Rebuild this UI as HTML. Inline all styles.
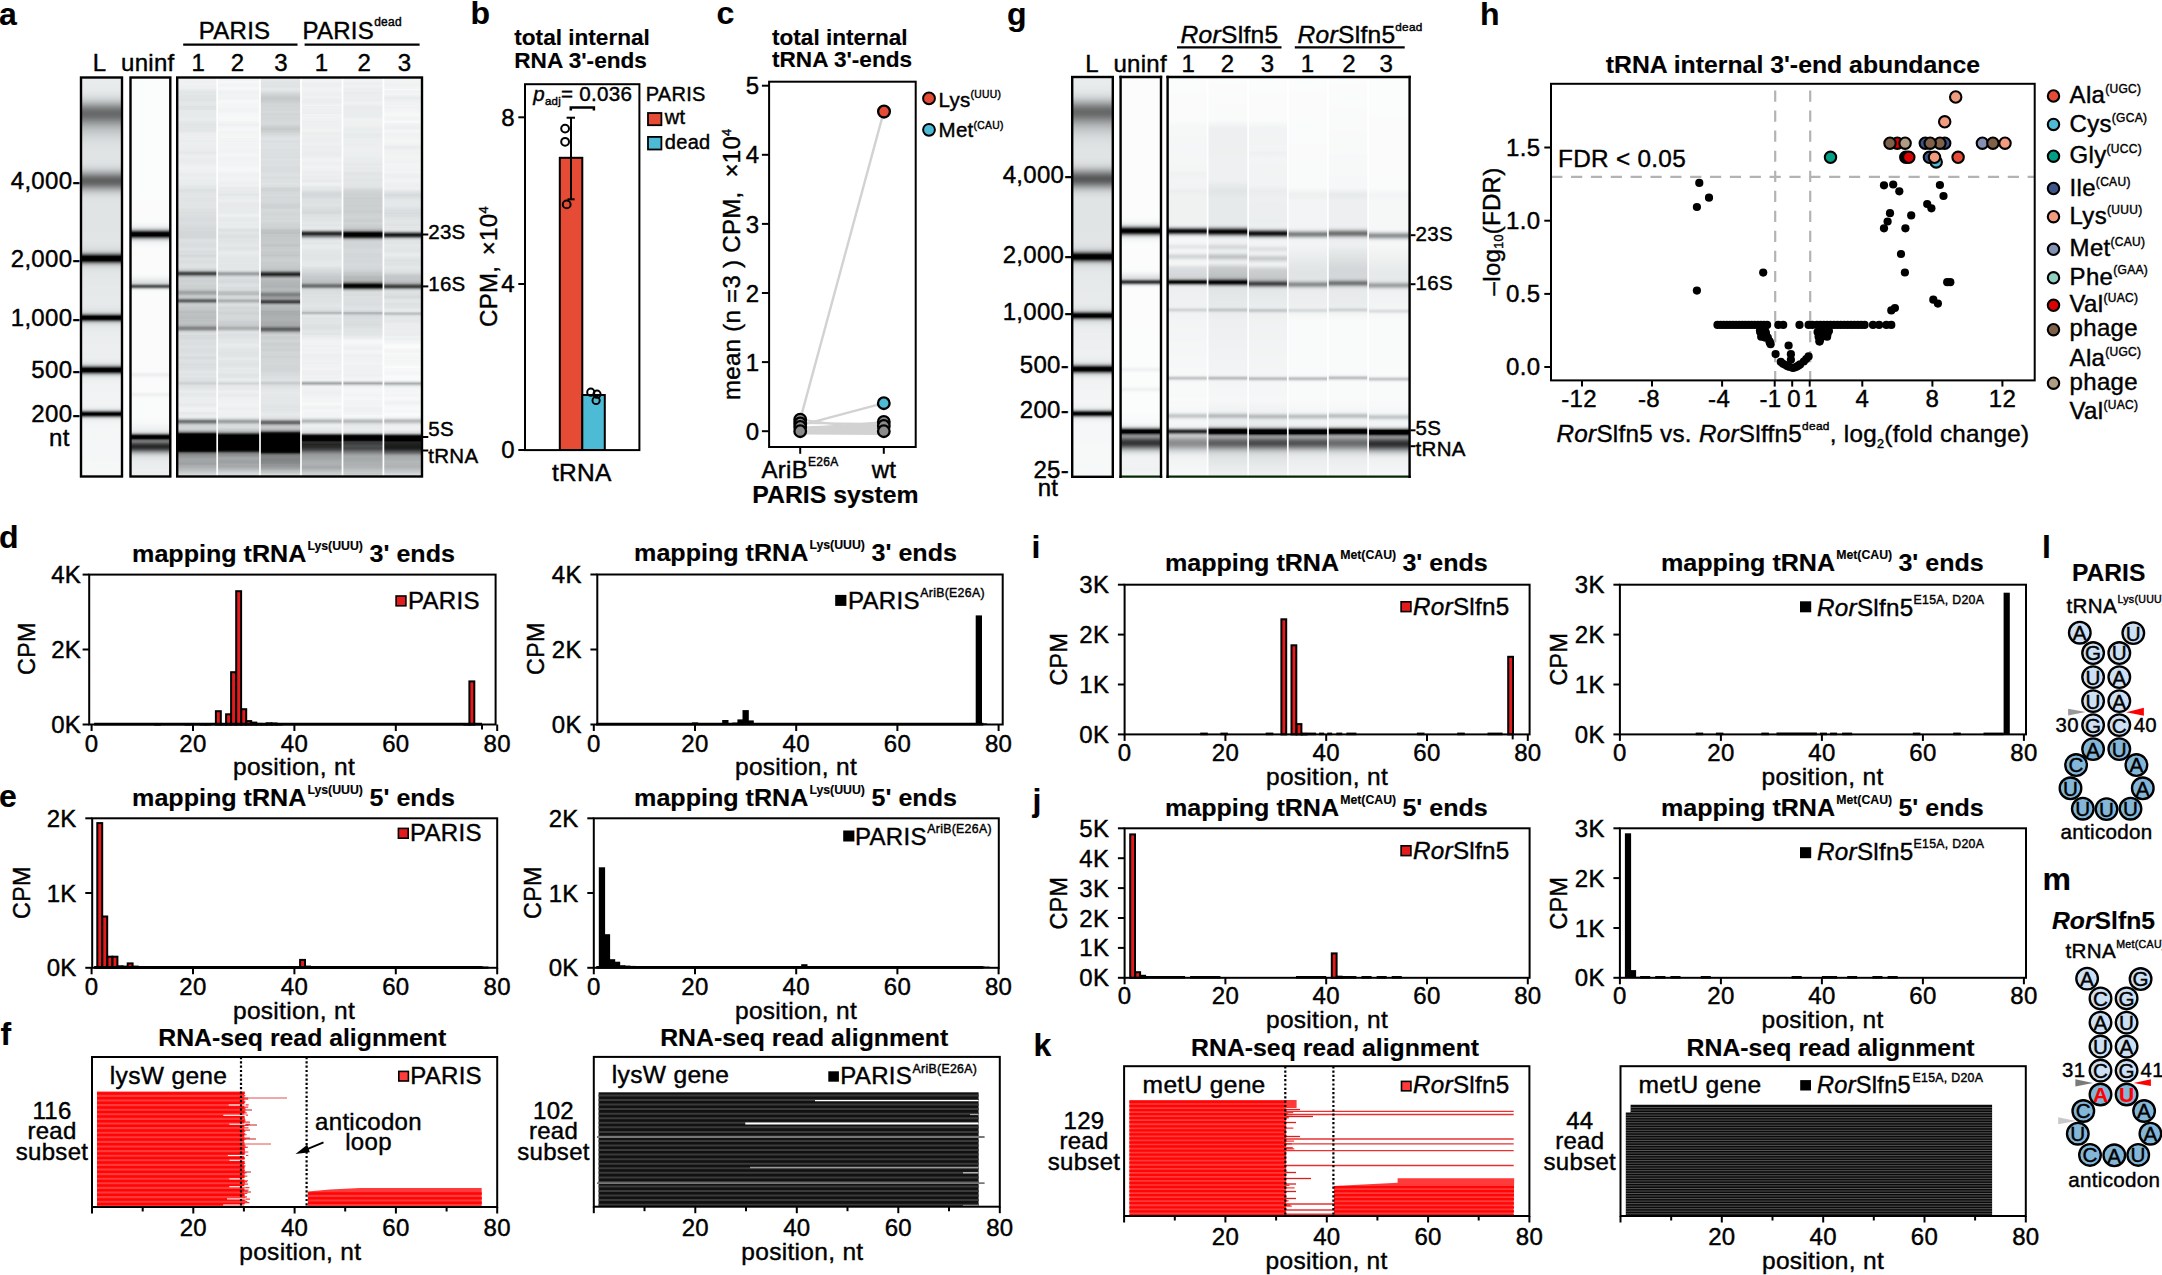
<!DOCTYPE html>
<html lang="en"><head><meta charset="utf-8"><title>Figure: tRNA cleavage by PARIS and RorSlfn5</title>
<style>html,body{margin:0;padding:0;background:#fff}svg{display:block}text{font-family:"Liberation Sans",Arial,Helvetica,sans-serif;fill:#000;stroke:#000;stroke-width:.42px;letter-spacing:.3px}text[font-weight=bold]{letter-spacing:0;stroke-width:.15px}</style></head>
<body><svg width="2162" height="1275" viewBox="0 0 2162 1275">
<defs><linearGradient id="g1" x1="0" y1="0" x2="0" y2="1"><stop offset="0" stop-color="#eaeced"/><stop offset="0.005013" stop-color="#eaeced"/><stop offset="0.007519" stop-color="#e9eced"/><stop offset="0.01003" stop-color="#e9eced"/><stop offset="0.01253" stop-color="#e9ecec"/><stop offset="0.01504" stop-color="#e9ebec"/><stop offset="0.01754" stop-color="#e9ebec"/><stop offset="0.02005" stop-color="#e8ebec"/><stop offset="0.02256" stop-color="#e8ebec"/><stop offset="0.02506" stop-color="#e8eaeb"/><stop offset="0.02757" stop-color="#e7eaeb"/><stop offset="0.03008" stop-color="#e7e9ea"/><stop offset="0.03258" stop-color="#e6e9ea"/><stop offset="0.03509" stop-color="#e5e8e9"/><stop offset="0.03759" stop-color="#e3e7e8"/><stop offset="0.0401" stop-color="#e2e5e6"/><stop offset="0.04261" stop-color="#dfe3e4"/><stop offset="0.04511" stop-color="#dde0e2"/><stop offset="0.04762" stop-color="#d9dddf"/><stop offset="0.05013" stop-color="#d6d9db"/><stop offset="0.05263" stop-color="#d1d5d6"/><stop offset="0.05514" stop-color="#cccfd0"/><stop offset="0.05764" stop-color="#c5c9ca"/><stop offset="0.06015" stop-color="#bec1c2"/><stop offset="0.06266" stop-color="#b6b9ba"/><stop offset="0.06516" stop-color="#adb0b1"/><stop offset="0.06767" stop-color="#a4a7a8"/><stop offset="0.07018" stop-color="#9a9d9e"/><stop offset="0.07268" stop-color="#909394"/><stop offset="0.07519" stop-color="#87898a"/><stop offset="0.07769" stop-color="#7e8181"/><stop offset="0.0802" stop-color="#77797a"/><stop offset="0.08271" stop-color="#707273"/><stop offset="0.08521" stop-color="#6c6e6e"/><stop offset="0.08772" stop-color="#696a6b"/><stop offset="0.09023" stop-color="#67696a"/><stop offset="0.09273" stop-color="#686a6a"/><stop offset="0.09524" stop-color="#6a6c6d"/><stop offset="0.09774" stop-color="#6e7070"/><stop offset="0.1003" stop-color="#737575"/><stop offset="0.1028" stop-color="#797b7b"/><stop offset="0.1053" stop-color="#7f8282"/><stop offset="0.1078" stop-color="#868989"/><stop offset="0.1103" stop-color="#8d9091"/><stop offset="0.1128" stop-color="#959798"/><stop offset="0.1153" stop-color="#9b9e9f"/><stop offset="0.1178" stop-color="#a2a5a6"/><stop offset="0.1203" stop-color="#a8abac"/><stop offset="0.1228" stop-color="#adb1b2"/><stop offset="0.1253" stop-color="#b3b6b7"/><stop offset="0.1278" stop-color="#b7babc"/><stop offset="0.1303" stop-color="#bbbfc0"/><stop offset="0.1328" stop-color="#bfc3c4"/><stop offset="0.1353" stop-color="#c3c6c7"/><stop offset="0.1378" stop-color="#c6c9ca"/><stop offset="0.1404" stop-color="#c9cccd"/><stop offset="0.1429" stop-color="#cbcfd0"/><stop offset="0.1454" stop-color="#ced1d3"/><stop offset="0.1479" stop-color="#d0d4d5"/><stop offset="0.1504" stop-color="#d2d6d7"/><stop offset="0.1529" stop-color="#d4d8d9"/><stop offset="0.1554" stop-color="#d6d9db"/><stop offset="0.1579" stop-color="#d7dbdc"/><stop offset="0.1604" stop-color="#d9dcde"/><stop offset="0.1629" stop-color="#dadedf"/><stop offset="0.1654" stop-color="#dbdfe0"/><stop offset="0.1679" stop-color="#dce0e1"/><stop offset="0.1704" stop-color="#dde1e2"/><stop offset="0.1729" stop-color="#dee1e3"/><stop offset="0.1754" stop-color="#dee2e3"/><stop offset="0.1779" stop-color="#dfe3e4"/><stop offset="0.1805" stop-color="#dfe3e4"/><stop offset="0.183" stop-color="#e0e3e4"/><stop offset="0.1855" stop-color="#e0e4e5"/><stop offset="0.193" stop-color="#e0e4e5"/><stop offset="0.1955" stop-color="#e1e4e5"/><stop offset="0.2005" stop-color="#e1e4e5"/><stop offset="0.203" stop-color="#e0e4e5"/><stop offset="0.2055" stop-color="#e0e4e5"/><stop offset="0.208" stop-color="#e0e3e5"/><stop offset="0.2105" stop-color="#dfe3e4"/><stop offset="0.213" stop-color="#dee2e3"/><stop offset="0.2155" stop-color="#dde1e2"/><stop offset="0.218" stop-color="#dbdfe0"/><stop offset="0.2206" stop-color="#d9dcde"/><stop offset="0.2231" stop-color="#d5d9da"/><stop offset="0.2256" stop-color="#d1d5d6"/><stop offset="0.2281" stop-color="#cccfd1"/><stop offset="0.2306" stop-color="#c5c9ca"/><stop offset="0.2331" stop-color="#bdc0c2"/><stop offset="0.2356" stop-color="#b4b7b8"/><stop offset="0.2381" stop-color="#a9acad"/><stop offset="0.2406" stop-color="#9ea0a1"/><stop offset="0.2431" stop-color="#929495"/><stop offset="0.2456" stop-color="#868889"/><stop offset="0.2481" stop-color="#7a7c7d"/><stop offset="0.2506" stop-color="#707273"/><stop offset="0.2531" stop-color="#686a6a"/><stop offset="0.2556" stop-color="#626464"/><stop offset="0.2581" stop-color="#5f6161"/><stop offset="0.2607" stop-color="#5f6161"/><stop offset="0.2632" stop-color="#626464"/><stop offset="0.2657" stop-color="#686a6a"/><stop offset="0.2682" stop-color="#707273"/><stop offset="0.2707" stop-color="#7a7c7d"/><stop offset="0.2732" stop-color="#868889"/><stop offset="0.2757" stop-color="#929495"/><stop offset="0.2782" stop-color="#9ea0a1"/><stop offset="0.2807" stop-color="#a9acad"/><stop offset="0.2832" stop-color="#b4b7b8"/><stop offset="0.2857" stop-color="#bdc0c2"/><stop offset="0.2882" stop-color="#c5c9ca"/><stop offset="0.2907" stop-color="#cccfd1"/><stop offset="0.2932" stop-color="#d1d5d6"/><stop offset="0.2957" stop-color="#d5d9da"/><stop offset="0.2982" stop-color="#d9dcde"/><stop offset="0.3008" stop-color="#dbdfe0"/><stop offset="0.3033" stop-color="#dde1e2"/><stop offset="0.3058" stop-color="#dee2e3"/><stop offset="0.3083" stop-color="#dfe3e4"/><stop offset="0.3108" stop-color="#e0e3e5"/><stop offset="0.3133" stop-color="#e0e4e5"/><stop offset="0.3158" stop-color="#e1e4e5"/><stop offset="0.381" stop-color="#e1e4e5"/><stop offset="0.3835" stop-color="#e1e4e6"/><stop offset="0.386" stop-color="#e1e4e6"/><stop offset="0.3885" stop-color="#e1e5e6"/><stop offset="0.411" stop-color="#e1e5e6"/><stop offset="0.4135" stop-color="#e1e4e5"/><stop offset="0.416" stop-color="#e0e4e5"/><stop offset="0.4185" stop-color="#e0e3e4"/><stop offset="0.4211" stop-color="#dfe2e4"/><stop offset="0.4236" stop-color="#dde1e2"/><stop offset="0.4261" stop-color="#dbdfe1"/><stop offset="0.4286" stop-color="#d9ddde"/><stop offset="0.4311" stop-color="#d5d9da"/><stop offset="0.4336" stop-color="#ced2d3"/><stop offset="0.4361" stop-color="#c3c6c7"/><stop offset="0.4386" stop-color="#afb3b4"/><stop offset="0.4411" stop-color="#919495"/><stop offset="0.4436" stop-color="#686a6b"/><stop offset="0.4461" stop-color="#383939"/><stop offset="0.4486" stop-color="#080808"/><stop offset="0.4511" stop-color="#000000"/><stop offset="0.4561" stop-color="#000000"/><stop offset="0.4586" stop-color="#080809"/><stop offset="0.4612" stop-color="#38393a"/><stop offset="0.4637" stop-color="#696b6b"/><stop offset="0.4662" stop-color="#929596"/><stop offset="0.4687" stop-color="#b0b3b4"/><stop offset="0.4712" stop-color="#c4c7c8"/><stop offset="0.4737" stop-color="#cfd3d4"/><stop offset="0.4762" stop-color="#d6dadb"/><stop offset="0.4787" stop-color="#dadedf"/><stop offset="0.4812" stop-color="#dde1e2"/><stop offset="0.4837" stop-color="#dfe3e4"/><stop offset="0.4862" stop-color="#e1e4e5"/><stop offset="0.4887" stop-color="#e2e5e6"/><stop offset="0.4912" stop-color="#e3e6e7"/><stop offset="0.4937" stop-color="#e3e6e8"/><stop offset="0.4962" stop-color="#e4e7e8"/><stop offset="0.5013" stop-color="#e4e7e8"/><stop offset="0.5038" stop-color="#e5e8e9"/><stop offset="0.5213" stop-color="#e5e8e9"/><stop offset="0.5238" stop-color="#e6e8e9"/><stop offset="0.5263" stop-color="#e6e9ea"/><stop offset="0.5489" stop-color="#e6e9ea"/><stop offset="0.5514" stop-color="#e7e9ea"/><stop offset="0.5539" stop-color="#e7eaea"/><stop offset="0.5564" stop-color="#e7eaeb"/><stop offset="0.5639" stop-color="#e7eaeb"/><stop offset="0.5664" stop-color="#e7eaea"/><stop offset="0.5689" stop-color="#e6e9ea"/><stop offset="0.5714" stop-color="#e6e9ea"/><stop offset="0.5739" stop-color="#e5e8e9"/><stop offset="0.5764" stop-color="#e4e7e8"/><stop offset="0.5789" stop-color="#e2e6e7"/><stop offset="0.5815" stop-color="#e0e3e5"/><stop offset="0.584" stop-color="#dce0e1"/><stop offset="0.5865" stop-color="#d5d9da"/><stop offset="0.589" stop-color="#c7cbcc"/><stop offset="0.5915" stop-color="#acafb0"/><stop offset="0.594" stop-color="#7e8081"/><stop offset="0.5965" stop-color="#404242"/><stop offset="0.599" stop-color="#050505"/><stop offset="0.6015" stop-color="#000000"/><stop offset="0.604" stop-color="#000000"/><stop offset="0.6065" stop-color="#1b1c1c"/><stop offset="0.609" stop-color="#5a5c5d"/><stop offset="0.6115" stop-color="#939697"/><stop offset="0.614" stop-color="#babdbe"/><stop offset="0.6165" stop-color="#cfd3d4"/><stop offset="0.619" stop-color="#dadedf"/><stop offset="0.6216" stop-color="#dfe3e4"/><stop offset="0.6241" stop-color="#e3e6e7"/><stop offset="0.6266" stop-color="#e5e8e9"/><stop offset="0.6291" stop-color="#e7e9ea"/><stop offset="0.6316" stop-color="#e8ebeb"/><stop offset="0.6341" stop-color="#e9ebec"/><stop offset="0.6366" stop-color="#e9eced"/><stop offset="0.6391" stop-color="#eaeced"/><stop offset="0.6416" stop-color="#eaeded"/><stop offset="0.6441" stop-color="#eaedee"/><stop offset="0.6466" stop-color="#eaedee"/><stop offset="0.6491" stop-color="#ebedee"/><stop offset="0.6591" stop-color="#ebedee"/><stop offset="0.6617" stop-color="#ebeeee"/><stop offset="0.6642" stop-color="#ebeeee"/><stop offset="0.6667" stop-color="#ebeeef"/><stop offset="0.6692" stop-color="#eceeef"/><stop offset="0.6842" stop-color="#eceeef"/><stop offset="0.6867" stop-color="#ecefef"/><stop offset="0.6892" stop-color="#ecefef"/><stop offset="0.6917" stop-color="#edefef"/><stop offset="0.6942" stop-color="#edefef"/><stop offset="0.6967" stop-color="#ecefef"/><stop offset="0.6992" stop-color="#eceeef"/><stop offset="0.7018" stop-color="#eceeef"/><stop offset="0.7043" stop-color="#ebedee"/><stop offset="0.7068" stop-color="#eaeced"/><stop offset="0.7093" stop-color="#e8ebec"/><stop offset="0.7118" stop-color="#e6e9ea"/><stop offset="0.7143" stop-color="#e1e4e5"/><stop offset="0.7168" stop-color="#d8dcdd"/><stop offset="0.7193" stop-color="#c8cccd"/><stop offset="0.7218" stop-color="#abaeaf"/><stop offset="0.7243" stop-color="#7d7f80"/><stop offset="0.7268" stop-color="#434444"/><stop offset="0.7293" stop-color="#0a0a0a"/><stop offset="0.7318" stop-color="#000000"/><stop offset="0.7343" stop-color="#000000"/><stop offset="0.7368" stop-color="#0a0a0a"/><stop offset="0.7393" stop-color="#434545"/><stop offset="0.7419" stop-color="#7e8081"/><stop offset="0.7444" stop-color="#acafb0"/><stop offset="0.7469" stop-color="#c9cdce"/><stop offset="0.7494" stop-color="#d9dddf"/><stop offset="0.7519" stop-color="#e3e6e7"/><stop offset="0.7544" stop-color="#e8eaeb"/><stop offset="0.7569" stop-color="#ebedee"/><stop offset="0.7594" stop-color="#edefef"/><stop offset="0.7619" stop-color="#eef0f1"/><stop offset="0.7644" stop-color="#eff1f1"/><stop offset="0.7669" stop-color="#eff1f2"/><stop offset="0.7694" stop-color="#f0f2f2"/><stop offset="0.7719" stop-color="#f0f2f3"/><stop offset="0.7744" stop-color="#f0f2f3"/><stop offset="0.7769" stop-color="#f1f2f3"/><stop offset="0.7794" stop-color="#f1f2f3"/><stop offset="0.782" stop-color="#f1f3f3"/><stop offset="0.7895" stop-color="#f1f3f3"/><stop offset="0.792" stop-color="#f1f3f4"/><stop offset="0.7945" stop-color="#f1f3f4"/><stop offset="0.797" stop-color="#f2f3f4"/><stop offset="0.8045" stop-color="#f2f3f4"/><stop offset="0.807" stop-color="#f2f4f4"/><stop offset="0.8145" stop-color="#f2f4f4"/><stop offset="0.817" stop-color="#f2f3f4"/><stop offset="0.8195" stop-color="#f1f3f3"/><stop offset="0.8221" stop-color="#f0f2f3"/><stop offset="0.8246" stop-color="#eef0f1"/><stop offset="0.8271" stop-color="#ebedee"/><stop offset="0.8296" stop-color="#e3e7e8"/><stop offset="0.8321" stop-color="#d2d6d7"/><stop offset="0.8346" stop-color="#b0b3b4"/><stop offset="0.8371" stop-color="#757778"/><stop offset="0.8396" stop-color="#2e2f2f"/><stop offset="0.8421" stop-color="#000000"/><stop offset="0.8446" stop-color="#000000"/><stop offset="0.8471" stop-color="#2e2f30"/><stop offset="0.8496" stop-color="#767878"/><stop offset="0.8521" stop-color="#b0b4b5"/><stop offset="0.8546" stop-color="#d3d7d8"/><stop offset="0.8571" stop-color="#e5e8e9"/><stop offset="0.8596" stop-color="#edefef"/><stop offset="0.8622" stop-color="#f0f2f2"/><stop offset="0.8647" stop-color="#f2f3f4"/><stop offset="0.8672" stop-color="#f3f4f5"/><stop offset="0.8697" stop-color="#f4f5f6"/><stop offset="0.8722" stop-color="#f4f5f6"/><stop offset="0.8747" stop-color="#f4f6f6"/><stop offset="0.8772" stop-color="#f4f6f6"/><stop offset="0.8797" stop-color="#f5f6f6"/><stop offset="0.9048" stop-color="#f5f6f6"/><stop offset="0.9073" stop-color="#f5f6f7"/><stop offset="0.9474" stop-color="#f5f6f7"/><stop offset="0.9499" stop-color="#f5f7f7"/><stop offset="0.9624" stop-color="#f5f7f7"/><stop offset="0.9649" stop-color="#f6f7f7"/><stop offset="1" stop-color="#f6f7f7"/></linearGradient>
<linearGradient id="g2" x1="0" y1="0" x2="0" y2="1"><stop offset="0" stop-color="#fbfcfc"/><stop offset="0.3083" stop-color="#fbfcfc"/><stop offset="0.3108" stop-color="#fbfbfc"/><stop offset="0.3459" stop-color="#fbfbfc"/><stop offset="0.3484" stop-color="#fbfbfb"/><stop offset="0.3509" stop-color="#fbfbfb"/><stop offset="0.3534" stop-color="#fafbfb"/><stop offset="0.3559" stop-color="#fafbfb"/><stop offset="0.3584" stop-color="#fafafb"/><stop offset="0.3609" stop-color="#f9fafa"/><stop offset="0.3634" stop-color="#f8f9f9"/><stop offset="0.3659" stop-color="#f6f7f8"/><stop offset="0.3684" stop-color="#f4f6f6"/><stop offset="0.3709" stop-color="#f1f3f3"/><stop offset="0.3734" stop-color="#ebeeee"/><stop offset="0.3759" stop-color="#e0e4e5"/><stop offset="0.3784" stop-color="#cfd2d4"/><stop offset="0.381" stop-color="#b1b5b6"/><stop offset="0.3835" stop-color="#868889"/><stop offset="0.386" stop-color="#4e5050"/><stop offset="0.3885" stop-color="#171717"/><stop offset="0.391" stop-color="#000000"/><stop offset="0.396" stop-color="#000000"/><stop offset="0.3985" stop-color="#2c2d2d"/><stop offset="0.401" stop-color="#656768"/><stop offset="0.4035" stop-color="#999c9c"/><stop offset="0.406" stop-color="#bfc2c3"/><stop offset="0.4085" stop-color="#d7dbdc"/><stop offset="0.411" stop-color="#e6e8e9"/><stop offset="0.4135" stop-color="#eef0f1"/><stop offset="0.416" stop-color="#f2f4f5"/><stop offset="0.4185" stop-color="#f5f6f7"/><stop offset="0.4211" stop-color="#f7f8f8"/><stop offset="0.4236" stop-color="#f8f9f9"/><stop offset="0.4261" stop-color="#f9fafa"/><stop offset="0.4286" stop-color="#fafafb"/><stop offset="0.4311" stop-color="#fafbfb"/><stop offset="0.4336" stop-color="#fafbfb"/><stop offset="0.4361" stop-color="#fbfbfb"/><stop offset="0.4411" stop-color="#fbfbfb"/><stop offset="0.4436" stop-color="#fbfbfc"/><stop offset="0.4787" stop-color="#fbfbfc"/><stop offset="0.4812" stop-color="#fbfbfb"/><stop offset="0.4862" stop-color="#fbfbfb"/><stop offset="0.4887" stop-color="#fafbfb"/><stop offset="0.4912" stop-color="#fafbfb"/><stop offset="0.4937" stop-color="#f9fafa"/><stop offset="0.4962" stop-color="#f8f9f9"/><stop offset="0.4987" stop-color="#f5f7f7"/><stop offset="0.5013" stop-color="#f2f4f4"/><stop offset="0.5038" stop-color="#eef0f0"/><stop offset="0.5063" stop-color="#e9ebec"/><stop offset="0.5088" stop-color="#e3e7e8"/><stop offset="0.5113" stop-color="#dfe2e3"/><stop offset="0.5138" stop-color="#d8dcdd"/><stop offset="0.5163" stop-color="#c6c9cb"/><stop offset="0.5188" stop-color="#9c9fa0"/><stop offset="0.5213" stop-color="#656768"/><stop offset="0.5238" stop-color="#515353"/><stop offset="0.5263" stop-color="#787b7b"/><stop offset="0.5288" stop-color="#b6babb"/><stop offset="0.5313" stop-color="#e0e4e5"/><stop offset="0.5338" stop-color="#f3f5f5"/><stop offset="0.5363" stop-color="#f9f9fa"/><stop offset="0.5388" stop-color="#fafbfb"/><stop offset="0.5414" stop-color="#fafbfb"/><stop offset="0.5439" stop-color="#fbfbfb"/><stop offset="0.7318" stop-color="#fbfbfb"/><stop offset="0.7343" stop-color="#fafbfb"/><stop offset="0.7368" stop-color="#f9fafa"/><stop offset="0.7393" stop-color="#f6f7f7"/><stop offset="0.7419" stop-color="#f0f2f3"/><stop offset="0.7444" stop-color="#eceeef"/><stop offset="0.7469" stop-color="#edeff0"/><stop offset="0.7494" stop-color="#f3f4f5"/><stop offset="0.7519" stop-color="#f8f8f9"/><stop offset="0.7544" stop-color="#fafafb"/><stop offset="0.7569" stop-color="#fafbfb"/><stop offset="0.7594" stop-color="#fbfbfb"/><stop offset="0.7794" stop-color="#fbfbfb"/><stop offset="0.782" stop-color="#fafbfb"/><stop offset="0.7845" stop-color="#fafbfb"/><stop offset="0.787" stop-color="#f9fafa"/><stop offset="0.7895" stop-color="#f6f7f7"/><stop offset="0.792" stop-color="#f1f3f3"/><stop offset="0.7945" stop-color="#eef0f1"/><stop offset="0.797" stop-color="#f0f2f3"/><stop offset="0.7995" stop-color="#f5f6f7"/><stop offset="0.802" stop-color="#f9f9fa"/><stop offset="0.8045" stop-color="#fafbfb"/><stop offset="0.8521" stop-color="#fafbfb"/><stop offset="0.8546" stop-color="#fafafb"/><stop offset="0.8571" stop-color="#f9fafa"/><stop offset="0.8596" stop-color="#f9fafa"/><stop offset="0.8622" stop-color="#f8f9f9"/><stop offset="0.8647" stop-color="#f8f8f9"/><stop offset="0.8672" stop-color="#f7f8f8"/><stop offset="0.8697" stop-color="#f5f7f7"/><stop offset="0.8722" stop-color="#f4f5f6"/><stop offset="0.8747" stop-color="#f2f4f4"/><stop offset="0.8772" stop-color="#f1f2f3"/><stop offset="0.8797" stop-color="#eef0f1"/><stop offset="0.8822" stop-color="#eceeef"/><stop offset="0.8847" stop-color="#e8ebeb"/><stop offset="0.8872" stop-color="#dfe3e4"/><stop offset="0.8897" stop-color="#cdd0d2"/><stop offset="0.8922" stop-color="#a6a9aa"/><stop offset="0.8947" stop-color="#666869"/><stop offset="0.8972" stop-color="#1a1a1b"/><stop offset="0.8997" stop-color="#000000"/><stop offset="0.9023" stop-color="#000000"/><stop offset="0.9048" stop-color="#0e0e0e"/><stop offset="0.9073" stop-color="#464848"/><stop offset="0.9098" stop-color="#6b6d6e"/><stop offset="0.9123" stop-color="#737576"/><stop offset="0.9148" stop-color="#666869"/><stop offset="0.9173" stop-color="#515353"/><stop offset="0.9198" stop-color="#3d3e3e"/><stop offset="0.9223" stop-color="#2e2f2f"/><stop offset="0.9248" stop-color="#282829"/><stop offset="0.9273" stop-color="#2c2d2d"/><stop offset="0.9298" stop-color="#3a3b3b"/><stop offset="0.9323" stop-color="#4f5051"/><stop offset="0.9348" stop-color="#696b6c"/><stop offset="0.9373" stop-color="#858888"/><stop offset="0.9398" stop-color="#9fa2a3"/><stop offset="0.9424" stop-color="#b4b7b8"/><stop offset="0.9449" stop-color="#c5c8ca"/><stop offset="0.9474" stop-color="#d1d5d6"/><stop offset="0.9499" stop-color="#d9ddde"/><stop offset="0.9524" stop-color="#dee2e3"/><stop offset="0.9549" stop-color="#e2e6e7"/><stop offset="0.9574" stop-color="#e5e8e9"/><stop offset="0.9599" stop-color="#e7eaeb"/><stop offset="0.9624" stop-color="#e9ebec"/><stop offset="0.9649" stop-color="#e9eced"/><stop offset="0.9674" stop-color="#eaeced"/><stop offset="0.9699" stop-color="#eaedee"/><stop offset="0.9724" stop-color="#ebedee"/><stop offset="0.9749" stop-color="#ebedee"/><stop offset="0.9774" stop-color="#ebeeee"/><stop offset="0.9799" stop-color="#ebeeef"/><stop offset="0.9825" stop-color="#eceeef"/><stop offset="0.99" stop-color="#eceeef"/><stop offset="0.9925" stop-color="#ecefef"/><stop offset="0.995" stop-color="#edefef"/><stop offset="0.9975" stop-color="#edeff0"/><stop offset="1" stop-color="#edeff0"/></linearGradient>
<linearGradient id="g3" x1="0" y1="0" x2="0" y2="1"><stop offset="0" stop-color="#f2f4f4"/><stop offset="0.003333" stop-color="#f1f3f3"/><stop offset="0.006667" stop-color="#eff1f2"/><stop offset="0.01" stop-color="#eff1f2"/><stop offset="0.01333" stop-color="#eef0f1"/><stop offset="0.01667" stop-color="#f1f3f4"/><stop offset="0.02" stop-color="#eff0f1"/><stop offset="0.02333" stop-color="#eef0f1"/><stop offset="0.02667" stop-color="#eef0f0"/><stop offset="0.03" stop-color="#e9eced"/><stop offset="0.03333" stop-color="#e6e9ea"/><stop offset="0.03667" stop-color="#e2e5e6"/><stop offset="0.04" stop-color="#e4e7e8"/><stop offset="0.04333" stop-color="#e3e6e7"/><stop offset="0.04667" stop-color="#e1e4e5"/><stop offset="0.05" stop-color="#e1e5e6"/><stop offset="0.05333" stop-color="#dfe3e4"/><stop offset="0.05667" stop-color="#e0e3e4"/><stop offset="0.06" stop-color="#e3e6e7"/><stop offset="0.06333" stop-color="#e5e8e9"/><stop offset="0.06667" stop-color="#e4e7e8"/><stop offset="0.07" stop-color="#e3e7e8"/><stop offset="0.07333" stop-color="#dee1e3"/><stop offset="0.07667" stop-color="#dfe3e4"/><stop offset="0.08" stop-color="#e1e4e5"/><stop offset="0.08333" stop-color="#e8eaeb"/><stop offset="0.08667" stop-color="#e7eaeb"/><stop offset="0.09" stop-color="#e7eaeb"/><stop offset="0.09333" stop-color="#e6e8e9"/><stop offset="0.09667" stop-color="#e7eaeb"/><stop offset="0.1" stop-color="#e8ebeb"/><stop offset="0.1033" stop-color="#e9eced"/><stop offset="0.1067" stop-color="#eaeced"/><stop offset="0.11" stop-color="#e4e7e8"/><stop offset="0.1133" stop-color="#e5e8e9"/><stop offset="0.1167" stop-color="#e1e4e5"/><stop offset="0.12" stop-color="#e3e6e7"/><stop offset="0.1233" stop-color="#e1e5e6"/><stop offset="0.1267" stop-color="#e4e7e8"/><stop offset="0.13" stop-color="#e3e6e7"/><stop offset="0.1333" stop-color="#e3e6e7"/><stop offset="0.1367" stop-color="#e6e9ea"/><stop offset="0.14" stop-color="#ebedee"/><stop offset="0.1433" stop-color="#ebedee"/><stop offset="0.1467" stop-color="#edeff0"/><stop offset="0.15" stop-color="#ebedee"/><stop offset="0.1533" stop-color="#eceeef"/><stop offset="0.1567" stop-color="#ebeeef"/><stop offset="0.16" stop-color="#eaeced"/><stop offset="0.1633" stop-color="#eceeef"/><stop offset="0.1667" stop-color="#ecefef"/><stop offset="0.17" stop-color="#ebeeee"/><stop offset="0.1733" stop-color="#ebedee"/><stop offset="0.1767" stop-color="#ebedee"/><stop offset="0.18" stop-color="#eaeced"/><stop offset="0.1833" stop-color="#e9ebec"/><stop offset="0.1867" stop-color="#e6e9ea"/><stop offset="0.19" stop-color="#e6e9ea"/><stop offset="0.1933" stop-color="#eaeced"/><stop offset="0.1967" stop-color="#eceeef"/><stop offset="0.2" stop-color="#eceeef"/><stop offset="0.2033" stop-color="#e9eced"/><stop offset="0.2067" stop-color="#eaeced"/><stop offset="0.21" stop-color="#e8ebeb"/><stop offset="0.2133" stop-color="#ebedee"/><stop offset="0.2167" stop-color="#ebeeee"/><stop offset="0.22" stop-color="#eef0f0"/><stop offset="0.2233" stop-color="#eef0f1"/><stop offset="0.2267" stop-color="#f0f2f2"/><stop offset="0.23" stop-color="#f0f2f2"/><stop offset="0.2333" stop-color="#eef0f0"/><stop offset="0.2367" stop-color="#eff1f1"/><stop offset="0.24" stop-color="#ebeeee"/><stop offset="0.2433" stop-color="#e9ebec"/><stop offset="0.2467" stop-color="#eaeced"/><stop offset="0.25" stop-color="#edeff0"/><stop offset="0.2533" stop-color="#eceeef"/><stop offset="0.2567" stop-color="#eaeced"/><stop offset="0.26" stop-color="#e9eced"/><stop offset="0.2633" stop-color="#eaeded"/><stop offset="0.2667" stop-color="#e9eced"/><stop offset="0.27" stop-color="#e7eaeb"/><stop offset="0.2733" stop-color="#e4e7e8"/><stop offset="0.2767" stop-color="#e4e7e8"/><stop offset="0.28" stop-color="#dee2e3"/><stop offset="0.2833" stop-color="#dce0e1"/><stop offset="0.2867" stop-color="#dee2e3"/><stop offset="0.29" stop-color="#e2e5e6"/><stop offset="0.2933" stop-color="#e1e5e6"/><stop offset="0.2967" stop-color="#e1e5e6"/><stop offset="0.3" stop-color="#e2e6e7"/><stop offset="0.3033" stop-color="#dfe3e4"/><stop offset="0.3067" stop-color="#e1e4e6"/><stop offset="0.31" stop-color="#dfe3e4"/><stop offset="0.3133" stop-color="#e3e6e7"/><stop offset="0.3167" stop-color="#e1e4e5"/><stop offset="0.32" stop-color="#e2e5e6"/><stop offset="0.3233" stop-color="#e1e4e5"/><stop offset="0.3267" stop-color="#e3e6e7"/><stop offset="0.33" stop-color="#dce0e1"/><stop offset="0.3333" stop-color="#dde1e2"/><stop offset="0.3367" stop-color="#dce0e1"/><stop offset="0.34" stop-color="#dadedf"/><stop offset="0.3433" stop-color="#dce0e1"/><stop offset="0.3467" stop-color="#dadee0"/><stop offset="0.35" stop-color="#dadedf"/><stop offset="0.3533" stop-color="#d7dbdd"/><stop offset="0.3567" stop-color="#d8dcdd"/><stop offset="0.36" stop-color="#d9dcde"/><stop offset="0.3633" stop-color="#dadee0"/><stop offset="0.3667" stop-color="#dadee0"/><stop offset="0.37" stop-color="#d7dbdc"/><stop offset="0.3733" stop-color="#d7dbdc"/><stop offset="0.3767" stop-color="#d5d9db"/><stop offset="0.38" stop-color="#d5d9db"/><stop offset="0.3833" stop-color="#d6dadb"/><stop offset="0.3867" stop-color="#d2d6d7"/><stop offset="0.39" stop-color="#d3d7d8"/><stop offset="0.3933" stop-color="#d4d7d9"/><stop offset="0.3967" stop-color="#d4d7d9"/><stop offset="0.4" stop-color="#d2d6d7"/><stop offset="0.4033" stop-color="#d6dadb"/><stop offset="0.4067" stop-color="#dce0e1"/><stop offset="0.41" stop-color="#dce0e1"/><stop offset="0.4133" stop-color="#dbdfe0"/><stop offset="0.4167" stop-color="#dadee0"/><stop offset="0.42" stop-color="#d8dbdd"/><stop offset="0.4233" stop-color="#dbdfe0"/><stop offset="0.4267" stop-color="#dbdfe0"/><stop offset="0.43" stop-color="#e0e3e4"/><stop offset="0.4333" stop-color="#dce0e1"/><stop offset="0.4367" stop-color="#d9ddde"/><stop offset="0.44" stop-color="#dadee0"/><stop offset="0.4433" stop-color="#dadedf"/><stop offset="0.4467" stop-color="#d3d7d9"/><stop offset="0.45" stop-color="#d9dddf"/><stop offset="0.4533" stop-color="#dbdfe0"/><stop offset="0.4567" stop-color="#dee2e3"/><stop offset="0.46" stop-color="#d8dcdd"/><stop offset="0.4633" stop-color="#dadedf"/><stop offset="0.4667" stop-color="#dce0e1"/><stop offset="0.47" stop-color="#dee2e3"/><stop offset="0.4733" stop-color="#dfe3e4"/><stop offset="0.4767" stop-color="#dbdfe0"/><stop offset="0.48" stop-color="#d4d8d9"/><stop offset="0.4833" stop-color="#c2c5c6"/><stop offset="0.4867" stop-color="#888b8c"/><stop offset="0.49" stop-color="#414242"/><stop offset="0.4933" stop-color="#4a4b4c"/><stop offset="0.4967" stop-color="#919495"/><stop offset="0.5" stop-color="#bdc1c2"/><stop offset="0.5033" stop-color="#ccd0d1"/><stop offset="0.5067" stop-color="#cfd2d4"/><stop offset="0.51" stop-color="#cccfd1"/><stop offset="0.5133" stop-color="#cfd3d4"/><stop offset="0.5167" stop-color="#cfd3d4"/><stop offset="0.52" stop-color="#ced2d3"/><stop offset="0.5233" stop-color="#cbcecf"/><stop offset="0.5267" stop-color="#cdd1d2"/><stop offset="0.53" stop-color="#c8cbcd"/><stop offset="0.5333" stop-color="#bcc0c1"/><stop offset="0.5367" stop-color="#a4a7a8"/><stop offset="0.54" stop-color="#9fa2a3"/><stop offset="0.5433" stop-color="#acafb0"/><stop offset="0.5467" stop-color="#c0c4c5"/><stop offset="0.55" stop-color="#c8cccd"/><stop offset="0.5533" stop-color="#b2b6b7"/><stop offset="0.5567" stop-color="#7b7d7e"/><stop offset="0.56" stop-color="#525354"/><stop offset="0.5633" stop-color="#87898a"/><stop offset="0.5667" stop-color="#bdc1c2"/><stop offset="0.57" stop-color="#cccfd1"/><stop offset="0.5733" stop-color="#c9cdce"/><stop offset="0.5767" stop-color="#c5c9ca"/><stop offset="0.58" stop-color="#c5c8ca"/><stop offset="0.5833" stop-color="#c1c5c6"/><stop offset="0.5867" stop-color="#bcbfc0"/><stop offset="0.59" stop-color="#babdbf"/><stop offset="0.5933" stop-color="#c0c3c4"/><stop offset="0.5967" stop-color="#bbbfc0"/><stop offset="0.6" stop-color="#bcbfc0"/><stop offset="0.6033" stop-color="#b9bdbe"/><stop offset="0.6067" stop-color="#bec1c2"/><stop offset="0.61" stop-color="#babebf"/><stop offset="0.6133" stop-color="#c0c4c5"/><stop offset="0.6167" stop-color="#bdc0c1"/><stop offset="0.62" stop-color="#babdbe"/><stop offset="0.6233" stop-color="#a3a6a7"/><stop offset="0.6267" stop-color="#858788"/><stop offset="0.63" stop-color="#818384"/><stop offset="0.6333" stop-color="#a1a3a4"/><stop offset="0.6367" stop-color="#cacecf"/><stop offset="0.64" stop-color="#d7dbdd"/><stop offset="0.6433" stop-color="#dde1e2"/><stop offset="0.6467" stop-color="#d5d9da"/><stop offset="0.65" stop-color="#d7dbdc"/><stop offset="0.6533" stop-color="#d5d9db"/><stop offset="0.6567" stop-color="#d9ddde"/><stop offset="0.66" stop-color="#dbdfe0"/><stop offset="0.6633" stop-color="#dbdfe0"/><stop offset="0.6667" stop-color="#dadee0"/><stop offset="0.67" stop-color="#dadedf"/><stop offset="0.6733" stop-color="#dde1e2"/><stop offset="0.6767" stop-color="#dee1e3"/><stop offset="0.68" stop-color="#dadedf"/><stop offset="0.6833" stop-color="#d9ddde"/><stop offset="0.6867" stop-color="#dadedf"/><stop offset="0.69" stop-color="#dce0e1"/><stop offset="0.6933" stop-color="#dde1e2"/><stop offset="0.6967" stop-color="#dfe2e4"/><stop offset="0.7" stop-color="#d8dcde"/><stop offset="0.7033" stop-color="#d8dcdd"/><stop offset="0.7067" stop-color="#dcdfe1"/><stop offset="0.71" stop-color="#dee2e3"/><stop offset="0.7133" stop-color="#dde1e2"/><stop offset="0.7167" stop-color="#dbdfe0"/><stop offset="0.72" stop-color="#d8dcdd"/><stop offset="0.7233" stop-color="#dce0e1"/><stop offset="0.7267" stop-color="#dadee0"/><stop offset="0.73" stop-color="#dce0e2"/><stop offset="0.7333" stop-color="#dee2e3"/><stop offset="0.7367" stop-color="#e2e6e7"/><stop offset="0.74" stop-color="#e1e5e6"/><stop offset="0.7433" stop-color="#e0e3e5"/><stop offset="0.7467" stop-color="#e0e4e5"/><stop offset="0.75" stop-color="#e3e6e7"/><stop offset="0.7533" stop-color="#dee1e3"/><stop offset="0.7567" stop-color="#dde1e2"/><stop offset="0.76" stop-color="#dee1e3"/><stop offset="0.7633" stop-color="#d4d7d9"/><stop offset="0.7667" stop-color="#cdd1d2"/><stop offset="0.77" stop-color="#d6dadb"/><stop offset="0.7733" stop-color="#e1e4e5"/><stop offset="0.7767" stop-color="#e0e3e4"/><stop offset="0.78" stop-color="#e3e7e8"/><stop offset="0.7833" stop-color="#e6e9ea"/><stop offset="0.7867" stop-color="#eaeced"/><stop offset="0.79" stop-color="#e8ebec"/><stop offset="0.7933" stop-color="#e5e8e9"/><stop offset="0.7967" stop-color="#e7eaeb"/><stop offset="0.8" stop-color="#e8eaeb"/><stop offset="0.8033" stop-color="#ebedee"/><stop offset="0.8067" stop-color="#ebeeee"/><stop offset="0.81" stop-color="#ebedee"/><stop offset="0.8133" stop-color="#eceeef"/><stop offset="0.8167" stop-color="#e9ebec"/><stop offset="0.82" stop-color="#e7e9ea"/><stop offset="0.8233" stop-color="#e9eced"/><stop offset="0.8267" stop-color="#eef0f0"/><stop offset="0.83" stop-color="#f1f2f3"/><stop offset="0.8333" stop-color="#eff1f1"/><stop offset="0.8367" stop-color="#eef0f1"/><stop offset="0.84" stop-color="#e6e9ea"/><stop offset="0.8433" stop-color="#e7eaeb"/><stop offset="0.8467" stop-color="#ebedee"/><stop offset="0.85" stop-color="#eceeef"/><stop offset="0.8533" stop-color="#e0e3e4"/><stop offset="0.8567" stop-color="#b8bcbd"/><stop offset="0.86" stop-color="#7c7f7f"/><stop offset="0.8633" stop-color="#6c6e6e"/><stop offset="0.8667" stop-color="#999c9d"/><stop offset="0.87" stop-color="#c3c6c7"/><stop offset="0.8733" stop-color="#d3d6d8"/><stop offset="0.8767" stop-color="#d2d6d7"/><stop offset="0.88" stop-color="#d3d6d8"/><stop offset="0.8833" stop-color="#c4c8c9"/><stop offset="0.8867" stop-color="#a5a8a9"/><stop offset="0.89" stop-color="#656667"/><stop offset="0.8933" stop-color="#050505"/><stop offset="0.8967" stop-color="#000000"/><stop offset="0.9333" stop-color="#000000"/><stop offset="0.9367" stop-color="#0c0c0c"/><stop offset="0.94" stop-color="#57595a"/><stop offset="0.9433" stop-color="#7e8081"/><stop offset="0.9467" stop-color="#8d8f90"/><stop offset="0.95" stop-color="#949798"/><stop offset="0.9533" stop-color="#9b9e9f"/><stop offset="0.9567" stop-color="#a3a6a7"/><stop offset="0.96" stop-color="#a1a4a5"/><stop offset="0.9633" stop-color="#a4a7a8"/><stop offset="0.9667" stop-color="#9da0a1"/><stop offset="0.97" stop-color="#a1a4a5"/><stop offset="0.9733" stop-color="#acafb0"/><stop offset="0.9767" stop-color="#adb0b1"/><stop offset="0.98" stop-color="#b7babb"/><stop offset="0.9833" stop-color="#b9bdbe"/><stop offset="0.9867" stop-color="#c1c5c6"/><stop offset="0.99" stop-color="#c8cccd"/><stop offset="0.9933" stop-color="#d0d4d5"/><stop offset="0.9967" stop-color="#d9ddde"/><stop offset="1" stop-color="#dde1e2"/></linearGradient>
<linearGradient id="g4" x1="0" y1="0" x2="0" y2="1"><stop offset="0" stop-color="#f5f6f7"/><stop offset="0.003333" stop-color="#f2f4f4"/><stop offset="0.006667" stop-color="#f3f5f5"/><stop offset="0.01" stop-color="#f6f7f8"/><stop offset="0.01333" stop-color="#f6f7f7"/><stop offset="0.01667" stop-color="#f2f4f5"/><stop offset="0.02" stop-color="#f3f4f5"/><stop offset="0.02333" stop-color="#f4f5f6"/><stop offset="0.02667" stop-color="#f7f8f8"/><stop offset="0.03" stop-color="#f5f6f7"/><stop offset="0.03333" stop-color="#f1f2f3"/><stop offset="0.03667" stop-color="#f0f2f3"/><stop offset="0.04" stop-color="#f0f2f2"/><stop offset="0.04333" stop-color="#f2f4f4"/><stop offset="0.04667" stop-color="#f2f4f4"/><stop offset="0.05" stop-color="#f2f3f4"/><stop offset="0.05333" stop-color="#f0f2f2"/><stop offset="0.05667" stop-color="#f6f7f8"/><stop offset="0.06" stop-color="#f6f8f8"/><stop offset="0.06333" stop-color="#f6f7f7"/><stop offset="0.06667" stop-color="#f4f5f5"/><stop offset="0.07" stop-color="#f4f5f6"/><stop offset="0.07333" stop-color="#f4f6f6"/><stop offset="0.07667" stop-color="#f3f4f5"/><stop offset="0.08" stop-color="#f2f3f4"/><stop offset="0.08333" stop-color="#f1f3f3"/><stop offset="0.08667" stop-color="#f3f4f5"/><stop offset="0.09" stop-color="#f5f6f7"/><stop offset="0.09333" stop-color="#f7f8f9"/><stop offset="0.09667" stop-color="#f4f5f6"/><stop offset="0.1" stop-color="#f8f9f9"/><stop offset="0.1033" stop-color="#f6f7f7"/><stop offset="0.1067" stop-color="#f7f8f8"/><stop offset="0.11" stop-color="#f4f6f6"/><stop offset="0.1133" stop-color="#f2f4f4"/><stop offset="0.1167" stop-color="#f0f1f2"/><stop offset="0.12" stop-color="#edeff0"/><stop offset="0.1233" stop-color="#f4f5f6"/><stop offset="0.1267" stop-color="#f4f5f6"/><stop offset="0.13" stop-color="#f6f7f8"/><stop offset="0.1333" stop-color="#f4f5f5"/><stop offset="0.1367" stop-color="#f2f4f4"/><stop offset="0.14" stop-color="#f3f5f5"/><stop offset="0.1433" stop-color="#f4f5f6"/><stop offset="0.1467" stop-color="#f4f6f6"/><stop offset="0.15" stop-color="#f6f7f7"/><stop offset="0.1533" stop-color="#f2f4f4"/><stop offset="0.1567" stop-color="#f4f5f5"/><stop offset="0.16" stop-color="#f0f2f3"/><stop offset="0.1633" stop-color="#f4f5f6"/><stop offset="0.1667" stop-color="#f2f3f4"/><stop offset="0.17" stop-color="#f3f5f5"/><stop offset="0.1733" stop-color="#f2f3f4"/><stop offset="0.1767" stop-color="#f4f5f6"/><stop offset="0.18" stop-color="#f1f3f3"/><stop offset="0.1833" stop-color="#f2f4f4"/><stop offset="0.1867" stop-color="#f1f2f3"/><stop offset="0.19" stop-color="#f3f4f5"/><stop offset="0.1933" stop-color="#f4f5f6"/><stop offset="0.1967" stop-color="#f4f5f6"/><stop offset="0.2" stop-color="#f0f2f3"/><stop offset="0.2033" stop-color="#f1f3f3"/><stop offset="0.2067" stop-color="#f1f2f3"/><stop offset="0.21" stop-color="#f3f5f5"/><stop offset="0.2133" stop-color="#f2f3f4"/><stop offset="0.2167" stop-color="#f2f4f4"/><stop offset="0.22" stop-color="#f3f4f5"/><stop offset="0.2233" stop-color="#f4f5f5"/><stop offset="0.2267" stop-color="#f5f6f7"/><stop offset="0.23" stop-color="#f6f7f8"/><stop offset="0.2333" stop-color="#f6f7f7"/><stop offset="0.2367" stop-color="#f3f4f5"/><stop offset="0.24" stop-color="#f0f2f3"/><stop offset="0.2433" stop-color="#eff1f2"/><stop offset="0.2467" stop-color="#f0f2f2"/><stop offset="0.25" stop-color="#f0f2f3"/><stop offset="0.2533" stop-color="#f1f3f4"/><stop offset="0.2567" stop-color="#f2f3f4"/><stop offset="0.26" stop-color="#f0f2f2"/><stop offset="0.2633" stop-color="#eef0f1"/><stop offset="0.2667" stop-color="#eef0f0"/><stop offset="0.27" stop-color="#eff1f2"/><stop offset="0.2733" stop-color="#edeff0"/><stop offset="0.2767" stop-color="#e8eaeb"/><stop offset="0.28" stop-color="#e9eced"/><stop offset="0.2833" stop-color="#e9ebec"/><stop offset="0.2867" stop-color="#e8ebec"/><stop offset="0.29" stop-color="#e8ebec"/><stop offset="0.2933" stop-color="#e3e6e7"/><stop offset="0.2967" stop-color="#e6e9ea"/><stop offset="0.3" stop-color="#e9ecec"/><stop offset="0.3033" stop-color="#e9eced"/><stop offset="0.3067" stop-color="#ebeeee"/><stop offset="0.31" stop-color="#eceeef"/><stop offset="0.3133" stop-color="#e9ebec"/><stop offset="0.3167" stop-color="#e7eaeb"/><stop offset="0.32" stop-color="#e7e9ea"/><stop offset="0.3233" stop-color="#e7eaeb"/><stop offset="0.3267" stop-color="#e9ebec"/><stop offset="0.33" stop-color="#e7eaeb"/><stop offset="0.3333" stop-color="#e9eced"/><stop offset="0.3367" stop-color="#e7e9ea"/><stop offset="0.34" stop-color="#e9ecec"/><stop offset="0.3433" stop-color="#edeff0"/><stop offset="0.3467" stop-color="#eef0f1"/><stop offset="0.35" stop-color="#eaedee"/><stop offset="0.3533" stop-color="#e7e9ea"/><stop offset="0.3567" stop-color="#e7eaea"/><stop offset="0.36" stop-color="#e7eaeb"/><stop offset="0.3633" stop-color="#eaedee"/><stop offset="0.3667" stop-color="#e8ebec"/><stop offset="0.37" stop-color="#e9eced"/><stop offset="0.3733" stop-color="#eaeced"/><stop offset="0.3767" stop-color="#e8ebeb"/><stop offset="0.38" stop-color="#dfe2e3"/><stop offset="0.3833" stop-color="#dde1e2"/><stop offset="0.3867" stop-color="#e1e4e5"/><stop offset="0.39" stop-color="#e3e6e7"/><stop offset="0.3933" stop-color="#dfe3e4"/><stop offset="0.3967" stop-color="#dde1e2"/><stop offset="0.4" stop-color="#dce0e1"/><stop offset="0.4033" stop-color="#e0e4e5"/><stop offset="0.4067" stop-color="#e2e5e6"/><stop offset="0.41" stop-color="#dfe3e4"/><stop offset="0.4133" stop-color="#e3e6e7"/><stop offset="0.4167" stop-color="#e1e5e6"/><stop offset="0.42" stop-color="#e6e9ea"/><stop offset="0.4233" stop-color="#e3e6e7"/><stop offset="0.4267" stop-color="#e0e4e5"/><stop offset="0.43" stop-color="#e0e3e5"/><stop offset="0.4333" stop-color="#e4e7e8"/><stop offset="0.4367" stop-color="#e7e9ea"/><stop offset="0.44" stop-color="#eaeced"/><stop offset="0.4433" stop-color="#e7eaeb"/><stop offset="0.4467" stop-color="#e6e9ea"/><stop offset="0.45" stop-color="#e5e8e9"/><stop offset="0.4533" stop-color="#e3e6e7"/><stop offset="0.4567" stop-color="#e4e7e8"/><stop offset="0.46" stop-color="#e3e6e7"/><stop offset="0.4633" stop-color="#e4e7e8"/><stop offset="0.4667" stop-color="#e4e8e9"/><stop offset="0.47" stop-color="#e3e6e7"/><stop offset="0.4767" stop-color="#e3e6e7"/><stop offset="0.48" stop-color="#e5e8e9"/><stop offset="0.4833" stop-color="#dde1e2"/><stop offset="0.4867" stop-color="#c7cbcc"/><stop offset="0.49" stop-color="#9fa2a3"/><stop offset="0.4933" stop-color="#9da0a1"/><stop offset="0.4967" stop-color="#c0c3c5"/><stop offset="0.5" stop-color="#d6dadb"/><stop offset="0.5033" stop-color="#dbdfe0"/><stop offset="0.5067" stop-color="#d7dbdc"/><stop offset="0.51" stop-color="#d6dadc"/><stop offset="0.5133" stop-color="#d6d9db"/><stop offset="0.5167" stop-color="#dce0e1"/><stop offset="0.52" stop-color="#dde1e2"/><stop offset="0.5233" stop-color="#dde1e2"/><stop offset="0.5267" stop-color="#d8dbdd"/><stop offset="0.53" stop-color="#d9ddde"/><stop offset="0.5333" stop-color="#d5d9da"/><stop offset="0.5367" stop-color="#c2c5c6"/><stop offset="0.54" stop-color="#b9bdbe"/><stop offset="0.5433" stop-color="#b7bbbc"/><stop offset="0.5467" stop-color="#ccd0d1"/><stop offset="0.55" stop-color="#d7dadc"/><stop offset="0.5533" stop-color="#d2d6d7"/><stop offset="0.5567" stop-color="#bcbfc0"/><stop offset="0.56" stop-color="#a6a9aa"/><stop offset="0.5633" stop-color="#c0c3c4"/><stop offset="0.5667" stop-color="#d5d8da"/><stop offset="0.57" stop-color="#dee2e3"/><stop offset="0.5733" stop-color="#d7dbdc"/><stop offset="0.5767" stop-color="#d2d6d7"/><stop offset="0.58" stop-color="#d3d7d8"/><stop offset="0.5833" stop-color="#d6d9db"/><stop offset="0.5867" stop-color="#d2d6d7"/><stop offset="0.59" stop-color="#ced2d3"/><stop offset="0.5933" stop-color="#d1d4d6"/><stop offset="0.5967" stop-color="#d4d8d9"/><stop offset="0.6033" stop-color="#d4d8d9"/><stop offset="0.6067" stop-color="#d3d7d8"/><stop offset="0.61" stop-color="#d0d3d5"/><stop offset="0.6133" stop-color="#cbced0"/><stop offset="0.6167" stop-color="#cccfd1"/><stop offset="0.62" stop-color="#c8cccd"/><stop offset="0.6233" stop-color="#c1c4c5"/><stop offset="0.6267" stop-color="#adb0b1"/><stop offset="0.63" stop-color="#acafb0"/><stop offset="0.6333" stop-color="#c2c6c7"/><stop offset="0.6367" stop-color="#dadedf"/><stop offset="0.64" stop-color="#e2e5e6"/><stop offset="0.6433" stop-color="#dee1e3"/><stop offset="0.6467" stop-color="#dde0e2"/><stop offset="0.65" stop-color="#dee2e3"/><stop offset="0.6533" stop-color="#e0e3e4"/><stop offset="0.6567" stop-color="#e3e6e7"/><stop offset="0.66" stop-color="#e4e7e8"/><stop offset="0.6633" stop-color="#e4e7e8"/><stop offset="0.6667" stop-color="#e6e9ea"/><stop offset="0.67" stop-color="#e9ebec"/><stop offset="0.6733" stop-color="#e8ebec"/><stop offset="0.6767" stop-color="#e6e9ea"/><stop offset="0.68" stop-color="#e3e6e7"/><stop offset="0.6833" stop-color="#e2e5e6"/><stop offset="0.6867" stop-color="#e2e5e6"/><stop offset="0.69" stop-color="#dfe3e4"/><stop offset="0.6933" stop-color="#e1e4e5"/><stop offset="0.6967" stop-color="#e1e4e5"/><stop offset="0.7" stop-color="#e3e6e8"/><stop offset="0.7033" stop-color="#e7eaeb"/><stop offset="0.7067" stop-color="#e7eaeb"/><stop offset="0.71" stop-color="#e1e5e6"/><stop offset="0.7133" stop-color="#e3e6e7"/><stop offset="0.7167" stop-color="#dfe3e4"/><stop offset="0.72" stop-color="#e1e4e5"/><stop offset="0.7233" stop-color="#e2e5e7"/><stop offset="0.7267" stop-color="#e4e7e8"/><stop offset="0.73" stop-color="#e8ebec"/><stop offset="0.7333" stop-color="#e4e7e8"/><stop offset="0.7367" stop-color="#e7eaea"/><stop offset="0.74" stop-color="#e5e8e9"/><stop offset="0.7433" stop-color="#e3e6e7"/><stop offset="0.7467" stop-color="#e0e4e5"/><stop offset="0.75" stop-color="#e2e6e7"/><stop offset="0.7533" stop-color="#e5e8e9"/><stop offset="0.7567" stop-color="#ebedee"/><stop offset="0.76" stop-color="#e7eaeb"/><stop offset="0.7633" stop-color="#dde1e2"/><stop offset="0.7667" stop-color="#d1d4d6"/><stop offset="0.77" stop-color="#dbdfe0"/><stop offset="0.7733" stop-color="#e7eaeb"/><stop offset="0.7767" stop-color="#e7e9ea"/><stop offset="0.78" stop-color="#e8ebec"/><stop offset="0.7833" stop-color="#e9eced"/><stop offset="0.7867" stop-color="#eef0f1"/><stop offset="0.79" stop-color="#ecefef"/><stop offset="0.7933" stop-color="#eaedee"/><stop offset="0.7967" stop-color="#e8ebec"/><stop offset="0.8" stop-color="#ebeeee"/><stop offset="0.8033" stop-color="#eef0f1"/><stop offset="0.8067" stop-color="#eef0f1"/><stop offset="0.81" stop-color="#eff1f2"/><stop offset="0.8133" stop-color="#eff1f2"/><stop offset="0.8167" stop-color="#f1f3f3"/><stop offset="0.82" stop-color="#f2f4f4"/><stop offset="0.8233" stop-color="#f1f3f3"/><stop offset="0.8267" stop-color="#eef0f1"/><stop offset="0.83" stop-color="#ebeeee"/><stop offset="0.8333" stop-color="#eef0f1"/><stop offset="0.8367" stop-color="#eff1f2"/><stop offset="0.84" stop-color="#eff1f2"/><stop offset="0.8433" stop-color="#eff1f1"/><stop offset="0.8467" stop-color="#eef0f1"/><stop offset="0.85" stop-color="#eef0f0"/><stop offset="0.8533" stop-color="#e4e7e8"/><stop offset="0.8567" stop-color="#c9cdce"/><stop offset="0.86" stop-color="#a4a7a8"/><stop offset="0.8633" stop-color="#9b9e9f"/><stop offset="0.8667" stop-color="#b8bcbd"/><stop offset="0.87" stop-color="#d4d8d9"/><stop offset="0.8733" stop-color="#d8dcdd"/><stop offset="0.8767" stop-color="#dadedf"/><stop offset="0.88" stop-color="#d0d4d5"/><stop offset="0.8833" stop-color="#c8cccd"/><stop offset="0.8867" stop-color="#b7babb"/><stop offset="0.89" stop-color="#8c8f8f"/><stop offset="0.8933" stop-color="#3c3d3e"/><stop offset="0.8967" stop-color="#000000"/><stop offset="0.9333" stop-color="#000000"/><stop offset="0.9367" stop-color="#212222"/><stop offset="0.94" stop-color="#636465"/><stop offset="0.9433" stop-color="#87898a"/><stop offset="0.9467" stop-color="#8f9192"/><stop offset="0.95" stop-color="#999b9c"/><stop offset="0.9533" stop-color="#a4a7a8"/><stop offset="0.9567" stop-color="#a3a6a7"/><stop offset="0.96" stop-color="#9fa2a3"/><stop offset="0.9633" stop-color="#9da0a1"/><stop offset="0.9667" stop-color="#a0a3a4"/><stop offset="0.97" stop-color="#a7aaab"/><stop offset="0.9733" stop-color="#a3a6a7"/><stop offset="0.9767" stop-color="#a9adae"/><stop offset="0.98" stop-color="#b2b5b7"/><stop offset="0.9833" stop-color="#bdc0c1"/><stop offset="0.9867" stop-color="#c6c9cb"/><stop offset="0.99" stop-color="#d1d4d6"/><stop offset="0.9933" stop-color="#d6dadb"/><stop offset="0.9967" stop-color="#dbdfe0"/><stop offset="1" stop-color="#dbdfe0"/></linearGradient>
<linearGradient id="g5" x1="0" y1="0" x2="0" y2="1"><stop offset="0" stop-color="#e7eaeb"/><stop offset="0.003333" stop-color="#e4e7e8"/><stop offset="0.006667" stop-color="#e4e7e8"/><stop offset="0.01" stop-color="#e3e6e7"/><stop offset="0.01333" stop-color="#e0e4e5"/><stop offset="0.01667" stop-color="#e1e4e5"/><stop offset="0.02" stop-color="#e0e4e5"/><stop offset="0.02333" stop-color="#dfe2e4"/><stop offset="0.02667" stop-color="#e5e8e9"/><stop offset="0.03" stop-color="#e5e8e9"/><stop offset="0.03333" stop-color="#e1e4e6"/><stop offset="0.03667" stop-color="#dadedf"/><stop offset="0.04" stop-color="#d4d8d9"/><stop offset="0.04333" stop-color="#cfd3d4"/><stop offset="0.04667" stop-color="#cbcfd0"/><stop offset="0.05" stop-color="#c7cbcc"/><stop offset="0.05333" stop-color="#c5c9ca"/><stop offset="0.05667" stop-color="#c8cccd"/><stop offset="0.06" stop-color="#cacecf"/><stop offset="0.06333" stop-color="#ced2d3"/><stop offset="0.06667" stop-color="#d1d5d6"/><stop offset="0.07" stop-color="#d1d5d6"/><stop offset="0.07333" stop-color="#d3d6d8"/><stop offset="0.07667" stop-color="#d3d7d8"/><stop offset="0.08" stop-color="#d1d5d6"/><stop offset="0.08333" stop-color="#d5d9da"/><stop offset="0.08667" stop-color="#d5d9da"/><stop offset="0.09" stop-color="#d3d7d8"/><stop offset="0.09333" stop-color="#d0d4d5"/><stop offset="0.09667" stop-color="#d5d9da"/><stop offset="0.1" stop-color="#d3d7d8"/><stop offset="0.1033" stop-color="#d3d7d8"/><stop offset="0.1067" stop-color="#d4d8d9"/><stop offset="0.11" stop-color="#d6d9db"/><stop offset="0.1133" stop-color="#d8dbdd"/><stop offset="0.1167" stop-color="#d5d9da"/><stop offset="0.12" stop-color="#d1d5d6"/><stop offset="0.1233" stop-color="#ccd0d1"/><stop offset="0.1267" stop-color="#c8cbcd"/><stop offset="0.13" stop-color="#c5c9ca"/><stop offset="0.1333" stop-color="#cbcfd0"/><stop offset="0.1367" stop-color="#ced1d3"/><stop offset="0.14" stop-color="#d4d8d9"/><stop offset="0.1433" stop-color="#d6dadb"/><stop offset="0.1467" stop-color="#d9ddde"/><stop offset="0.15" stop-color="#dee2e3"/><stop offset="0.1533" stop-color="#dfe2e4"/><stop offset="0.1567" stop-color="#e0e3e5"/><stop offset="0.16" stop-color="#dadddf"/><stop offset="0.1633" stop-color="#dce0e2"/><stop offset="0.1667" stop-color="#dde1e2"/><stop offset="0.17" stop-color="#dce0e1"/><stop offset="0.1733" stop-color="#dfe2e4"/><stop offset="0.1767" stop-color="#dee2e3"/><stop offset="0.18" stop-color="#dbdfe0"/><stop offset="0.1833" stop-color="#dbdfe1"/><stop offset="0.1867" stop-color="#dce0e2"/><stop offset="0.19" stop-color="#dbdfe0"/><stop offset="0.1933" stop-color="#dbdfe1"/><stop offset="0.1967" stop-color="#dce0e1"/><stop offset="0.2" stop-color="#d9ddde"/><stop offset="0.2033" stop-color="#dde1e2"/><stop offset="0.2067" stop-color="#dee2e3"/><stop offset="0.21" stop-color="#dadee0"/><stop offset="0.2133" stop-color="#dce0e1"/><stop offset="0.2167" stop-color="#dbdfe1"/><stop offset="0.22" stop-color="#dde1e3"/><stop offset="0.2233" stop-color="#d9ddde"/><stop offset="0.2267" stop-color="#d9dddf"/><stop offset="0.2333" stop-color="#d9dddf"/><stop offset="0.2367" stop-color="#d9ddde"/><stop offset="0.24" stop-color="#dce0e1"/><stop offset="0.2433" stop-color="#dde1e2"/><stop offset="0.2467" stop-color="#dde1e2"/><stop offset="0.25" stop-color="#d9dddf"/><stop offset="0.2533" stop-color="#dbdfe0"/><stop offset="0.2567" stop-color="#dce0e1"/><stop offset="0.26" stop-color="#dde1e2"/><stop offset="0.2633" stop-color="#dce0e1"/><stop offset="0.2667" stop-color="#e1e5e6"/><stop offset="0.27" stop-color="#dbdfe0"/><stop offset="0.2733" stop-color="#dbdfe1"/><stop offset="0.2767" stop-color="#d2d6d7"/><stop offset="0.28" stop-color="#d0d4d5"/><stop offset="0.2833" stop-color="#d0d4d5"/><stop offset="0.2867" stop-color="#d4d8da"/><stop offset="0.29" stop-color="#d5d9da"/><stop offset="0.2933" stop-color="#d6dadc"/><stop offset="0.2967" stop-color="#d8dcdd"/><stop offset="0.3" stop-color="#d2d6d7"/><stop offset="0.3033" stop-color="#d5d9da"/><stop offset="0.3067" stop-color="#d5d9da"/><stop offset="0.31" stop-color="#d6dadb"/><stop offset="0.3133" stop-color="#d3d7d8"/><stop offset="0.3167" stop-color="#d2d6d7"/><stop offset="0.32" stop-color="#ced1d3"/><stop offset="0.3233" stop-color="#cfd3d4"/><stop offset="0.3267" stop-color="#cdd1d2"/><stop offset="0.33" stop-color="#d5d9da"/><stop offset="0.3333" stop-color="#d5d9da"/><stop offset="0.3367" stop-color="#d4d8d9"/><stop offset="0.34" stop-color="#d3d7d8"/><stop offset="0.3433" stop-color="#d1d5d6"/><stop offset="0.3467" stop-color="#d4d8d9"/><stop offset="0.35" stop-color="#d6d9db"/><stop offset="0.3533" stop-color="#d3d7d9"/><stop offset="0.3567" stop-color="#d3d7d8"/><stop offset="0.36" stop-color="#d7dbdc"/><stop offset="0.3633" stop-color="#d2d6d7"/><stop offset="0.3667" stop-color="#d1d5d6"/><stop offset="0.37" stop-color="#ced2d3"/><stop offset="0.3733" stop-color="#d0d4d5"/><stop offset="0.3767" stop-color="#ccd0d1"/><stop offset="0.38" stop-color="#c8cbcc"/><stop offset="0.3833" stop-color="#bec2c3"/><stop offset="0.3867" stop-color="#c0c4c5"/><stop offset="0.39" stop-color="#babebf"/><stop offset="0.3933" stop-color="#c4c8c9"/><stop offset="0.3967" stop-color="#c2c6c7"/><stop offset="0.4" stop-color="#c4c8c9"/><stop offset="0.4033" stop-color="#c5c9ca"/><stop offset="0.4067" stop-color="#c5c9ca"/><stop offset="0.41" stop-color="#c6c9cb"/><stop offset="0.4133" stop-color="#c8cbcc"/><stop offset="0.4167" stop-color="#c5c9ca"/><stop offset="0.42" stop-color="#c0c4c5"/><stop offset="0.4233" stop-color="#c2c6c7"/><stop offset="0.4267" stop-color="#c9cdce"/><stop offset="0.43" stop-color="#c7cbcc"/><stop offset="0.4333" stop-color="#cbcfd0"/><stop offset="0.4367" stop-color="#c5c9ca"/><stop offset="0.44" stop-color="#c7cbcc"/><stop offset="0.4433" stop-color="#c5c8c9"/><stop offset="0.4467" stop-color="#c2c5c6"/><stop offset="0.45" stop-color="#c9cdce"/><stop offset="0.4533" stop-color="#c9cccd"/><stop offset="0.4567" stop-color="#ccd0d1"/><stop offset="0.46" stop-color="#cbcfd0"/><stop offset="0.4633" stop-color="#c9cdce"/><stop offset="0.4667" stop-color="#c7cbcc"/><stop offset="0.47" stop-color="#c9cccd"/><stop offset="0.4733" stop-color="#c6c9ca"/><stop offset="0.4767" stop-color="#c5c8ca"/><stop offset="0.48" stop-color="#c2c6c7"/><stop offset="0.4833" stop-color="#b5b9ba"/><stop offset="0.4867" stop-color="#838586"/><stop offset="0.49" stop-color="#434444"/><stop offset="0.4933" stop-color="#1c1d1d"/><stop offset="0.4967" stop-color="#4f5051"/><stop offset="0.5" stop-color="#8c8e8f"/><stop offset="0.5033" stop-color="#b3b6b7"/><stop offset="0.5067" stop-color="#b8bcbd"/><stop offset="0.51" stop-color="#b4b8b9"/><stop offset="0.5133" stop-color="#b4b7b8"/><stop offset="0.5167" stop-color="#b2b5b6"/><stop offset="0.52" stop-color="#b2b5b6"/><stop offset="0.5233" stop-color="#afb2b3"/><stop offset="0.5267" stop-color="#b2b5b6"/><stop offset="0.53" stop-color="#b7bbbc"/><stop offset="0.5333" stop-color="#b5b9ba"/><stop offset="0.5367" stop-color="#a9adae"/><stop offset="0.54" stop-color="#909394"/><stop offset="0.5433" stop-color="#7c7e7f"/><stop offset="0.5467" stop-color="#828586"/><stop offset="0.55" stop-color="#959898"/><stop offset="0.5533" stop-color="#9da0a1"/><stop offset="0.5567" stop-color="#808283"/><stop offset="0.56" stop-color="#494a4b"/><stop offset="0.5633" stop-color="#3c3d3d"/><stop offset="0.5667" stop-color="#7f8282"/><stop offset="0.57" stop-color="#b2b5b6"/><stop offset="0.5733" stop-color="#bbbebf"/><stop offset="0.5767" stop-color="#b6b9ba"/><stop offset="0.58" stop-color="#b5b8b9"/><stop offset="0.5833" stop-color="#b2b5b6"/><stop offset="0.5867" stop-color="#a8abac"/><stop offset="0.59" stop-color="#aaaeaf"/><stop offset="0.5933" stop-color="#a8abad"/><stop offset="0.5967" stop-color="#acafb0"/><stop offset="0.6" stop-color="#aeb1b2"/><stop offset="0.6033" stop-color="#adb0b1"/><stop offset="0.6067" stop-color="#aeb2b3"/><stop offset="0.61" stop-color="#adb0b1"/><stop offset="0.6133" stop-color="#aaadae"/><stop offset="0.6167" stop-color="#a8abac"/><stop offset="0.62" stop-color="#a9acad"/><stop offset="0.6233" stop-color="#9b9e9e"/><stop offset="0.6267" stop-color="#7b7d7e"/><stop offset="0.63" stop-color="#58595a"/><stop offset="0.6333" stop-color="#676969"/><stop offset="0.6367" stop-color="#939697"/><stop offset="0.64" stop-color="#babebf"/><stop offset="0.6433" stop-color="#c8cccd"/><stop offset="0.6467" stop-color="#d0d4d5"/><stop offset="0.65" stop-color="#cbcfd0"/><stop offset="0.6533" stop-color="#ccd0d1"/><stop offset="0.6567" stop-color="#ced2d3"/><stop offset="0.66" stop-color="#d3d7d8"/><stop offset="0.6633" stop-color="#cfd3d4"/><stop offset="0.6667" stop-color="#cbcfd0"/><stop offset="0.67" stop-color="#cbcfd0"/><stop offset="0.6733" stop-color="#cdd1d2"/><stop offset="0.6767" stop-color="#d0d4d5"/><stop offset="0.68" stop-color="#ccd0d1"/><stop offset="0.6833" stop-color="#cdd0d2"/><stop offset="0.6867" stop-color="#d1d4d6"/><stop offset="0.69" stop-color="#d3d7d9"/><stop offset="0.6933" stop-color="#d1d5d6"/><stop offset="0.6967" stop-color="#d1d5d6"/><stop offset="0.7" stop-color="#cdd1d2"/><stop offset="0.7033" stop-color="#d1d5d6"/><stop offset="0.7067" stop-color="#d2d6d7"/><stop offset="0.71" stop-color="#d3d7d8"/><stop offset="0.7133" stop-color="#d2d6d7"/><stop offset="0.7167" stop-color="#d4d7d9"/><stop offset="0.72" stop-color="#d3d7d8"/><stop offset="0.7233" stop-color="#d1d5d6"/><stop offset="0.7267" stop-color="#d2d6d7"/><stop offset="0.73" stop-color="#d1d5d6"/><stop offset="0.7333" stop-color="#d3d6d8"/><stop offset="0.7367" stop-color="#d3d7d8"/><stop offset="0.74" stop-color="#d6dadb"/><stop offset="0.7433" stop-color="#d8dcdd"/><stop offset="0.7467" stop-color="#d8dcde"/><stop offset="0.75" stop-color="#dbdfe0"/><stop offset="0.7533" stop-color="#dbdfe0"/><stop offset="0.7567" stop-color="#dfe2e4"/><stop offset="0.76" stop-color="#dce0e2"/><stop offset="0.7633" stop-color="#ced2d3"/><stop offset="0.7667" stop-color="#c7cbcc"/><stop offset="0.77" stop-color="#d5d9da"/><stop offset="0.7733" stop-color="#dce0e1"/><stop offset="0.7767" stop-color="#e0e4e5"/><stop offset="0.78" stop-color="#e2e5e7"/><stop offset="0.7833" stop-color="#e6e9ea"/><stop offset="0.7867" stop-color="#e4e7e8"/><stop offset="0.79" stop-color="#e7e9ea"/><stop offset="0.7933" stop-color="#e6e9ea"/><stop offset="0.7967" stop-color="#e5e8e9"/><stop offset="0.8" stop-color="#e5e8e9"/><stop offset="0.8033" stop-color="#e3e6e7"/><stop offset="0.8067" stop-color="#e5e8e9"/><stop offset="0.81" stop-color="#e3e6e7"/><stop offset="0.8133" stop-color="#e4e7e8"/><stop offset="0.8167" stop-color="#e5e8e9"/><stop offset="0.82" stop-color="#e2e5e7"/><stop offset="0.8233" stop-color="#e2e5e6"/><stop offset="0.8267" stop-color="#e1e4e6"/><stop offset="0.83" stop-color="#e3e6e7"/><stop offset="0.8333" stop-color="#dfe3e4"/><stop offset="0.8367" stop-color="#e3e7e8"/><stop offset="0.84" stop-color="#e5e8e9"/><stop offset="0.8433" stop-color="#e8ebec"/><stop offset="0.8467" stop-color="#e6e9ea"/><stop offset="0.85" stop-color="#e1e5e6"/><stop offset="0.8533" stop-color="#dfe2e4"/><stop offset="0.8567" stop-color="#c9cdce"/><stop offset="0.86" stop-color="#939697"/><stop offset="0.8633" stop-color="#626465"/><stop offset="0.8667" stop-color="#6a6c6c"/><stop offset="0.87" stop-color="#a0a3a4"/><stop offset="0.8733" stop-color="#c2c6c7"/><stop offset="0.8767" stop-color="#c7cacb"/><stop offset="0.88" stop-color="#bfc2c3"/><stop offset="0.8833" stop-color="#acafb0"/><stop offset="0.8867" stop-color="#797b7c"/><stop offset="0.89" stop-color="#232424"/><stop offset="0.8933" stop-color="#000000"/><stop offset="0.9367" stop-color="#000000"/><stop offset="0.94" stop-color="#131414"/><stop offset="0.9433" stop-color="#5a5c5d"/><stop offset="0.9467" stop-color="#7a7c7d"/><stop offset="0.95" stop-color="#818384"/><stop offset="0.9533" stop-color="#828485"/><stop offset="0.9567" stop-color="#808283"/><stop offset="0.96" stop-color="#828485"/><stop offset="0.9633" stop-color="#86898a"/><stop offset="0.9667" stop-color="#87898a"/><stop offset="0.97" stop-color="#929495"/><stop offset="0.9733" stop-color="#929596"/><stop offset="0.9767" stop-color="#9c9fa0"/><stop offset="0.98" stop-color="#a2a5a6"/><stop offset="0.9833" stop-color="#b1b4b5"/><stop offset="0.9867" stop-color="#bbbfc0"/><stop offset="0.99" stop-color="#c4c7c8"/><stop offset="0.9933" stop-color="#d0d4d5"/><stop offset="0.9967" stop-color="#d7dbdd"/><stop offset="1" stop-color="#dbdfe0"/></linearGradient>
<linearGradient id="g6" x1="0" y1="0" x2="0" y2="1"><stop offset="0" stop-color="#eef0f1"/><stop offset="0.003333" stop-color="#eff1f1"/><stop offset="0.006667" stop-color="#f3f4f5"/><stop offset="0.01" stop-color="#f2f3f4"/><stop offset="0.01333" stop-color="#edf0f0"/><stop offset="0.01667" stop-color="#edeff0"/><stop offset="0.02" stop-color="#eef0f0"/><stop offset="0.02333" stop-color="#eef0f1"/><stop offset="0.02667" stop-color="#f0f2f3"/><stop offset="0.03" stop-color="#f1f3f3"/><stop offset="0.03333" stop-color="#f1f2f3"/><stop offset="0.03667" stop-color="#eff1f1"/><stop offset="0.04" stop-color="#eef0f0"/><stop offset="0.04333" stop-color="#edeff0"/><stop offset="0.04667" stop-color="#eef0f1"/><stop offset="0.05" stop-color="#f0f2f3"/><stop offset="0.05333" stop-color="#eceeef"/><stop offset="0.05667" stop-color="#eceeef"/><stop offset="0.06" stop-color="#eaeced"/><stop offset="0.06333" stop-color="#eceeef"/><stop offset="0.06667" stop-color="#eff1f1"/><stop offset="0.07" stop-color="#f2f4f4"/><stop offset="0.07333" stop-color="#eef0f0"/><stop offset="0.07667" stop-color="#f0f2f2"/><stop offset="0.08" stop-color="#eceeef"/><stop offset="0.08333" stop-color="#eef0f1"/><stop offset="0.08667" stop-color="#eef0f0"/><stop offset="0.09" stop-color="#edefef"/><stop offset="0.09333" stop-color="#f3f4f5"/><stop offset="0.09667" stop-color="#f0f2f2"/><stop offset="0.1" stop-color="#f1f3f4"/><stop offset="0.1033" stop-color="#eff1f2"/><stop offset="0.1067" stop-color="#eff1f2"/><stop offset="0.11" stop-color="#edeff0"/><stop offset="0.1133" stop-color="#eef0f0"/><stop offset="0.1167" stop-color="#eef0f1"/><stop offset="0.12" stop-color="#eef0f0"/><stop offset="0.1233" stop-color="#f0f2f2"/><stop offset="0.1267" stop-color="#edeff0"/><stop offset="0.13" stop-color="#f1f3f3"/><stop offset="0.1333" stop-color="#f1f3f3"/><stop offset="0.1367" stop-color="#edeff0"/><stop offset="0.14" stop-color="#ebeeee"/><stop offset="0.1433" stop-color="#ecefef"/><stop offset="0.1467" stop-color="#eff1f1"/><stop offset="0.15" stop-color="#eceeef"/><stop offset="0.1533" stop-color="#eceeef"/><stop offset="0.1567" stop-color="#ebedee"/><stop offset="0.16" stop-color="#edeff0"/><stop offset="0.1633" stop-color="#edeff0"/><stop offset="0.1667" stop-color="#f0f1f2"/><stop offset="0.17" stop-color="#edf0f0"/><stop offset="0.1733" stop-color="#ebeeee"/><stop offset="0.1767" stop-color="#ebeeef"/><stop offset="0.18" stop-color="#edefef"/><stop offset="0.1833" stop-color="#ebeeee"/><stop offset="0.1867" stop-color="#ebedee"/><stop offset="0.19" stop-color="#eaeced"/><stop offset="0.1933" stop-color="#eaeced"/><stop offset="0.1967" stop-color="#ebeeef"/><stop offset="0.2" stop-color="#ecefef"/><stop offset="0.2033" stop-color="#f1f2f3"/><stop offset="0.2067" stop-color="#f1f3f3"/><stop offset="0.21" stop-color="#f1f3f4"/><stop offset="0.2133" stop-color="#eceeef"/><stop offset="0.2167" stop-color="#eef0f1"/><stop offset="0.22" stop-color="#eff1f1"/><stop offset="0.2233" stop-color="#f2f4f4"/><stop offset="0.2267" stop-color="#f0f2f3"/><stop offset="0.23" stop-color="#f0f1f2"/><stop offset="0.2333" stop-color="#eef0f1"/><stop offset="0.2367" stop-color="#ebedee"/><stop offset="0.24" stop-color="#eceeef"/><stop offset="0.2433" stop-color="#edf0f0"/><stop offset="0.2467" stop-color="#ebedee"/><stop offset="0.25" stop-color="#eaeced"/><stop offset="0.2533" stop-color="#edeff0"/><stop offset="0.2567" stop-color="#e7eaeb"/><stop offset="0.26" stop-color="#e8ebec"/><stop offset="0.2633" stop-color="#ebeeee"/><stop offset="0.2667" stop-color="#f1f2f3"/><stop offset="0.27" stop-color="#edeff0"/><stop offset="0.2733" stop-color="#e7eaeb"/><stop offset="0.2767" stop-color="#e4e7e8"/><stop offset="0.28" stop-color="#e5e8e9"/><stop offset="0.2833" stop-color="#dfe2e4"/><stop offset="0.2867" stop-color="#dadee0"/><stop offset="0.29" stop-color="#d3d7d8"/><stop offset="0.2933" stop-color="#d5d9da"/><stop offset="0.2967" stop-color="#d5d8da"/><stop offset="0.3" stop-color="#d7dbdd"/><stop offset="0.3033" stop-color="#dadee0"/><stop offset="0.3067" stop-color="#dfe2e4"/><stop offset="0.31" stop-color="#dee1e3"/><stop offset="0.3133" stop-color="#dde1e2"/><stop offset="0.3167" stop-color="#e0e3e4"/><stop offset="0.32" stop-color="#e0e4e5"/><stop offset="0.3233" stop-color="#dce0e1"/><stop offset="0.3267" stop-color="#dadedf"/><stop offset="0.33" stop-color="#dadee0"/><stop offset="0.3333" stop-color="#d7dbdc"/><stop offset="0.3367" stop-color="#d5d9db"/><stop offset="0.34" stop-color="#d4d8d9"/><stop offset="0.3433" stop-color="#dce0e1"/><stop offset="0.3467" stop-color="#dde1e2"/><stop offset="0.35" stop-color="#dee2e3"/><stop offset="0.3533" stop-color="#e0e4e5"/><stop offset="0.3567" stop-color="#dfe3e4"/><stop offset="0.36" stop-color="#e3e6e7"/><stop offset="0.3633" stop-color="#e4e7e8"/><stop offset="0.3667" stop-color="#e5e8e9"/><stop offset="0.37" stop-color="#e0e4e5"/><stop offset="0.3733" stop-color="#e5e8e9"/><stop offset="0.3767" stop-color="#e7eaeb"/><stop offset="0.38" stop-color="#e3e6e7"/><stop offset="0.3833" stop-color="#bbbebf"/><stop offset="0.3867" stop-color="#6d6f70"/><stop offset="0.39" stop-color="#232424"/><stop offset="0.3933" stop-color="#313232"/><stop offset="0.3967" stop-color="#6e7071"/><stop offset="0.4" stop-color="#9ea1a2"/><stop offset="0.4033" stop-color="#cbced0"/><stop offset="0.4067" stop-color="#dfe2e4"/><stop offset="0.41" stop-color="#e6e9ea"/><stop offset="0.4133" stop-color="#e4e7e8"/><stop offset="0.4167" stop-color="#e3e6e7"/><stop offset="0.42" stop-color="#e7e9ea"/><stop offset="0.4233" stop-color="#e9ebec"/><stop offset="0.4267" stop-color="#e8ebec"/><stop offset="0.43" stop-color="#e6e9ea"/><stop offset="0.4333" stop-color="#e4e7e8"/><stop offset="0.4367" stop-color="#e2e6e7"/><stop offset="0.44" stop-color="#e3e6e7"/><stop offset="0.4433" stop-color="#e2e5e6"/><stop offset="0.4467" stop-color="#e1e5e6"/><stop offset="0.45" stop-color="#e2e5e6"/><stop offset="0.4533" stop-color="#e1e4e5"/><stop offset="0.4567" stop-color="#e3e6e7"/><stop offset="0.46" stop-color="#e5e8e9"/><stop offset="0.4633" stop-color="#e5e8e9"/><stop offset="0.4667" stop-color="#e6e9ea"/><stop offset="0.47" stop-color="#e7eaeb"/><stop offset="0.4733" stop-color="#e4e7e8"/><stop offset="0.4767" stop-color="#dde1e2"/><stop offset="0.48" stop-color="#dbdfe0"/><stop offset="0.4833" stop-color="#d7dadc"/><stop offset="0.4867" stop-color="#d5d9da"/><stop offset="0.49" stop-color="#d1d4d6"/><stop offset="0.4933" stop-color="#cdd0d2"/><stop offset="0.4967" stop-color="#cacecf"/><stop offset="0.5" stop-color="#c6c9cb"/><stop offset="0.5033" stop-color="#c6c9cb"/><stop offset="0.5067" stop-color="#c3c6c8"/><stop offset="0.51" stop-color="#bfc3c4"/><stop offset="0.5133" stop-color="#bbbebf"/><stop offset="0.5167" stop-color="#a0a3a4"/><stop offset="0.52" stop-color="#737676"/><stop offset="0.5233" stop-color="#686a6b"/><stop offset="0.5267" stop-color="#96999a"/><stop offset="0.53" stop-color="#ced2d3"/><stop offset="0.5333" stop-color="#d7dbdc"/><stop offset="0.5367" stop-color="#dadee0"/><stop offset="0.54" stop-color="#dbdfe0"/><stop offset="0.5433" stop-color="#dbdfe0"/><stop offset="0.5467" stop-color="#dfe2e3"/><stop offset="0.55" stop-color="#dbdfe1"/><stop offset="0.5533" stop-color="#e0e3e4"/><stop offset="0.5567" stop-color="#dee2e3"/><stop offset="0.56" stop-color="#dde1e2"/><stop offset="0.5633" stop-color="#dfe3e4"/><stop offset="0.5667" stop-color="#e0e4e5"/><stop offset="0.57" stop-color="#e2e5e6"/><stop offset="0.5733" stop-color="#e3e6e7"/><stop offset="0.5767" stop-color="#dfe3e4"/><stop offset="0.58" stop-color="#dfe3e4"/><stop offset="0.5833" stop-color="#d9ddde"/><stop offset="0.5867" stop-color="#cdd0d2"/><stop offset="0.59" stop-color="#adb0b1"/><stop offset="0.5933" stop-color="#ccd0d1"/><stop offset="0.5967" stop-color="#e4e7e8"/><stop offset="0.6" stop-color="#e5e8e9"/><stop offset="0.6033" stop-color="#e0e3e4"/><stop offset="0.6067" stop-color="#e1e5e6"/><stop offset="0.61" stop-color="#e0e4e5"/><stop offset="0.6133" stop-color="#e3e6e7"/><stop offset="0.6167" stop-color="#e1e5e6"/><stop offset="0.62" stop-color="#dee1e3"/><stop offset="0.6233" stop-color="#dee2e3"/><stop offset="0.6267" stop-color="#dce0e1"/><stop offset="0.63" stop-color="#dee2e3"/><stop offset="0.6333" stop-color="#e1e5e6"/><stop offset="0.6367" stop-color="#e4e7e8"/><stop offset="0.64" stop-color="#e3e6e7"/><stop offset="0.6433" stop-color="#e1e4e5"/><stop offset="0.6467" stop-color="#e8ebeb"/><stop offset="0.65" stop-color="#e9eced"/><stop offset="0.6533" stop-color="#eceeef"/><stop offset="0.6567" stop-color="#eff1f1"/><stop offset="0.66" stop-color="#f0f2f3"/><stop offset="0.6633" stop-color="#f2f4f4"/><stop offset="0.6667" stop-color="#f1f3f3"/><stop offset="0.67" stop-color="#f1f3f4"/><stop offset="0.6733" stop-color="#edeff0"/><stop offset="0.6767" stop-color="#f1f2f3"/><stop offset="0.68" stop-color="#f1f3f3"/><stop offset="0.6833" stop-color="#eff1f1"/><stop offset="0.6867" stop-color="#f0f2f3"/><stop offset="0.69" stop-color="#f2f4f4"/><stop offset="0.6933" stop-color="#eef0f1"/><stop offset="0.6967" stop-color="#eceeef"/><stop offset="0.7" stop-color="#edf0f0"/><stop offset="0.7033" stop-color="#eef0f1"/><stop offset="0.7067" stop-color="#eef0f1"/><stop offset="0.71" stop-color="#eff1f2"/><stop offset="0.7133" stop-color="#eff1f2"/><stop offset="0.7167" stop-color="#edeff0"/><stop offset="0.72" stop-color="#f0f2f3"/><stop offset="0.7233" stop-color="#f0f2f2"/><stop offset="0.7267" stop-color="#f0f2f3"/><stop offset="0.73" stop-color="#f0f2f3"/><stop offset="0.7333" stop-color="#f1f3f3"/><stop offset="0.7367" stop-color="#eceeef"/><stop offset="0.74" stop-color="#eef0f1"/><stop offset="0.7433" stop-color="#edf0f0"/><stop offset="0.7467" stop-color="#f0f2f2"/><stop offset="0.75" stop-color="#f1f3f3"/><stop offset="0.7533" stop-color="#eff1f1"/><stop offset="0.7567" stop-color="#f2f4f4"/><stop offset="0.76" stop-color="#ebedee"/><stop offset="0.7633" stop-color="#c0c4c5"/><stop offset="0.7667" stop-color="#a3a6a7"/><stop offset="0.77" stop-color="#c6c9ca"/><stop offset="0.7733" stop-color="#edeff0"/><stop offset="0.7767" stop-color="#f2f4f4"/><stop offset="0.78" stop-color="#f2f4f4"/><stop offset="0.7833" stop-color="#eff1f2"/><stop offset="0.7867" stop-color="#eff1f1"/><stop offset="0.79" stop-color="#eef0f0"/><stop offset="0.7933" stop-color="#eef0f1"/><stop offset="0.7967" stop-color="#f1f3f3"/><stop offset="0.8" stop-color="#f2f4f4"/><stop offset="0.8033" stop-color="#f3f5f5"/><stop offset="0.8067" stop-color="#f4f5f6"/><stop offset="0.81" stop-color="#f3f5f5"/><stop offset="0.8133" stop-color="#f4f5f5"/><stop offset="0.8167" stop-color="#f7f8f8"/><stop offset="0.82" stop-color="#f7f8f8"/><stop offset="0.8233" stop-color="#f2f4f4"/><stop offset="0.8267" stop-color="#f1f3f3"/><stop offset="0.83" stop-color="#f2f3f4"/><stop offset="0.8333" stop-color="#f5f7f7"/><stop offset="0.8367" stop-color="#f5f6f7"/><stop offset="0.84" stop-color="#f3f4f5"/><stop offset="0.8433" stop-color="#f4f5f6"/><stop offset="0.8467" stop-color="#f3f4f5"/><stop offset="0.85" stop-color="#f2f4f4"/><stop offset="0.8533" stop-color="#e8ebec"/><stop offset="0.8567" stop-color="#d1d5d6"/><stop offset="0.86" stop-color="#b5b8b9"/><stop offset="0.8633" stop-color="#b9bdbe"/><stop offset="0.8667" stop-color="#d4d8d9"/><stop offset="0.87" stop-color="#e9eced"/><stop offset="0.8733" stop-color="#eef0f1"/><stop offset="0.8767" stop-color="#eaedee"/><stop offset="0.88" stop-color="#e8ebec"/><stop offset="0.8833" stop-color="#e6e9ea"/><stop offset="0.8867" stop-color="#dfe2e4"/><stop offset="0.89" stop-color="#d1d4d6"/><stop offset="0.8933" stop-color="#8e9192"/><stop offset="0.8967" stop-color="#191919"/><stop offset="0.9" stop-color="#000000"/><stop offset="0.9067" stop-color="#000000"/><stop offset="0.91" stop-color="#040404"/><stop offset="0.9133" stop-color="#2d2e2e"/><stop offset="0.9167" stop-color="#2a2b2b"/><stop offset="0.92" stop-color="#212222"/><stop offset="0.9233" stop-color="#2a2a2b"/><stop offset="0.9267" stop-color="#2c2c2d"/><stop offset="0.93" stop-color="#3a3b3c"/><stop offset="0.9333" stop-color="#48494a"/><stop offset="0.9367" stop-color="#656768"/><stop offset="0.94" stop-color="#7a7c7d"/><stop offset="0.9433" stop-color="#909293"/><stop offset="0.9467" stop-color="#999c9c"/><stop offset="0.95" stop-color="#9ea1a2"/><stop offset="0.9533" stop-color="#a0a3a4"/><stop offset="0.9567" stop-color="#a4a7a8"/><stop offset="0.96" stop-color="#aaadae"/><stop offset="0.9633" stop-color="#abaeaf"/><stop offset="0.9667" stop-color="#aeb1b2"/><stop offset="0.97" stop-color="#adb0b1"/><stop offset="0.9733" stop-color="#aaadae"/><stop offset="0.9767" stop-color="#a5a8a9"/><stop offset="0.98" stop-color="#abaeaf"/><stop offset="0.9833" stop-color="#b6b9ba"/><stop offset="0.9867" stop-color="#bcbfc0"/><stop offset="0.99" stop-color="#c6cacb"/><stop offset="0.9933" stop-color="#cacecf"/><stop offset="0.9967" stop-color="#cfd3d4"/><stop offset="1" stop-color="#d1d5d6"/></linearGradient>
<linearGradient id="g7" x1="0" y1="0" x2="0" y2="1"><stop offset="0" stop-color="#ebedee"/><stop offset="0.003333" stop-color="#eef0f1"/><stop offset="0.006667" stop-color="#f2f4f4"/><stop offset="0.01" stop-color="#f0f2f3"/><stop offset="0.01333" stop-color="#ecefef"/><stop offset="0.01667" stop-color="#edeff0"/><stop offset="0.02" stop-color="#eff1f2"/><stop offset="0.02333" stop-color="#eff1f2"/><stop offset="0.02667" stop-color="#edeff0"/><stop offset="0.03" stop-color="#ebedee"/><stop offset="0.03333" stop-color="#eef0f1"/><stop offset="0.03667" stop-color="#e9eced"/><stop offset="0.04" stop-color="#eaedee"/><stop offset="0.04333" stop-color="#ebedee"/><stop offset="0.04667" stop-color="#eceeef"/><stop offset="0.05" stop-color="#eceeef"/><stop offset="0.05333" stop-color="#ebedee"/><stop offset="0.05667" stop-color="#eaeced"/><stop offset="0.06" stop-color="#eff1f1"/><stop offset="0.06333" stop-color="#eff1f2"/><stop offset="0.06667" stop-color="#eff1f2"/><stop offset="0.07" stop-color="#ebeeee"/><stop offset="0.07333" stop-color="#e9ebec"/><stop offset="0.07667" stop-color="#e8ebec"/><stop offset="0.08" stop-color="#e9eced"/><stop offset="0.08333" stop-color="#eaeced"/><stop offset="0.08667" stop-color="#eaeced"/><stop offset="0.09" stop-color="#eaeded"/><stop offset="0.09333" stop-color="#e9eced"/><stop offset="0.09667" stop-color="#ebedee"/><stop offset="0.1" stop-color="#ebedee"/><stop offset="0.1033" stop-color="#eff1f2"/><stop offset="0.1067" stop-color="#f1f2f3"/><stop offset="0.11" stop-color="#eff1f2"/><stop offset="0.1133" stop-color="#eef0f0"/><stop offset="0.1167" stop-color="#eff1f1"/><stop offset="0.12" stop-color="#eff1f1"/><stop offset="0.1233" stop-color="#edefef"/><stop offset="0.1267" stop-color="#eaeced"/><stop offset="0.13" stop-color="#eaedee"/><stop offset="0.1333" stop-color="#eaedee"/><stop offset="0.1367" stop-color="#eceeef"/><stop offset="0.14" stop-color="#e9ecec"/><stop offset="0.1433" stop-color="#e7eaeb"/><stop offset="0.1467" stop-color="#e9ebec"/><stop offset="0.15" stop-color="#e8ebec"/><stop offset="0.1533" stop-color="#eceeef"/><stop offset="0.1567" stop-color="#ebeeee"/><stop offset="0.16" stop-color="#ebeeee"/><stop offset="0.1633" stop-color="#eceeef"/><stop offset="0.1667" stop-color="#ebedee"/><stop offset="0.17" stop-color="#ebedee"/><stop offset="0.1733" stop-color="#eceeef"/><stop offset="0.1767" stop-color="#edefef"/><stop offset="0.18" stop-color="#edeff0"/><stop offset="0.1833" stop-color="#edefef"/><stop offset="0.1867" stop-color="#eef0f1"/><stop offset="0.19" stop-color="#ebeeee"/><stop offset="0.1933" stop-color="#edeff0"/><stop offset="0.1967" stop-color="#ebedee"/><stop offset="0.2" stop-color="#ebeeef"/><stop offset="0.2033" stop-color="#e9eced"/><stop offset="0.2067" stop-color="#eaeded"/><stop offset="0.21" stop-color="#e9eced"/><stop offset="0.2133" stop-color="#e8eaeb"/><stop offset="0.2167" stop-color="#e7e9ea"/><stop offset="0.22" stop-color="#e5e8e9"/><stop offset="0.2233" stop-color="#eaeced"/><stop offset="0.2267" stop-color="#e5e8e9"/><stop offset="0.23" stop-color="#e7eaeb"/><stop offset="0.2333" stop-color="#e7eaeb"/><stop offset="0.2367" stop-color="#e6e9ea"/><stop offset="0.24" stop-color="#e0e4e5"/><stop offset="0.2433" stop-color="#e3e6e8"/><stop offset="0.2467" stop-color="#e3e6e8"/><stop offset="0.25" stop-color="#e5e8e9"/><stop offset="0.2533" stop-color="#e3e6e8"/><stop offset="0.2567" stop-color="#e0e4e5"/><stop offset="0.26" stop-color="#e2e5e6"/><stop offset="0.2633" stop-color="#e3e6e7"/><stop offset="0.2667" stop-color="#e3e6e7"/><stop offset="0.27" stop-color="#e2e5e6"/><stop offset="0.2733" stop-color="#e1e5e6"/><stop offset="0.2767" stop-color="#dce0e1"/><stop offset="0.28" stop-color="#d7dadc"/><stop offset="0.2833" stop-color="#d2d6d7"/><stop offset="0.2867" stop-color="#d0d3d5"/><stop offset="0.29" stop-color="#ced2d3"/><stop offset="0.2933" stop-color="#ccd0d1"/><stop offset="0.2967" stop-color="#cdd1d2"/><stop offset="0.3" stop-color="#cdd0d2"/><stop offset="0.3033" stop-color="#c9cdce"/><stop offset="0.3067" stop-color="#ced1d3"/><stop offset="0.31" stop-color="#cccfd0"/><stop offset="0.3133" stop-color="#ccd0d1"/><stop offset="0.3167" stop-color="#ccd0d1"/><stop offset="0.32" stop-color="#cbcfd0"/><stop offset="0.3233" stop-color="#cbcfd0"/><stop offset="0.3267" stop-color="#ccd0d1"/><stop offset="0.33" stop-color="#cdd1d2"/><stop offset="0.3333" stop-color="#cacecf"/><stop offset="0.3367" stop-color="#c9ccce"/><stop offset="0.34" stop-color="#cbcfd0"/><stop offset="0.3433" stop-color="#ced2d3"/><stop offset="0.3467" stop-color="#ced2d3"/><stop offset="0.35" stop-color="#d0d4d5"/><stop offset="0.3533" stop-color="#ced2d3"/><stop offset="0.3567" stop-color="#cbcfd0"/><stop offset="0.36" stop-color="#cacecf"/><stop offset="0.3633" stop-color="#cfd3d4"/><stop offset="0.3667" stop-color="#d0d4d5"/><stop offset="0.37" stop-color="#cbcfd0"/><stop offset="0.3733" stop-color="#cbced0"/><stop offset="0.3767" stop-color="#c6cacb"/><stop offset="0.38" stop-color="#bcc0c1"/><stop offset="0.3833" stop-color="#9fa1a2"/><stop offset="0.3867" stop-color="#545656"/><stop offset="0.39" stop-color="#000000"/><stop offset="0.3967" stop-color="#000000"/><stop offset="0.4" stop-color="#303031"/><stop offset="0.4033" stop-color="#838586"/><stop offset="0.4067" stop-color="#bec1c2"/><stop offset="0.41" stop-color="#ced1d3"/><stop offset="0.4133" stop-color="#d2d6d7"/><stop offset="0.4167" stop-color="#d1d5d6"/><stop offset="0.42" stop-color="#d1d5d6"/><stop offset="0.4233" stop-color="#d0d4d5"/><stop offset="0.4267" stop-color="#d3d7d8"/><stop offset="0.43" stop-color="#d4d8d9"/><stop offset="0.4333" stop-color="#d7dbdd"/><stop offset="0.4367" stop-color="#d4d8d9"/><stop offset="0.44" stop-color="#d5d9db"/><stop offset="0.4433" stop-color="#d1d5d6"/><stop offset="0.4467" stop-color="#d3d7d8"/><stop offset="0.45" stop-color="#d2d6d8"/><stop offset="0.4533" stop-color="#d5d9da"/><stop offset="0.4567" stop-color="#d3d7d8"/><stop offset="0.46" stop-color="#d3d7d8"/><stop offset="0.4633" stop-color="#d4d7d9"/><stop offset="0.4667" stop-color="#d5d9db"/><stop offset="0.47" stop-color="#d6dadb"/><stop offset="0.4733" stop-color="#d4d8da"/><stop offset="0.4767" stop-color="#d4d7d9"/><stop offset="0.48" stop-color="#d3d7d8"/><stop offset="0.4833" stop-color="#cfd2d4"/><stop offset="0.4867" stop-color="#cbcfd0"/><stop offset="0.49" stop-color="#c3c7c8"/><stop offset="0.4933" stop-color="#c4c7c9"/><stop offset="0.4967" stop-color="#bec1c2"/><stop offset="0.5" stop-color="#b5b9ba"/><stop offset="0.5033" stop-color="#b6babb"/><stop offset="0.5067" stop-color="#b3b7b8"/><stop offset="0.51" stop-color="#a9acad"/><stop offset="0.5133" stop-color="#898b8c"/><stop offset="0.5167" stop-color="#474949"/><stop offset="0.52" stop-color="#000000"/><stop offset="0.5233" stop-color="#000000"/><stop offset="0.5267" stop-color="#242525"/><stop offset="0.53" stop-color="#828585"/><stop offset="0.5333" stop-color="#bdc0c1"/><stop offset="0.5367" stop-color="#d5d9da"/><stop offset="0.54" stop-color="#dce0e1"/><stop offset="0.5433" stop-color="#d7dbdc"/><stop offset="0.5467" stop-color="#d9ddde"/><stop offset="0.55" stop-color="#dde1e2"/><stop offset="0.5533" stop-color="#dadedf"/><stop offset="0.5567" stop-color="#dcdfe1"/><stop offset="0.56" stop-color="#dbdfe0"/><stop offset="0.5633" stop-color="#dbdfe1"/><stop offset="0.5667" stop-color="#d9ddde"/><stop offset="0.57" stop-color="#dadedf"/><stop offset="0.5733" stop-color="#dde1e2"/><stop offset="0.5767" stop-color="#dde1e3"/><stop offset="0.58" stop-color="#e0e3e5"/><stop offset="0.5833" stop-color="#dbdfe0"/><stop offset="0.5867" stop-color="#cfd3d4"/><stop offset="0.59" stop-color="#a9acad"/><stop offset="0.5933" stop-color="#c0c3c4"/><stop offset="0.5967" stop-color="#d3d6d8"/><stop offset="0.6" stop-color="#dadedf"/><stop offset="0.6033" stop-color="#d9dcde"/><stop offset="0.6067" stop-color="#dbdfe1"/><stop offset="0.61" stop-color="#dbdfe0"/><stop offset="0.6133" stop-color="#d9ddde"/><stop offset="0.6167" stop-color="#dadedf"/><stop offset="0.62" stop-color="#d7dbdc"/><stop offset="0.6233" stop-color="#dce0e1"/><stop offset="0.6267" stop-color="#dce0e1"/><stop offset="0.63" stop-color="#e1e4e5"/><stop offset="0.6333" stop-color="#e0e4e5"/><stop offset="0.6367" stop-color="#dfe3e4"/><stop offset="0.64" stop-color="#e3e6e7"/><stop offset="0.6433" stop-color="#e0e4e5"/><stop offset="0.6467" stop-color="#e5e8e9"/><stop offset="0.65" stop-color="#e8eaeb"/><stop offset="0.6533" stop-color="#eaeced"/><stop offset="0.6567" stop-color="#f2f4f4"/><stop offset="0.66" stop-color="#f5f6f7"/><stop offset="0.6633" stop-color="#f7f8f8"/><stop offset="0.6667" stop-color="#f5f6f7"/><stop offset="0.67" stop-color="#f2f4f4"/><stop offset="0.6733" stop-color="#f2f4f4"/><stop offset="0.6767" stop-color="#edeff0"/><stop offset="0.68" stop-color="#eff1f1"/><stop offset="0.6833" stop-color="#f2f3f4"/><stop offset="0.6867" stop-color="#f5f6f7"/><stop offset="0.69" stop-color="#f3f4f5"/><stop offset="0.6933" stop-color="#f1f3f3"/><stop offset="0.6967" stop-color="#eef0f0"/><stop offset="0.7" stop-color="#eef0f1"/><stop offset="0.7033" stop-color="#f0f2f3"/><stop offset="0.7067" stop-color="#eff1f2"/><stop offset="0.71" stop-color="#f0f2f2"/><stop offset="0.7133" stop-color="#f1f3f3"/><stop offset="0.7167" stop-color="#f3f4f5"/><stop offset="0.72" stop-color="#f1f3f3"/><stop offset="0.7233" stop-color="#eef0f1"/><stop offset="0.7267" stop-color="#eff1f2"/><stop offset="0.73" stop-color="#eff1f2"/><stop offset="0.7333" stop-color="#f0f2f2"/><stop offset="0.7367" stop-color="#f0f1f2"/><stop offset="0.7433" stop-color="#f0f1f2"/><stop offset="0.7467" stop-color="#edeff0"/><stop offset="0.75" stop-color="#f0f2f2"/><stop offset="0.7533" stop-color="#f3f4f5"/><stop offset="0.7567" stop-color="#f3f5f5"/><stop offset="0.76" stop-color="#eceeef"/><stop offset="0.7633" stop-color="#c4c8c9"/><stop offset="0.7667" stop-color="#a4a6a7"/><stop offset="0.77" stop-color="#cacecf"/><stop offset="0.7733" stop-color="#eceeef"/><stop offset="0.7767" stop-color="#f2f4f4"/><stop offset="0.78" stop-color="#f4f5f6"/><stop offset="0.7833" stop-color="#f6f7f7"/><stop offset="0.7867" stop-color="#f4f6f6"/><stop offset="0.79" stop-color="#f4f5f6"/><stop offset="0.7933" stop-color="#f4f5f6"/><stop offset="0.7967" stop-color="#f1f3f3"/><stop offset="0.8" stop-color="#f5f6f6"/><stop offset="0.8033" stop-color="#f3f4f5"/><stop offset="0.8067" stop-color="#f6f7f8"/><stop offset="0.81" stop-color="#f2f4f4"/><stop offset="0.8133" stop-color="#f3f4f5"/><stop offset="0.8167" stop-color="#f1f3f4"/><stop offset="0.82" stop-color="#f3f4f5"/><stop offset="0.8233" stop-color="#f3f4f5"/><stop offset="0.8267" stop-color="#f0f1f2"/><stop offset="0.83" stop-color="#eef0f1"/><stop offset="0.8333" stop-color="#f0f1f2"/><stop offset="0.8367" stop-color="#eff1f2"/><stop offset="0.84" stop-color="#f2f4f4"/><stop offset="0.8433" stop-color="#f0f2f3"/><stop offset="0.8467" stop-color="#f6f7f7"/><stop offset="0.85" stop-color="#f4f5f5"/><stop offset="0.8533" stop-color="#edeff0"/><stop offset="0.8567" stop-color="#d2d6d7"/><stop offset="0.86" stop-color="#babebf"/><stop offset="0.8633" stop-color="#b7bbbc"/><stop offset="0.8667" stop-color="#d3d6d8"/><stop offset="0.87" stop-color="#e0e3e4"/><stop offset="0.8733" stop-color="#e7eaeb"/><stop offset="0.8767" stop-color="#e7eaea"/><stop offset="0.88" stop-color="#e8eaeb"/><stop offset="0.8833" stop-color="#e9ebec"/><stop offset="0.8867" stop-color="#e2e6e7"/><stop offset="0.89" stop-color="#d4d8d9"/><stop offset="0.8933" stop-color="#989b9c"/><stop offset="0.8967" stop-color="#1c1d1d"/><stop offset="0.9" stop-color="#000000"/><stop offset="0.9067" stop-color="#000000"/><stop offset="0.91" stop-color="#0c0d0d"/><stop offset="0.9133" stop-color="#404141"/><stop offset="0.9167" stop-color="#3b3c3d"/><stop offset="0.92" stop-color="#434444"/><stop offset="0.9233" stop-color="#4d4e4e"/><stop offset="0.9267" stop-color="#494a4b"/><stop offset="0.93" stop-color="#48494a"/><stop offset="0.9333" stop-color="#585a5a"/><stop offset="0.9367" stop-color="#6e7071"/><stop offset="0.94" stop-color="#7f8283"/><stop offset="0.9433" stop-color="#939697"/><stop offset="0.9467" stop-color="#9fa2a3"/><stop offset="0.95" stop-color="#a7aaab"/><stop offset="0.9533" stop-color="#a6a9aa"/><stop offset="0.9567" stop-color="#a6a9aa"/><stop offset="0.96" stop-color="#a9acad"/><stop offset="0.9633" stop-color="#aaaeaf"/><stop offset="0.9667" stop-color="#aeb1b2"/><stop offset="0.97" stop-color="#adb0b1"/><stop offset="0.9733" stop-color="#b0b3b4"/><stop offset="0.9767" stop-color="#b1b4b5"/><stop offset="0.98" stop-color="#b6b9ba"/><stop offset="0.9833" stop-color="#bfc2c3"/><stop offset="0.9867" stop-color="#c0c3c5"/><stop offset="0.99" stop-color="#c6cacb"/><stop offset="0.9933" stop-color="#c5c9ca"/><stop offset="0.9967" stop-color="#ced2d3"/><stop offset="1" stop-color="#d4d8d9"/></linearGradient>
<linearGradient id="g8" x1="0" y1="0" x2="0" y2="1"><stop offset="0" stop-color="#f1f3f3"/><stop offset="0.003333" stop-color="#f2f4f4"/><stop offset="0.01" stop-color="#f2f4f4"/><stop offset="0.01333" stop-color="#f0f2f3"/><stop offset="0.01667" stop-color="#f1f3f3"/><stop offset="0.02" stop-color="#eff1f1"/><stop offset="0.02333" stop-color="#f3f4f5"/><stop offset="0.02667" stop-color="#f0f2f3"/><stop offset="0.03" stop-color="#f7f8f8"/><stop offset="0.03333" stop-color="#f1f2f3"/><stop offset="0.03667" stop-color="#f1f2f3"/><stop offset="0.04" stop-color="#f3f4f5"/><stop offset="0.04333" stop-color="#f3f4f5"/><stop offset="0.04667" stop-color="#edeff0"/><stop offset="0.05" stop-color="#eaedee"/><stop offset="0.05333" stop-color="#e8ebec"/><stop offset="0.05667" stop-color="#eff1f1"/><stop offset="0.06" stop-color="#eef0f0"/><stop offset="0.06333" stop-color="#f2f3f4"/><stop offset="0.06667" stop-color="#f0f2f2"/><stop offset="0.07" stop-color="#f2f3f4"/><stop offset="0.07333" stop-color="#f0f2f3"/><stop offset="0.07667" stop-color="#f0f1f2"/><stop offset="0.08" stop-color="#f3f4f5"/><stop offset="0.08333" stop-color="#f2f4f4"/><stop offset="0.08667" stop-color="#f5f6f7"/><stop offset="0.09" stop-color="#f5f7f7"/><stop offset="0.09333" stop-color="#f7f8f9"/><stop offset="0.09667" stop-color="#f5f6f6"/><stop offset="0.1" stop-color="#f2f4f4"/><stop offset="0.1033" stop-color="#f3f4f5"/><stop offset="0.1067" stop-color="#f2f4f4"/><stop offset="0.11" stop-color="#f9fafa"/><stop offset="0.1133" stop-color="#f6f7f7"/><stop offset="0.1167" stop-color="#f1f2f3"/><stop offset="0.12" stop-color="#f0f1f2"/><stop offset="0.1233" stop-color="#eef0f1"/><stop offset="0.1267" stop-color="#edeff0"/><stop offset="0.13" stop-color="#eff1f2"/><stop offset="0.1333" stop-color="#f5f6f6"/><stop offset="0.1367" stop-color="#f4f5f6"/><stop offset="0.14" stop-color="#f0f2f3"/><stop offset="0.1433" stop-color="#eff1f2"/><stop offset="0.1467" stop-color="#f1f3f3"/><stop offset="0.15" stop-color="#f2f3f4"/><stop offset="0.1533" stop-color="#f2f4f4"/><stop offset="0.1567" stop-color="#f3f4f5"/><stop offset="0.16" stop-color="#f5f7f7"/><stop offset="0.1633" stop-color="#f2f4f4"/><stop offset="0.1667" stop-color="#f2f4f4"/><stop offset="0.17" stop-color="#eef0f1"/><stop offset="0.1733" stop-color="#eaeced"/><stop offset="0.1767" stop-color="#eaeced"/><stop offset="0.18" stop-color="#eceeef"/><stop offset="0.1833" stop-color="#f1f2f3"/><stop offset="0.1867" stop-color="#f0f2f2"/><stop offset="0.19" stop-color="#f0f2f2"/><stop offset="0.1933" stop-color="#f1f3f3"/><stop offset="0.1967" stop-color="#f2f4f4"/><stop offset="0.2" stop-color="#f1f2f3"/><stop offset="0.2033" stop-color="#f2f4f4"/><stop offset="0.2067" stop-color="#f0f2f3"/><stop offset="0.21" stop-color="#f0f1f2"/><stop offset="0.2133" stop-color="#eff1f2"/><stop offset="0.2167" stop-color="#f3f5f5"/><stop offset="0.22" stop-color="#f2f4f4"/><stop offset="0.2233" stop-color="#f2f3f4"/><stop offset="0.2267" stop-color="#f1f3f4"/><stop offset="0.23" stop-color="#f0f2f3"/><stop offset="0.2333" stop-color="#f0f2f3"/><stop offset="0.2367" stop-color="#f5f6f6"/><stop offset="0.24" stop-color="#f0f1f2"/><stop offset="0.2433" stop-color="#eff1f1"/><stop offset="0.2467" stop-color="#ebedee"/><stop offset="0.25" stop-color="#eef0f1"/><stop offset="0.2533" stop-color="#f0f2f2"/><stop offset="0.2567" stop-color="#f2f3f4"/><stop offset="0.26" stop-color="#f2f3f4"/><stop offset="0.2633" stop-color="#eff1f2"/><stop offset="0.2667" stop-color="#eef0f0"/><stop offset="0.27" stop-color="#edeff0"/><stop offset="0.2733" stop-color="#eceeef"/><stop offset="0.2767" stop-color="#eff1f2"/><stop offset="0.28" stop-color="#edeff0"/><stop offset="0.2833" stop-color="#e6e9ea"/><stop offset="0.2867" stop-color="#e0e4e5"/><stop offset="0.29" stop-color="#dee1e3"/><stop offset="0.2933" stop-color="#d6dadc"/><stop offset="0.2967" stop-color="#d8dcde"/><stop offset="0.3" stop-color="#dbdfe0"/><stop offset="0.3033" stop-color="#dee2e3"/><stop offset="0.3067" stop-color="#e3e7e8"/><stop offset="0.31" stop-color="#e4e7e8"/><stop offset="0.3133" stop-color="#e6e9ea"/><stop offset="0.3167" stop-color="#e4e7e8"/><stop offset="0.32" stop-color="#e6e9ea"/><stop offset="0.3233" stop-color="#e3e6e8"/><stop offset="0.3267" stop-color="#dfe3e4"/><stop offset="0.33" stop-color="#dee1e3"/><stop offset="0.3333" stop-color="#dadddf"/><stop offset="0.3367" stop-color="#dbdfe1"/><stop offset="0.34" stop-color="#d5d9da"/><stop offset="0.3433" stop-color="#dadee0"/><stop offset="0.3467" stop-color="#d9ddde"/><stop offset="0.35" stop-color="#dde1e2"/><stop offset="0.3533" stop-color="#e0e3e5"/><stop offset="0.3567" stop-color="#e0e4e5"/><stop offset="0.36" stop-color="#e4e7e8"/><stop offset="0.3633" stop-color="#e2e5e6"/><stop offset="0.3667" stop-color="#e1e5e6"/><stop offset="0.37" stop-color="#dde1e3"/><stop offset="0.3733" stop-color="#e4e7e8"/><stop offset="0.3767" stop-color="#e1e4e6"/><stop offset="0.38" stop-color="#e5e8e9"/><stop offset="0.3833" stop-color="#d8dcdd"/><stop offset="0.3867" stop-color="#b0b4b5"/><stop offset="0.39" stop-color="#5f6162"/><stop offset="0.3933" stop-color="#1a1b1b"/><stop offset="0.3967" stop-color="#212222"/><stop offset="0.4" stop-color="#6c6e6f"/><stop offset="0.4033" stop-color="#b8bcbd"/><stop offset="0.4067" stop-color="#d8dcdd"/><stop offset="0.41" stop-color="#e2e6e7"/><stop offset="0.4133" stop-color="#e0e3e4"/><stop offset="0.4167" stop-color="#e3e6e7"/><stop offset="0.42" stop-color="#e6e9ea"/><stop offset="0.4233" stop-color="#e4e7e8"/><stop offset="0.4267" stop-color="#e2e6e7"/><stop offset="0.43" stop-color="#e3e6e7"/><stop offset="0.4333" stop-color="#e1e4e6"/><stop offset="0.4367" stop-color="#e3e6e8"/><stop offset="0.44" stop-color="#e7eaeb"/><stop offset="0.4433" stop-color="#e9ebec"/><stop offset="0.4467" stop-color="#e9ebec"/><stop offset="0.45" stop-color="#e3e6e7"/><stop offset="0.4533" stop-color="#e3e6e7"/><stop offset="0.4567" stop-color="#dee1e3"/><stop offset="0.46" stop-color="#dee1e3"/><stop offset="0.4633" stop-color="#e0e4e5"/><stop offset="0.4667" stop-color="#dee2e3"/><stop offset="0.47" stop-color="#dfe3e4"/><stop offset="0.4733" stop-color="#e2e5e6"/><stop offset="0.4767" stop-color="#e4e8e9"/><stop offset="0.48" stop-color="#e2e5e6"/><stop offset="0.4833" stop-color="#dfe3e4"/><stop offset="0.4867" stop-color="#dde1e2"/><stop offset="0.49" stop-color="#d7dbdc"/><stop offset="0.4933" stop-color="#ced2d3"/><stop offset="0.4967" stop-color="#c6cacb"/><stop offset="0.5" stop-color="#c4c8c9"/><stop offset="0.5033" stop-color="#c4c7c9"/><stop offset="0.5067" stop-color="#c4c7c9"/><stop offset="0.51" stop-color="#bfc2c3"/><stop offset="0.5133" stop-color="#b6b9ba"/><stop offset="0.5167" stop-color="#9a9c9d"/><stop offset="0.52" stop-color="#606262"/><stop offset="0.5233" stop-color="#393a3a"/><stop offset="0.5267" stop-color="#575959"/><stop offset="0.53" stop-color="#abaeaf"/><stop offset="0.5333" stop-color="#d1d5d6"/><stop offset="0.5367" stop-color="#dee1e3"/><stop offset="0.54" stop-color="#dee2e3"/><stop offset="0.5433" stop-color="#dbdfe0"/><stop offset="0.5467" stop-color="#dadedf"/><stop offset="0.55" stop-color="#d5d9da"/><stop offset="0.5533" stop-color="#dbdfe0"/><stop offset="0.5567" stop-color="#e1e4e5"/><stop offset="0.56" stop-color="#e3e6e8"/><stop offset="0.5633" stop-color="#e3e6e7"/><stop offset="0.5667" stop-color="#dde1e2"/><stop offset="0.57" stop-color="#dee2e3"/><stop offset="0.5733" stop-color="#dfe3e4"/><stop offset="0.5767" stop-color="#e0e4e5"/><stop offset="0.58" stop-color="#e6e9ea"/><stop offset="0.5833" stop-color="#e9eced"/><stop offset="0.5867" stop-color="#e2e5e6"/><stop offset="0.59" stop-color="#bfc3c4"/><stop offset="0.5933" stop-color="#bcc0c1"/><stop offset="0.5967" stop-color="#dbdfe0"/><stop offset="0.6" stop-color="#e4e8e9"/><stop offset="0.6033" stop-color="#e6e9ea"/><stop offset="0.6067" stop-color="#e6e8e9"/><stop offset="0.61" stop-color="#e4e7e8"/><stop offset="0.6133" stop-color="#e6e9ea"/><stop offset="0.6167" stop-color="#eaeced"/><stop offset="0.62" stop-color="#ebedee"/><stop offset="0.6233" stop-color="#eaeced"/><stop offset="0.6267" stop-color="#ebedee"/><stop offset="0.63" stop-color="#e9eced"/><stop offset="0.6333" stop-color="#eceeef"/><stop offset="0.6367" stop-color="#ebedee"/><stop offset="0.64" stop-color="#ebeeee"/><stop offset="0.6433" stop-color="#eaedee"/><stop offset="0.6467" stop-color="#ebeeee"/><stop offset="0.65" stop-color="#f1f2f3"/><stop offset="0.6533" stop-color="#eef0f1"/><stop offset="0.6567" stop-color="#edf0f0"/><stop offset="0.66" stop-color="#f2f3f4"/><stop offset="0.6633" stop-color="#f3f5f5"/><stop offset="0.6667" stop-color="#f5f6f6"/><stop offset="0.67" stop-color="#f9f9fa"/><stop offset="0.6733" stop-color="#fbfbfb"/><stop offset="0.6767" stop-color="#fbfbfc"/><stop offset="0.68" stop-color="#f6f7f7"/><stop offset="0.6833" stop-color="#f4f5f6"/><stop offset="0.6867" stop-color="#f3f5f5"/><stop offset="0.69" stop-color="#f5f7f7"/><stop offset="0.6933" stop-color="#f8f9f9"/><stop offset="0.6967" stop-color="#f4f5f6"/><stop offset="0.7" stop-color="#f6f8f8"/><stop offset="0.7033" stop-color="#f3f4f5"/><stop offset="0.7067" stop-color="#f6f7f7"/><stop offset="0.71" stop-color="#f3f5f5"/><stop offset="0.7133" stop-color="#f4f6f6"/><stop offset="0.7167" stop-color="#f5f6f6"/><stop offset="0.72" stop-color="#f5f6f7"/><stop offset="0.7233" stop-color="#f8f9f9"/><stop offset="0.7267" stop-color="#fafbfb"/><stop offset="0.73" stop-color="#f6f7f7"/><stop offset="0.7333" stop-color="#f7f8f8"/><stop offset="0.7367" stop-color="#f5f6f7"/><stop offset="0.74" stop-color="#f4f5f5"/><stop offset="0.7433" stop-color="#f4f6f6"/><stop offset="0.7467" stop-color="#f7f8f8"/><stop offset="0.75" stop-color="#f9fafa"/><stop offset="0.7533" stop-color="#f8f9f9"/><stop offset="0.7567" stop-color="#f8f9f9"/><stop offset="0.76" stop-color="#f1f3f3"/><stop offset="0.7633" stop-color="#d3d7d9"/><stop offset="0.7667" stop-color="#aaadae"/><stop offset="0.77" stop-color="#c3c7c8"/><stop offset="0.7733" stop-color="#e6e9ea"/><stop offset="0.7767" stop-color="#f1f3f3"/><stop offset="0.78" stop-color="#f4f5f6"/><stop offset="0.7833" stop-color="#f5f6f7"/><stop offset="0.7867" stop-color="#f4f6f6"/><stop offset="0.79" stop-color="#f6f7f8"/><stop offset="0.7933" stop-color="#f4f5f6"/><stop offset="0.7967" stop-color="#f3f4f5"/><stop offset="0.8" stop-color="#f5f6f7"/><stop offset="0.8033" stop-color="#f7f8f8"/><stop offset="0.8067" stop-color="#f6f7f7"/><stop offset="0.81" stop-color="#f4f5f5"/><stop offset="0.8133" stop-color="#f0f1f2"/><stop offset="0.8167" stop-color="#f0f2f3"/><stop offset="0.82" stop-color="#f3f4f5"/><stop offset="0.8233" stop-color="#f6f7f8"/><stop offset="0.8267" stop-color="#f7f8f9"/><stop offset="0.83" stop-color="#f9f9fa"/><stop offset="0.8333" stop-color="#f7f8f8"/><stop offset="0.8367" stop-color="#f5f6f7"/><stop offset="0.84" stop-color="#f7f8f9"/><stop offset="0.8433" stop-color="#fafbfb"/><stop offset="0.8467" stop-color="#f9fafa"/><stop offset="0.85" stop-color="#f4f5f6"/><stop offset="0.8533" stop-color="#ebeeef"/><stop offset="0.8567" stop-color="#cfd3d4"/><stop offset="0.86" stop-color="#b6b9ba"/><stop offset="0.8633" stop-color="#bcc0c1"/><stop offset="0.8667" stop-color="#d3d7d8"/><stop offset="0.87" stop-color="#e6e9ea"/><stop offset="0.8733" stop-color="#edeff0"/><stop offset="0.8767" stop-color="#eff1f2"/><stop offset="0.88" stop-color="#eef0f1"/><stop offset="0.8833" stop-color="#edeff0"/><stop offset="0.8867" stop-color="#e3e6e7"/><stop offset="0.89" stop-color="#d6dadb"/><stop offset="0.8933" stop-color="#a5a8a9"/><stop offset="0.8967" stop-color="#333334"/><stop offset="0.9" stop-color="#000000"/><stop offset="0.91" stop-color="#000000"/><stop offset="0.9133" stop-color="#222323"/><stop offset="0.9167" stop-color="#222323"/><stop offset="0.92" stop-color="#1d1e1e"/><stop offset="0.9233" stop-color="#1b1c1c"/><stop offset="0.9267" stop-color="#1a1a1b"/><stop offset="0.93" stop-color="#1f2020"/><stop offset="0.9333" stop-color="#303131"/><stop offset="0.9367" stop-color="#4c4d4e"/><stop offset="0.94" stop-color="#606162"/><stop offset="0.9433" stop-color="#7e8081"/><stop offset="0.9467" stop-color="#9b9d9e"/><stop offset="0.95" stop-color="#a8abac"/><stop offset="0.9533" stop-color="#aaadaf"/><stop offset="0.9567" stop-color="#aeb1b2"/><stop offset="0.96" stop-color="#b0b3b4"/><stop offset="0.9633" stop-color="#b5b9ba"/><stop offset="0.9667" stop-color="#b1b5b6"/><stop offset="0.97" stop-color="#b2b6b7"/><stop offset="0.9733" stop-color="#aeb2b3"/><stop offset="0.9767" stop-color="#b1b4b5"/><stop offset="0.98" stop-color="#b8bbbc"/><stop offset="0.9833" stop-color="#bfc2c3"/><stop offset="0.9867" stop-color="#c5c8ca"/><stop offset="0.99" stop-color="#cacecf"/><stop offset="0.9933" stop-color="#d4d8d9"/><stop offset="0.9967" stop-color="#d9ddde"/><stop offset="1" stop-color="#dee2e3"/></linearGradient>
<linearGradient id="g9" x1="0" y1="0" x2="0" y2="1"><stop offset="0" stop-color="#eaeced"/><stop offset="0.005" stop-color="#eaeced"/><stop offset="0.0075" stop-color="#e9eced"/><stop offset="0.01" stop-color="#e9eced"/><stop offset="0.0125" stop-color="#e9ecec"/><stop offset="0.015" stop-color="#e9ebec"/><stop offset="0.0175" stop-color="#e9ebec"/><stop offset="0.02" stop-color="#e8ebec"/><stop offset="0.0225" stop-color="#e8ebeb"/><stop offset="0.025" stop-color="#e7eaeb"/><stop offset="0.0275" stop-color="#e7eaeb"/><stop offset="0.03" stop-color="#e6e9ea"/><stop offset="0.0325" stop-color="#e5e8e9"/><stop offset="0.035" stop-color="#e4e7e8"/><stop offset="0.0375" stop-color="#e2e5e6"/><stop offset="0.04" stop-color="#e0e3e4"/><stop offset="0.0425" stop-color="#dde1e2"/><stop offset="0.045" stop-color="#dadddf"/><stop offset="0.0475" stop-color="#d6dadb"/><stop offset="0.05" stop-color="#d1d5d6"/><stop offset="0.0525" stop-color="#cccfd1"/><stop offset="0.055" stop-color="#c5c9ca"/><stop offset="0.0575" stop-color="#bec1c3"/><stop offset="0.06" stop-color="#b6b9ba"/><stop offset="0.0625" stop-color="#adb0b1"/><stop offset="0.065" stop-color="#a4a7a8"/><stop offset="0.0675" stop-color="#9a9d9e"/><stop offset="0.07" stop-color="#909394"/><stop offset="0.0725" stop-color="#87898a"/><stop offset="0.075" stop-color="#7e8081"/><stop offset="0.0775" stop-color="#767879"/><stop offset="0.08" stop-color="#707273"/><stop offset="0.0825" stop-color="#6b6d6e"/><stop offset="0.085" stop-color="#686a6a"/><stop offset="0.0875" stop-color="#666869"/><stop offset="0.09" stop-color="#676969"/><stop offset="0.0925" stop-color="#696b6c"/><stop offset="0.095" stop-color="#6d6f6f"/><stop offset="0.0975" stop-color="#727474"/><stop offset="0.1" stop-color="#787a7b"/><stop offset="0.1025" stop-color="#7e8181"/><stop offset="0.105" stop-color="#868889"/><stop offset="0.1075" stop-color="#8d8f90"/><stop offset="0.11" stop-color="#949798"/><stop offset="0.1125" stop-color="#9b9e9f"/><stop offset="0.115" stop-color="#a2a5a6"/><stop offset="0.1175" stop-color="#a8abac"/><stop offset="0.12" stop-color="#aeb1b2"/><stop offset="0.1225" stop-color="#b3b6b7"/><stop offset="0.125" stop-color="#b8bbbc"/><stop offset="0.1275" stop-color="#bcbfc1"/><stop offset="0.13" stop-color="#c0c3c5"/><stop offset="0.1325" stop-color="#c3c7c8"/><stop offset="0.135" stop-color="#c7cacb"/><stop offset="0.1375" stop-color="#cacdce"/><stop offset="0.14" stop-color="#ccd0d1"/><stop offset="0.1425" stop-color="#cfd2d4"/><stop offset="0.145" stop-color="#d1d5d6"/><stop offset="0.1475" stop-color="#d3d7d8"/><stop offset="0.15" stop-color="#d5d9da"/><stop offset="0.1525" stop-color="#d6dadc"/><stop offset="0.155" stop-color="#d8dcdd"/><stop offset="0.1575" stop-color="#d9ddde"/><stop offset="0.16" stop-color="#dadee0"/><stop offset="0.1625" stop-color="#dbdfe1"/><stop offset="0.165" stop-color="#dce0e1"/><stop offset="0.1675" stop-color="#dde1e2"/><stop offset="0.17" stop-color="#dee2e3"/><stop offset="0.1725" stop-color="#dfe2e3"/><stop offset="0.175" stop-color="#dfe3e4"/><stop offset="0.1775" stop-color="#dfe3e4"/><stop offset="0.18" stop-color="#e0e3e5"/><stop offset="0.1825" stop-color="#e0e4e5"/><stop offset="0.1875" stop-color="#e0e4e5"/><stop offset="0.19" stop-color="#e1e4e5"/><stop offset="0.195" stop-color="#e1e4e5"/><stop offset="0.1975" stop-color="#e0e4e5"/><stop offset="0.2025" stop-color="#e0e4e5"/><stop offset="0.205" stop-color="#e0e3e4"/><stop offset="0.2075" stop-color="#dfe2e4"/><stop offset="0.21" stop-color="#dee1e3"/><stop offset="0.2125" stop-color="#dce0e1"/><stop offset="0.215" stop-color="#dadedf"/><stop offset="0.2175" stop-color="#d7dbdc"/><stop offset="0.22" stop-color="#d3d7d8"/><stop offset="0.2225" stop-color="#ced2d3"/><stop offset="0.225" stop-color="#c8cccd"/><stop offset="0.2275" stop-color="#c0c4c5"/><stop offset="0.23" stop-color="#b7bbbc"/><stop offset="0.2325" stop-color="#adb0b1"/><stop offset="0.235" stop-color="#a1a4a5"/><stop offset="0.2375" stop-color="#959899"/><stop offset="0.24" stop-color="#888b8b"/><stop offset="0.2425" stop-color="#7c7e7f"/><stop offset="0.245" stop-color="#707273"/><stop offset="0.2475" stop-color="#666869"/><stop offset="0.25" stop-color="#5e6061"/><stop offset="0.2525" stop-color="#595b5b"/><stop offset="0.255" stop-color="#575959"/><stop offset="0.2575" stop-color="#585a5b"/><stop offset="0.26" stop-color="#5d5e5f"/><stop offset="0.2625" stop-color="#646666"/><stop offset="0.265" stop-color="#6d6f70"/><stop offset="0.2675" stop-color="#797b7c"/><stop offset="0.27" stop-color="#858788"/><stop offset="0.2725" stop-color="#929495"/><stop offset="0.275" stop-color="#9ea1a2"/><stop offset="0.2775" stop-color="#aaadae"/><stop offset="0.28" stop-color="#b5b8b9"/><stop offset="0.2825" stop-color="#bec2c3"/><stop offset="0.285" stop-color="#c6cacb"/><stop offset="0.2875" stop-color="#cdd0d2"/><stop offset="0.29" stop-color="#d2d6d7"/><stop offset="0.2925" stop-color="#d6dadb"/><stop offset="0.295" stop-color="#d9ddde"/><stop offset="0.2975" stop-color="#dbdfe1"/><stop offset="0.3" stop-color="#dde1e2"/><stop offset="0.3025" stop-color="#dee2e3"/><stop offset="0.305" stop-color="#dfe3e4"/><stop offset="0.3075" stop-color="#e0e4e5"/><stop offset="0.31" stop-color="#e0e4e5"/><stop offset="0.3125" stop-color="#e1e4e5"/><stop offset="0.3825" stop-color="#e1e4e5"/><stop offset="0.385" stop-color="#e1e4e6"/><stop offset="0.3875" stop-color="#e1e5e6"/><stop offset="0.3975" stop-color="#e1e5e6"/><stop offset="0.4" stop-color="#e2e5e6"/><stop offset="0.4025" stop-color="#e2e5e6"/><stop offset="0.405" stop-color="#e1e5e6"/><stop offset="0.41" stop-color="#e1e5e6"/><stop offset="0.4125" stop-color="#e1e4e5"/><stop offset="0.415" stop-color="#e0e4e5"/><stop offset="0.4175" stop-color="#dfe3e4"/><stop offset="0.42" stop-color="#dee1e3"/><stop offset="0.4225" stop-color="#dce0e1"/><stop offset="0.425" stop-color="#d9dddf"/><stop offset="0.4275" stop-color="#d6d9db"/><stop offset="0.43" stop-color="#cfd3d4"/><stop offset="0.4325" stop-color="#c4c7c8"/><stop offset="0.435" stop-color="#b0b4b5"/><stop offset="0.4375" stop-color="#939596"/><stop offset="0.44" stop-color="#6a6c6d"/><stop offset="0.4425" stop-color="#3a3b3b"/><stop offset="0.445" stop-color="#0a0a0a"/><stop offset="0.4475" stop-color="#000000"/><stop offset="0.4525" stop-color="#000000"/><stop offset="0.455" stop-color="#080808"/><stop offset="0.4575" stop-color="#383939"/><stop offset="0.46" stop-color="#686a6b"/><stop offset="0.4625" stop-color="#929495"/><stop offset="0.465" stop-color="#b0b3b4"/><stop offset="0.4675" stop-color="#c4c8c9"/><stop offset="0.47" stop-color="#d0d4d5"/><stop offset="0.4725" stop-color="#d7dbdc"/><stop offset="0.475" stop-color="#dbdfe0"/><stop offset="0.4775" stop-color="#dee2e3"/><stop offset="0.48" stop-color="#e0e4e5"/><stop offset="0.4825" stop-color="#e2e5e6"/><stop offset="0.485" stop-color="#e3e6e7"/><stop offset="0.4875" stop-color="#e4e7e8"/><stop offset="0.49" stop-color="#e5e8e9"/><stop offset="0.495" stop-color="#e5e8e9"/><stop offset="0.4975" stop-color="#e6e9ea"/><stop offset="0.51" stop-color="#e6e9ea"/><stop offset="0.5125" stop-color="#e7e9ea"/><stop offset="0.515" stop-color="#e7e9ea"/><stop offset="0.5175" stop-color="#e7eaea"/><stop offset="0.52" stop-color="#e7eaeb"/><stop offset="0.535" stop-color="#e7eaeb"/><stop offset="0.5375" stop-color="#e8eaeb"/><stop offset="0.5425" stop-color="#e8eaeb"/><stop offset="0.545" stop-color="#e8ebeb"/><stop offset="0.5475" stop-color="#e8ebec"/><stop offset="0.56" stop-color="#e8ebec"/><stop offset="0.5625" stop-color="#e8ebeb"/><stop offset="0.565" stop-color="#e8eaeb"/><stop offset="0.5675" stop-color="#e7eaeb"/><stop offset="0.57" stop-color="#e6e9ea"/><stop offset="0.5725" stop-color="#e5e8e9"/><stop offset="0.575" stop-color="#e3e6e7"/><stop offset="0.5775" stop-color="#e0e3e5"/><stop offset="0.58" stop-color="#dbdfe0"/><stop offset="0.5825" stop-color="#d2d6d7"/><stop offset="0.585" stop-color="#bfc3c4"/><stop offset="0.5875" stop-color="#9c9fa0"/><stop offset="0.59" stop-color="#67696a"/><stop offset="0.5925" stop-color="#282929"/><stop offset="0.595" stop-color="#000000"/><stop offset="0.6" stop-color="#000000"/><stop offset="0.6025" stop-color="#353636"/><stop offset="0.605" stop-color="#747677"/><stop offset="0.6075" stop-color="#a6a9aa"/><stop offset="0.61" stop-color="#c5c8ca"/><stop offset="0.6125" stop-color="#d5d9da"/><stop offset="0.615" stop-color="#dde1e2"/><stop offset="0.6175" stop-color="#e2e5e7"/><stop offset="0.62" stop-color="#e5e8e9"/><stop offset="0.6225" stop-color="#e7eaeb"/><stop offset="0.625" stop-color="#e8ebec"/><stop offset="0.6275" stop-color="#e9eced"/><stop offset="0.63" stop-color="#eaeded"/><stop offset="0.6325" stop-color="#ebedee"/><stop offset="0.635" stop-color="#ebedee"/><stop offset="0.6375" stop-color="#ebeeee"/><stop offset="0.64" stop-color="#eceeef"/><stop offset="0.6525" stop-color="#eceeef"/><stop offset="0.655" stop-color="#ecefef"/><stop offset="0.6575" stop-color="#ecefef"/><stop offset="0.66" stop-color="#edeff0"/><stop offset="0.675" stop-color="#edeff0"/><stop offset="0.6775" stop-color="#edf0f0"/><stop offset="0.68" stop-color="#eef0f0"/><stop offset="0.6825" stop-color="#eef0f0"/><stop offset="0.685" stop-color="#eef0f1"/><stop offset="0.695" stop-color="#eef0f1"/><stop offset="0.6975" stop-color="#eef0f0"/><stop offset="0.7" stop-color="#edeff0"/><stop offset="0.7025" stop-color="#ecefef"/><stop offset="0.705" stop-color="#ebeeee"/><stop offset="0.7075" stop-color="#eaeced"/><stop offset="0.71" stop-color="#e7eaeb"/><stop offset="0.7125" stop-color="#e2e5e6"/><stop offset="0.715" stop-color="#d9ddde"/><stop offset="0.7175" stop-color="#c8cccd"/><stop offset="0.72" stop-color="#aaadae"/><stop offset="0.7225" stop-color="#7c7e7f"/><stop offset="0.725" stop-color="#424343"/><stop offset="0.7275" stop-color="#090909"/><stop offset="0.73" stop-color="#000000"/><stop offset="0.7325" stop-color="#000000"/><stop offset="0.735" stop-color="#0d0d0d"/><stop offset="0.7375" stop-color="#464848"/><stop offset="0.74" stop-color="#818384"/><stop offset="0.7425" stop-color="#aeb1b2"/><stop offset="0.745" stop-color="#cbced0"/><stop offset="0.7475" stop-color="#dbdfe0"/><stop offset="0.75" stop-color="#e4e7e8"/><stop offset="0.7525" stop-color="#e9eced"/><stop offset="0.755" stop-color="#eceeef"/><stop offset="0.7575" stop-color="#eef0f1"/><stop offset="0.76" stop-color="#eff1f2"/><stop offset="0.7625" stop-color="#f0f2f3"/><stop offset="0.765" stop-color="#f1f3f3"/><stop offset="0.7675" stop-color="#f1f3f3"/><stop offset="0.77" stop-color="#f2f3f4"/><stop offset="0.7725" stop-color="#f2f3f4"/><stop offset="0.775" stop-color="#f2f4f4"/><stop offset="0.7825" stop-color="#f2f4f4"/><stop offset="0.785" stop-color="#f3f4f5"/><stop offset="0.795" stop-color="#f3f4f5"/><stop offset="0.7975" stop-color="#f3f5f5"/><stop offset="0.8075" stop-color="#f3f5f5"/><stop offset="0.81" stop-color="#f4f5f5"/><stop offset="0.8125" stop-color="#f4f5f5"/><stop offset="0.815" stop-color="#f3f5f5"/><stop offset="0.8175" stop-color="#f3f4f5"/><stop offset="0.82" stop-color="#f2f4f4"/><stop offset="0.8225" stop-color="#f1f3f3"/><stop offset="0.825" stop-color="#eff1f1"/><stop offset="0.8275" stop-color="#eaeced"/><stop offset="0.83" stop-color="#dee1e3"/><stop offset="0.8325" stop-color="#c6c9ca"/><stop offset="0.835" stop-color="#979a9b"/><stop offset="0.8375" stop-color="#545656"/><stop offset="0.84" stop-color="#121313"/><stop offset="0.8425" stop-color="#000000"/><stop offset="0.845" stop-color="#101011"/><stop offset="0.8475" stop-color="#515353"/><stop offset="0.85" stop-color="#969899"/><stop offset="0.8525" stop-color="#c5c9ca"/><stop offset="0.855" stop-color="#dee2e3"/><stop offset="0.8575" stop-color="#ebedee"/><stop offset="0.86" stop-color="#f0f2f2"/><stop offset="0.8625" stop-color="#f2f4f4"/><stop offset="0.865" stop-color="#f4f5f6"/><stop offset="0.8675" stop-color="#f5f6f7"/><stop offset="0.87" stop-color="#f5f7f7"/><stop offset="0.8725" stop-color="#f6f7f7"/><stop offset="0.8775" stop-color="#f6f7f7"/><stop offset="0.88" stop-color="#f6f7f8"/><stop offset="0.9125" stop-color="#f6f7f8"/><stop offset="0.915" stop-color="#f6f8f8"/><stop offset="0.9175" stop-color="#f7f8f8"/><stop offset="0.985" stop-color="#f7f8f8"/><stop offset="0.9875" stop-color="#f7f8f9"/><stop offset="1" stop-color="#f7f8f9"/></linearGradient>
<linearGradient id="g10" x1="0" y1="0" x2="0" y2="1"><stop offset="0" stop-color="#fcfcfc"/><stop offset="0.3425" stop-color="#fcfcfc"/><stop offset="0.345" stop-color="#fbfcfc"/><stop offset="0.3475" stop-color="#fbfcfc"/><stop offset="0.35" stop-color="#fbfbfb"/><stop offset="0.3525" stop-color="#fafbfb"/><stop offset="0.355" stop-color="#f9fafa"/><stop offset="0.3575" stop-color="#f8f9fa"/><stop offset="0.36" stop-color="#f7f8f8"/><stop offset="0.3625" stop-color="#f4f6f6"/><stop offset="0.365" stop-color="#f0f2f2"/><stop offset="0.3675" stop-color="#e8eaeb"/><stop offset="0.37" stop-color="#d8dcdd"/><stop offset="0.3725" stop-color="#bfc3c4"/><stop offset="0.375" stop-color="#989b9c"/><stop offset="0.3775" stop-color="#646666"/><stop offset="0.38" stop-color="#2b2c2c"/><stop offset="0.3825" stop-color="#000000"/><stop offset="0.3875" stop-color="#000000"/><stop offset="0.39" stop-color="#212222"/><stop offset="0.3925" stop-color="#595b5b"/><stop offset="0.395" stop-color="#8f9293"/><stop offset="0.3975" stop-color="#b9bcbd"/><stop offset="0.4" stop-color="#d4d8d9"/><stop offset="0.4025" stop-color="#e5e8e9"/><stop offset="0.405" stop-color="#eff1f1"/><stop offset="0.4075" stop-color="#f4f5f6"/><stop offset="0.41" stop-color="#f6f8f8"/><stop offset="0.4125" stop-color="#f8f9f9"/><stop offset="0.415" stop-color="#f9fafa"/><stop offset="0.4175" stop-color="#fafbfb"/><stop offset="0.42" stop-color="#fbfbfb"/><stop offset="0.4225" stop-color="#fbfcfc"/><stop offset="0.4275" stop-color="#fbfcfc"/><stop offset="0.43" stop-color="#fcfcfc"/><stop offset="0.475" stop-color="#fcfcfc"/><stop offset="0.4775" stop-color="#fbfcfc"/><stop offset="0.48" stop-color="#fbfbfc"/><stop offset="0.4825" stop-color="#fafbfb"/><stop offset="0.485" stop-color="#f9fafa"/><stop offset="0.4875" stop-color="#f7f8f8"/><stop offset="0.49" stop-color="#f4f5f6"/><stop offset="0.4925" stop-color="#f0f1f2"/><stop offset="0.495" stop-color="#ebedee"/><stop offset="0.4975" stop-color="#e5e8e9"/><stop offset="0.5" stop-color="#e0e4e5"/><stop offset="0.5025" stop-color="#d9ddde"/><stop offset="0.505" stop-color="#c9cccd"/><stop offset="0.5075" stop-color="#a0a2a3"/><stop offset="0.51" stop-color="#5f6162"/><stop offset="0.5125" stop-color="#303131"/><stop offset="0.515" stop-color="#3e3f3f"/><stop offset="0.5175" stop-color="#808283"/><stop offset="0.52" stop-color="#c1c5c6"/><stop offset="0.5225" stop-color="#e7eaeb"/><stop offset="0.525" stop-color="#f6f7f8"/><stop offset="0.5275" stop-color="#fafbfb"/><stop offset="0.53" stop-color="#fbfcfc"/><stop offset="0.5325" stop-color="#fbfcfc"/><stop offset="0.535" stop-color="#fcfcfc"/><stop offset="0.635" stop-color="#fcfcfc"/><stop offset="0.6375" stop-color="#fbfcfc"/><stop offset="0.7225" stop-color="#fbfcfc"/><stop offset="0.725" stop-color="#fafafb"/><stop offset="0.7275" stop-color="#f6f7f8"/><stop offset="0.73" stop-color="#f2f3f4"/><stop offset="0.7325" stop-color="#eff1f2"/><stop offset="0.735" stop-color="#f2f3f4"/><stop offset="0.7375" stop-color="#f7f8f8"/><stop offset="0.74" stop-color="#fafafb"/><stop offset="0.7425" stop-color="#fbfcfc"/><stop offset="0.77" stop-color="#fbfcfc"/><stop offset="0.7725" stop-color="#fbfbfc"/><stop offset="0.775" stop-color="#f9fafa"/><stop offset="0.7775" stop-color="#f5f7f7"/><stop offset="0.78" stop-color="#f1f3f3"/><stop offset="0.7825" stop-color="#eff1f2"/><stop offset="0.785" stop-color="#f3f4f5"/><stop offset="0.7875" stop-color="#f7f8f9"/><stop offset="0.79" stop-color="#fafbfb"/><stop offset="0.7925" stop-color="#fbfcfc"/><stop offset="0.8425" stop-color="#fbfcfc"/><stop offset="0.845" stop-color="#fbfbfc"/><stop offset="0.8475" stop-color="#fbfbfb"/><stop offset="0.85" stop-color="#fbfbfb"/><stop offset="0.8525" stop-color="#fafbfb"/><stop offset="0.855" stop-color="#fafafb"/><stop offset="0.8575" stop-color="#f9fafa"/><stop offset="0.86" stop-color="#f9f9fa"/><stop offset="0.8625" stop-color="#f8f9f9"/><stop offset="0.865" stop-color="#f7f8f8"/><stop offset="0.8675" stop-color="#f5f6f6"/><stop offset="0.87" stop-color="#f2f3f4"/><stop offset="0.8725" stop-color="#e9eced"/><stop offset="0.875" stop-color="#d7dbdc"/><stop offset="0.8775" stop-color="#b5b9ba"/><stop offset="0.88" stop-color="#7e8182"/><stop offset="0.8825" stop-color="#3a3b3b"/><stop offset="0.885" stop-color="#000000"/><stop offset="0.8875" stop-color="#000000"/><stop offset="0.89" stop-color="#010101"/><stop offset="0.8925" stop-color="#343536"/><stop offset="0.895" stop-color="#676969"/><stop offset="0.8975" stop-color="#858888"/><stop offset="0.9" stop-color="#8c8e8f"/><stop offset="0.9025" stop-color="#818384"/><stop offset="0.905" stop-color="#6e7071"/><stop offset="0.9075" stop-color="#5a5b5c"/><stop offset="0.91" stop-color="#474949"/><stop offset="0.9125" stop-color="#3a3b3c"/><stop offset="0.915" stop-color="#343535"/><stop offset="0.9175" stop-color="#353637"/><stop offset="0.92" stop-color="#3f4041"/><stop offset="0.9225" stop-color="#4f5151"/><stop offset="0.925" stop-color="#646667"/><stop offset="0.9275" stop-color="#7c7e7f"/><stop offset="0.93" stop-color="#939697"/><stop offset="0.9325" stop-color="#a9acad"/><stop offset="0.935" stop-color="#bcbfc0"/><stop offset="0.9375" stop-color="#cbcfd0"/><stop offset="0.94" stop-color="#d6dadc"/><stop offset="0.9425" stop-color="#dfe3e4"/><stop offset="0.945" stop-color="#e6e9ea"/><stop offset="0.9475" stop-color="#ebedee"/><stop offset="0.95" stop-color="#edeff0"/><stop offset="0.9525" stop-color="#eff1f2"/><stop offset="0.955" stop-color="#f0f2f2"/><stop offset="0.9575" stop-color="#f0f2f3"/><stop offset="0.96" stop-color="#f1f2f3"/><stop offset="0.97" stop-color="#f1f2f3"/><stop offset="0.9725" stop-color="#f0f2f3"/><stop offset="0.9775" stop-color="#f0f2f3"/><stop offset="0.98" stop-color="#f0f2f2"/><stop offset="0.9825" stop-color="#f0f2f2"/><stop offset="0.985" stop-color="#f0f2f3"/><stop offset="0.9875" stop-color="#f1f3f4"/><stop offset="0.99" stop-color="#f2f4f4"/><stop offset="0.9925" stop-color="#f3f5f5"/><stop offset="0.995" stop-color="#f4f6f6"/><stop offset="0.9975" stop-color="#f5f7f7"/><stop offset="1" stop-color="#f6f7f7"/></linearGradient>
<linearGradient id="g11" x1="0" y1="0" x2="0" y2="1"><stop offset="0" stop-color="#fbfcfc"/><stop offset="0.04" stop-color="#fbfcfc"/><stop offset="0.0425" stop-color="#fbfbfc"/><stop offset="0.0625" stop-color="#fbfbfc"/><stop offset="0.065" stop-color="#fbfbfb"/><stop offset="0.0975" stop-color="#fbfbfb"/><stop offset="0.1" stop-color="#fafbfb"/><stop offset="0.1075" stop-color="#fafbfb"/><stop offset="0.11" stop-color="#fafafb"/><stop offset="0.1125" stop-color="#f9fafa"/><stop offset="0.115" stop-color="#f8f9f9"/><stop offset="0.1175" stop-color="#f7f8f9"/><stop offset="0.12" stop-color="#f7f8f8"/><stop offset="0.1225" stop-color="#f6f7f7"/><stop offset="0.1475" stop-color="#f6f7f7"/><stop offset="0.15" stop-color="#f5f7f7"/><stop offset="0.16" stop-color="#f5f7f7"/><stop offset="0.1625" stop-color="#f5f6f7"/><stop offset="0.195" stop-color="#f5f6f7"/><stop offset="0.1975" stop-color="#f5f6f6"/><stop offset="0.22" stop-color="#f5f6f6"/><stop offset="0.2225" stop-color="#f4f6f6"/><stop offset="0.2325" stop-color="#f4f6f6"/><stop offset="0.235" stop-color="#f3f5f5"/><stop offset="0.2375" stop-color="#f2f4f4"/><stop offset="0.24" stop-color="#f1f3f3"/><stop offset="0.2425" stop-color="#f0f2f2"/><stop offset="0.245" stop-color="#f0f2f3"/><stop offset="0.2475" stop-color="#f1f2f3"/><stop offset="0.25" stop-color="#f1f3f3"/><stop offset="0.2525" stop-color="#f2f3f4"/><stop offset="0.255" stop-color="#f2f4f4"/><stop offset="0.2575" stop-color="#f3f4f5"/><stop offset="0.26" stop-color="#f3f4f5"/><stop offset="0.2625" stop-color="#f2f4f5"/><stop offset="0.265" stop-color="#f2f4f4"/><stop offset="0.2675" stop-color="#f2f4f4"/><stop offset="0.27" stop-color="#f2f3f4"/><stop offset="0.275" stop-color="#f2f3f4"/><stop offset="0.2775" stop-color="#f1f3f4"/><stop offset="0.28" stop-color="#f0f1f2"/><stop offset="0.2825" stop-color="#eef0f0"/><stop offset="0.285" stop-color="#eceeef"/><stop offset="0.2875" stop-color="#eceeef"/><stop offset="0.29" stop-color="#edeff0"/><stop offset="0.2925" stop-color="#eef0f1"/><stop offset="0.295" stop-color="#eff1f1"/><stop offset="0.2975" stop-color="#f0f2f2"/><stop offset="0.3675" stop-color="#f0f2f2"/><stop offset="0.37" stop-color="#edeff0"/><stop offset="0.3725" stop-color="#e4e7e8"/><stop offset="0.375" stop-color="#ced2d3"/><stop offset="0.3775" stop-color="#a7aaab"/><stop offset="0.38" stop-color="#6c6e6f"/><stop offset="0.3825" stop-color="#2e2f2f"/><stop offset="0.385" stop-color="#070707"/><stop offset="0.3875" stop-color="#0c0c0c"/><stop offset="0.39" stop-color="#3b3c3c"/><stop offset="0.3925" stop-color="#7b7d7e"/><stop offset="0.395" stop-color="#b3b6b7"/><stop offset="0.3975" stop-color="#d6dadb"/><stop offset="0.4" stop-color="#eaeced"/><stop offset="0.4025" stop-color="#f2f4f4"/><stop offset="0.405" stop-color="#f5f6f6"/><stop offset="0.4075" stop-color="#f6f7f7"/><stop offset="0.41" stop-color="#f6f7f7"/><stop offset="0.4125" stop-color="#f5f7f7"/><stop offset="0.415" stop-color="#f4f5f6"/><stop offset="0.4175" stop-color="#f1f3f3"/><stop offset="0.42" stop-color="#eceeef"/><stop offset="0.4225" stop-color="#e6e9ea"/><stop offset="0.425" stop-color="#e3e7e8"/><stop offset="0.4275" stop-color="#e6e9ea"/><stop offset="0.43" stop-color="#ebeeef"/><stop offset="0.4325" stop-color="#f1f2f3"/><stop offset="0.435" stop-color="#f3f5f5"/><stop offset="0.4375" stop-color="#f3f4f5"/><stop offset="0.44" stop-color="#eff1f2"/><stop offset="0.4425" stop-color="#e8eaeb"/><stop offset="0.445" stop-color="#dde1e2"/><stop offset="0.4475" stop-color="#d5d9da"/><stop offset="0.45" stop-color="#d3d7d8"/><stop offset="0.4525" stop-color="#d7dbdd"/><stop offset="0.455" stop-color="#e1e4e5"/><stop offset="0.4575" stop-color="#eaedee"/><stop offset="0.46" stop-color="#f0f2f3"/><stop offset="0.4625" stop-color="#f3f5f5"/><stop offset="0.465" stop-color="#f4f5f6"/><stop offset="0.4675" stop-color="#f4f6f6"/><stop offset="0.47" stop-color="#eff1f2"/><stop offset="0.4725" stop-color="#e9eced"/><stop offset="0.475" stop-color="#e3e6e7"/><stop offset="0.4775" stop-color="#dde0e2"/><stop offset="0.48" stop-color="#dadee0"/><stop offset="0.4825" stop-color="#d9dddf"/><stop offset="0.485" stop-color="#d8dcde"/><stop offset="0.4875" stop-color="#d7dbdd"/><stop offset="0.49" stop-color="#d6dadc"/><stop offset="0.4925" stop-color="#d5d9db"/><stop offset="0.495" stop-color="#d4d8d9"/><stop offset="0.4975" stop-color="#d3d7d8"/><stop offset="0.5" stop-color="#d1d5d6"/><stop offset="0.5025" stop-color="#c9cdce"/><stop offset="0.505" stop-color="#b3b7b8"/><stop offset="0.5075" stop-color="#818384"/><stop offset="0.51" stop-color="#373838"/><stop offset="0.5125" stop-color="#020202"/><stop offset="0.515" stop-color="#0f1010"/><stop offset="0.5175" stop-color="#565858"/><stop offset="0.52" stop-color="#a3a6a7"/><stop offset="0.5225" stop-color="#d3d6d8"/><stop offset="0.525" stop-color="#e6e9ea"/><stop offset="0.5275" stop-color="#eceeef"/><stop offset="0.53" stop-color="#edeff0"/><stop offset="0.5325" stop-color="#edeff0"/><stop offset="0.535" stop-color="#eef0f0"/><stop offset="0.5375" stop-color="#eef0f0"/><stop offset="0.54" stop-color="#eef0f1"/><stop offset="0.5475" stop-color="#eef0f1"/><stop offset="0.55" stop-color="#eff0f1"/><stop offset="0.5525" stop-color="#eff1f1"/><stop offset="0.555" stop-color="#eff1f1"/><stop offset="0.5575" stop-color="#eff1f2"/><stop offset="0.565" stop-color="#eff1f2"/><stop offset="0.5675" stop-color="#f0f1f2"/><stop offset="0.57" stop-color="#f0f2f2"/><stop offset="0.5725" stop-color="#f0f2f2"/><stop offset="0.575" stop-color="#eff1f1"/><stop offset="0.5775" stop-color="#e9ebec"/><stop offset="0.58" stop-color="#dbdfe0"/><stop offset="0.5825" stop-color="#d0d4d5"/><stop offset="0.585" stop-color="#d4d8d9"/><stop offset="0.5875" stop-color="#e2e5e6"/><stop offset="0.59" stop-color="#edeff0"/><stop offset="0.5925" stop-color="#f1f3f3"/><stop offset="0.595" stop-color="#f2f3f4"/><stop offset="0.5975" stop-color="#f2f4f4"/><stop offset="0.6025" stop-color="#f2f4f4"/><stop offset="0.605" stop-color="#f3f4f5"/><stop offset="0.615" stop-color="#f3f4f5"/><stop offset="0.6175" stop-color="#f3f5f5"/><stop offset="0.63" stop-color="#f3f5f5"/><stop offset="0.6325" stop-color="#f4f5f5"/><stop offset="0.635" stop-color="#f4f5f5"/><stop offset="0.6375" stop-color="#f4f5f6"/><stop offset="0.6525" stop-color="#f4f5f6"/><stop offset="0.655" stop-color="#f4f6f6"/><stop offset="0.6625" stop-color="#f4f6f6"/><stop offset="0.665" stop-color="#f5f6f6"/><stop offset="0.675" stop-color="#f5f6f6"/><stop offset="0.6775" stop-color="#f5f6f7"/><stop offset="0.69" stop-color="#f5f6f7"/><stop offset="0.6925" stop-color="#f5f7f7"/><stop offset="0.695" stop-color="#f5f7f7"/><stop offset="0.6975" stop-color="#f6f7f7"/><stop offset="0.7125" stop-color="#f6f7f7"/><stop offset="0.715" stop-color="#f6f7f8"/><stop offset="0.7275" stop-color="#f6f7f8"/><stop offset="0.73" stop-color="#f7f8f8"/><stop offset="0.7425" stop-color="#f7f8f8"/><stop offset="0.745" stop-color="#f6f7f7"/><stop offset="0.7475" stop-color="#eff1f1"/><stop offset="0.75" stop-color="#dbdfe0"/><stop offset="0.7525" stop-color="#c5c9ca"/><stop offset="0.755" stop-color="#c3c7c8"/><stop offset="0.7575" stop-color="#d7dbdd"/><stop offset="0.76" stop-color="#edeff0"/><stop offset="0.7625" stop-color="#f6f7f7"/><stop offset="0.765" stop-color="#f7f8f9"/><stop offset="0.7675" stop-color="#f8f9f9"/><stop offset="0.7925" stop-color="#f8f9f9"/><stop offset="0.795" stop-color="#f8f9fa"/><stop offset="0.7975" stop-color="#f9f9fa"/><stop offset="0.8025" stop-color="#f9f9fa"/><stop offset="0.805" stop-color="#f9fafa"/><stop offset="0.81" stop-color="#f9fafa"/><stop offset="0.8125" stop-color="#f9f9fa"/><stop offset="0.815" stop-color="#f8f9fa"/><stop offset="0.8175" stop-color="#f8f9f9"/><stop offset="0.825" stop-color="#f8f9f9"/><stop offset="0.8275" stop-color="#f8f8f9"/><stop offset="0.83" stop-color="#f7f8f9"/><stop offset="0.8325" stop-color="#f7f8f8"/><stop offset="0.835" stop-color="#f6f7f8"/><stop offset="0.8375" stop-color="#f4f5f6"/><stop offset="0.84" stop-color="#edeff0"/><stop offset="0.8425" stop-color="#dfe3e4"/><stop offset="0.845" stop-color="#d0d3d5"/><stop offset="0.8475" stop-color="#c6c9ca"/><stop offset="0.85" stop-color="#c8cbcd"/><stop offset="0.8525" stop-color="#d4d8da"/><stop offset="0.855" stop-color="#e4e7e8"/><stop offset="0.8575" stop-color="#eff1f1"/><stop offset="0.86" stop-color="#f3f5f5"/><stop offset="0.8625" stop-color="#f5f6f6"/><stop offset="0.865" stop-color="#f5f6f7"/><stop offset="0.8675" stop-color="#f5f6f6"/><stop offset="0.87" stop-color="#f4f6f6"/><stop offset="0.8725" stop-color="#f3f4f5"/><stop offset="0.875" stop-color="#edeff0"/><stop offset="0.8775" stop-color="#dbdfe1"/><stop offset="0.88" stop-color="#b6babb"/><stop offset="0.8825" stop-color="#7a7c7d"/><stop offset="0.885" stop-color="#3d3e3f"/><stop offset="0.8875" stop-color="#272728"/><stop offset="0.89" stop-color="#464748"/><stop offset="0.8925" stop-color="#808283"/><stop offset="0.895" stop-color="#adb0b1"/><stop offset="0.8975" stop-color="#c0c4c5"/><stop offset="0.9" stop-color="#c0c4c5"/><stop offset="0.9025" stop-color="#b7babb"/><stop offset="0.905" stop-color="#abafb0"/><stop offset="0.9075" stop-color="#a0a3a4"/><stop offset="0.91" stop-color="#96999a"/><stop offset="0.9125" stop-color="#8f9192"/><stop offset="0.915" stop-color="#8b8d8e"/><stop offset="0.9175" stop-color="#8b8d8e"/><stop offset="0.92" stop-color="#8f9192"/><stop offset="0.9225" stop-color="#96999a"/><stop offset="0.925" stop-color="#a0a3a4"/><stop offset="0.9275" stop-color="#abaeaf"/><stop offset="0.93" stop-color="#b7babb"/><stop offset="0.9325" stop-color="#c2c6c7"/><stop offset="0.935" stop-color="#cdd0d2"/><stop offset="0.9375" stop-color="#d5d9db"/><stop offset="0.94" stop-color="#dde1e2"/><stop offset="0.9425" stop-color="#e3e6e8"/><stop offset="0.945" stop-color="#e8ebec"/><stop offset="0.9475" stop-color="#eceeef"/><stop offset="0.95" stop-color="#eef0f1"/><stop offset="0.9525" stop-color="#f0f2f2"/><stop offset="0.955" stop-color="#f1f3f3"/><stop offset="0.9575" stop-color="#f2f3f4"/><stop offset="0.96" stop-color="#f2f4f4"/><stop offset="0.9625" stop-color="#f3f4f5"/><stop offset="0.965" stop-color="#f3f5f5"/><stop offset="0.9675" stop-color="#f3f5f5"/><stop offset="0.97" stop-color="#f4f5f6"/><stop offset="0.9725" stop-color="#f4f5f6"/><stop offset="0.975" stop-color="#f4f6f6"/><stop offset="0.9775" stop-color="#f5f6f6"/><stop offset="0.98" stop-color="#f5f6f7"/><stop offset="0.9825" stop-color="#f5f7f7"/><stop offset="0.985" stop-color="#f6f7f7"/><stop offset="0.9875" stop-color="#f6f7f7"/><stop offset="0.99" stop-color="#f6f7f8"/><stop offset="0.9925" stop-color="#f7f8f8"/><stop offset="0.9975" stop-color="#f7f8f8"/><stop offset="1" stop-color="#f7f8f9"/></linearGradient>
<linearGradient id="g12" x1="0" y1="0" x2="0" y2="1"><stop offset="0" stop-color="#fbfcfc"/><stop offset="0.015" stop-color="#fbfcfc"/><stop offset="0.0175" stop-color="#fbfbfc"/><stop offset="0.025" stop-color="#fbfbfc"/><stop offset="0.0275" stop-color="#fbfbfb"/><stop offset="0.0375" stop-color="#fbfbfb"/><stop offset="0.04" stop-color="#fafbfb"/><stop offset="0.065" stop-color="#fafbfb"/><stop offset="0.0675" stop-color="#fafafb"/><stop offset="0.075" stop-color="#fafafb"/><stop offset="0.0775" stop-color="#fafafa"/><stop offset="0.08" stop-color="#fafafa"/><stop offset="0.0825" stop-color="#f9fafa"/><stop offset="0.1075" stop-color="#f9fafa"/><stop offset="0.11" stop-color="#f8f9f9"/><stop offset="0.1125" stop-color="#f6f7f8"/><stop offset="0.115" stop-color="#f5f6f7"/><stop offset="0.1175" stop-color="#f4f5f5"/><stop offset="0.12" stop-color="#f2f4f4"/><stop offset="0.1225" stop-color="#f1f3f3"/><stop offset="0.125" stop-color="#f0f1f2"/><stop offset="0.1275" stop-color="#eef0f1"/><stop offset="0.13" stop-color="#edeff0"/><stop offset="0.17" stop-color="#edeff0"/><stop offset="0.1725" stop-color="#edf0f0"/><stop offset="0.175" stop-color="#edf0f0"/><stop offset="0.1775" stop-color="#eef0f0"/><stop offset="0.1925" stop-color="#eef0f0"/><stop offset="0.195" stop-color="#eef0f1"/><stop offset="0.2575" stop-color="#eef0f1"/><stop offset="0.26" stop-color="#edeff0"/><stop offset="0.2625" stop-color="#eceeef"/><stop offset="0.265" stop-color="#ebedee"/><stop offset="0.2675" stop-color="#eaeced"/><stop offset="0.27" stop-color="#e8ebec"/><stop offset="0.2725" stop-color="#e7eaeb"/><stop offset="0.275" stop-color="#e6e9ea"/><stop offset="0.2775" stop-color="#e5e8e9"/><stop offset="0.28" stop-color="#e4e7e8"/><stop offset="0.2825" stop-color="#e2e6e7"/><stop offset="0.285" stop-color="#e1e5e6"/><stop offset="0.2875" stop-color="#e2e5e6"/><stop offset="0.29" stop-color="#e2e6e7"/><stop offset="0.2925" stop-color="#e3e7e8"/><stop offset="0.295" stop-color="#e4e7e8"/><stop offset="0.2975" stop-color="#e5e8e9"/><stop offset="0.3" stop-color="#e6e9ea"/><stop offset="0.3025" stop-color="#e7eaea"/><stop offset="0.305" stop-color="#e7eaeb"/><stop offset="0.365" stop-color="#e7eaeb"/><stop offset="0.3675" stop-color="#e7eaea"/><stop offset="0.37" stop-color="#e3e6e8"/><stop offset="0.3725" stop-color="#d9dddf"/><stop offset="0.375" stop-color="#c6cacb"/><stop offset="0.3775" stop-color="#a3a6a7"/><stop offset="0.38" stop-color="#717374"/><stop offset="0.3825" stop-color="#393a3a"/><stop offset="0.385" stop-color="#0d0d0d"/><stop offset="0.3875" stop-color="#000000"/><stop offset="0.39" stop-color="#151515"/><stop offset="0.3925" stop-color="#454647"/><stop offset="0.395" stop-color="#7e8081"/><stop offset="0.3975" stop-color="#aeb1b2"/><stop offset="0.4" stop-color="#ced2d3"/><stop offset="0.4025" stop-color="#e1e4e5"/><stop offset="0.405" stop-color="#eaedee"/><stop offset="0.4075" stop-color="#eef0f1"/><stop offset="0.41" stop-color="#eff1f2"/><stop offset="0.4125" stop-color="#eff1f1"/><stop offset="0.415" stop-color="#edeff0"/><stop offset="0.4175" stop-color="#e9ebec"/><stop offset="0.42" stop-color="#e2e5e6"/><stop offset="0.4225" stop-color="#dadedf"/><stop offset="0.425" stop-color="#d6d9db"/><stop offset="0.4275" stop-color="#d7dbdc"/><stop offset="0.43" stop-color="#dde1e2"/><stop offset="0.4325" stop-color="#e5e8e9"/><stop offset="0.435" stop-color="#eaeced"/><stop offset="0.4375" stop-color="#eaeded"/><stop offset="0.44" stop-color="#e6e9ea"/><stop offset="0.4425" stop-color="#dce0e1"/><stop offset="0.445" stop-color="#d0d4d5"/><stop offset="0.4475" stop-color="#c5c9ca"/><stop offset="0.45" stop-color="#c0c4c5"/><stop offset="0.4525" stop-color="#c5c8c9"/><stop offset="0.455" stop-color="#cfd3d4"/><stop offset="0.4575" stop-color="#dbdfe0"/><stop offset="0.46" stop-color="#e5e8e9"/><stop offset="0.4625" stop-color="#eaeced"/><stop offset="0.465" stop-color="#eceeef"/><stop offset="0.4675" stop-color="#e6e9ea"/><stop offset="0.47" stop-color="#dee2e3"/><stop offset="0.4725" stop-color="#d7dbdc"/><stop offset="0.475" stop-color="#d0d4d5"/><stop offset="0.4775" stop-color="#c9ccce"/><stop offset="0.48" stop-color="#c6cacb"/><stop offset="0.4825" stop-color="#c5c9ca"/><stop offset="0.485" stop-color="#c4c8c9"/><stop offset="0.4875" stop-color="#c3c6c8"/><stop offset="0.49" stop-color="#c2c5c6"/><stop offset="0.4925" stop-color="#c1c4c5"/><stop offset="0.495" stop-color="#bfc3c4"/><stop offset="0.4975" stop-color="#bec1c2"/><stop offset="0.5" stop-color="#babdbe"/><stop offset="0.5025" stop-color="#afb2b3"/><stop offset="0.505" stop-color="#959798"/><stop offset="0.5075" stop-color="#6a6b6c"/><stop offset="0.51" stop-color="#323333"/><stop offset="0.5125" stop-color="#060606"/><stop offset="0.515" stop-color="#030303"/><stop offset="0.5175" stop-color="#2e2f2f"/><stop offset="0.52" stop-color="#6f7171"/><stop offset="0.5225" stop-color="#a8abac"/><stop offset="0.525" stop-color="#cbcfd0"/><stop offset="0.5275" stop-color="#dadee0"/><stop offset="0.53" stop-color="#e0e3e5"/><stop offset="0.5325" stop-color="#e2e5e6"/><stop offset="0.535" stop-color="#e2e5e7"/><stop offset="0.5375" stop-color="#e2e6e7"/><stop offset="0.54" stop-color="#e3e6e7"/><stop offset="0.5425" stop-color="#e3e6e7"/><stop offset="0.545" stop-color="#e3e7e8"/><stop offset="0.5475" stop-color="#e4e7e8"/><stop offset="0.55" stop-color="#e4e7e8"/><stop offset="0.5525" stop-color="#e4e8e9"/><stop offset="0.555" stop-color="#e5e8e9"/><stop offset="0.56" stop-color="#e5e8e9"/><stop offset="0.5625" stop-color="#e6e9ea"/><stop offset="0.5675" stop-color="#e6e9ea"/><stop offset="0.57" stop-color="#e7eaeb"/><stop offset="0.5725" stop-color="#e7eaeb"/><stop offset="0.575" stop-color="#e6e9ea"/><stop offset="0.5775" stop-color="#dee2e3"/><stop offset="0.58" stop-color="#cfd3d4"/><stop offset="0.5825" stop-color="#c2c6c7"/><stop offset="0.585" stop-color="#c7cacc"/><stop offset="0.5875" stop-color="#d8dbdd"/><stop offset="0.59" stop-color="#e5e8e9"/><stop offset="0.5925" stop-color="#eaeced"/><stop offset="0.595" stop-color="#ebedee"/><stop offset="0.5975" stop-color="#ebedee"/><stop offset="0.6" stop-color="#eceeef"/><stop offset="0.6025" stop-color="#eceeef"/><stop offset="0.605" stop-color="#ecefef"/><stop offset="0.6075" stop-color="#edeff0"/><stop offset="0.62" stop-color="#edeff0"/><stop offset="0.6225" stop-color="#edf0f0"/><stop offset="0.625" stop-color="#eef0f0"/><stop offset="0.6275" stop-color="#eef0f0"/><stop offset="0.63" stop-color="#eef0f1"/><stop offset="0.645" stop-color="#eef0f1"/><stop offset="0.6475" stop-color="#eff1f1"/><stop offset="0.655" stop-color="#eff1f1"/><stop offset="0.6575" stop-color="#eff1f2"/><stop offset="0.6675" stop-color="#eff1f2"/><stop offset="0.67" stop-color="#f0f1f2"/><stop offset="0.6725" stop-color="#f0f2f2"/><stop offset="0.68" stop-color="#f0f2f2"/><stop offset="0.6825" stop-color="#f0f2f3"/><stop offset="0.6875" stop-color="#f0f2f3"/><stop offset="0.69" stop-color="#f1f2f3"/><stop offset="0.695" stop-color="#f1f2f3"/><stop offset="0.6975" stop-color="#f1f3f3"/><stop offset="0.7075" stop-color="#f1f3f3"/><stop offset="0.71" stop-color="#f1f3f4"/><stop offset="0.7125" stop-color="#f2f3f4"/><stop offset="0.72" stop-color="#f2f3f4"/><stop offset="0.7225" stop-color="#f2f4f4"/><stop offset="0.7325" stop-color="#f2f4f4"/><stop offset="0.735" stop-color="#f3f4f5"/><stop offset="0.7425" stop-color="#f3f4f5"/><stop offset="0.745" stop-color="#f1f3f4"/><stop offset="0.7475" stop-color="#eaeced"/><stop offset="0.75" stop-color="#d5d9da"/><stop offset="0.7525" stop-color="#bec1c2"/><stop offset="0.755" stop-color="#bcbfc0"/><stop offset="0.7575" stop-color="#d1d5d7"/><stop offset="0.76" stop-color="#e8ebec"/><stop offset="0.7625" stop-color="#f2f3f4"/><stop offset="0.765" stop-color="#f4f5f6"/><stop offset="0.77" stop-color="#f4f5f6"/><stop offset="0.7725" stop-color="#f4f6f6"/><stop offset="0.7775" stop-color="#f4f6f6"/><stop offset="0.78" stop-color="#f5f6f6"/><stop offset="0.785" stop-color="#f5f6f6"/><stop offset="0.7875" stop-color="#f5f6f7"/><stop offset="0.795" stop-color="#f5f6f7"/><stop offset="0.7975" stop-color="#f5f7f7"/><stop offset="0.8" stop-color="#f5f7f7"/><stop offset="0.8025" stop-color="#f6f7f7"/><stop offset="0.81" stop-color="#f6f7f7"/><stop offset="0.8125" stop-color="#f5f6f7"/><stop offset="0.815" stop-color="#f5f6f6"/><stop offset="0.8175" stop-color="#f4f5f6"/><stop offset="0.82" stop-color="#f3f5f5"/><stop offset="0.8225" stop-color="#f3f4f5"/><stop offset="0.825" stop-color="#f2f4f4"/><stop offset="0.8275" stop-color="#f2f3f4"/><stop offset="0.83" stop-color="#f1f3f4"/><stop offset="0.8325" stop-color="#f1f2f3"/><stop offset="0.835" stop-color="#f0f1f2"/><stop offset="0.8375" stop-color="#ecefef"/><stop offset="0.84" stop-color="#e4e7e8"/><stop offset="0.8425" stop-color="#d6dadb"/><stop offset="0.845" stop-color="#c5c9ca"/><stop offset="0.8475" stop-color="#babdbe"/><stop offset="0.85" stop-color="#bcbfc0"/><stop offset="0.8525" stop-color="#cacdce"/><stop offset="0.855" stop-color="#d9ddde"/><stop offset="0.8575" stop-color="#e4e7e8"/><stop offset="0.86" stop-color="#e9eced"/><stop offset="0.8625" stop-color="#eaeded"/><stop offset="0.865" stop-color="#eaeced"/><stop offset="0.8675" stop-color="#e9ecec"/><stop offset="0.87" stop-color="#e6e9ea"/><stop offset="0.8725" stop-color="#dee2e3"/><stop offset="0.875" stop-color="#cbcfd0"/><stop offset="0.8775" stop-color="#a4a7a8"/><stop offset="0.88" stop-color="#626465"/><stop offset="0.8825" stop-color="#101111"/><stop offset="0.885" stop-color="#000000"/><stop offset="0.89" stop-color="#000000"/><stop offset="0.8925" stop-color="#1a1b1b"/><stop offset="0.895" stop-color="#606162"/><stop offset="0.8975" stop-color="#8d8f90"/><stop offset="0.9" stop-color="#9ea1a2"/><stop offset="0.9025" stop-color="#9b9e9f"/><stop offset="0.905" stop-color="#8e9192"/><stop offset="0.9075" stop-color="#7e8182"/><stop offset="0.91" stop-color="#707272"/><stop offset="0.9125" stop-color="#646667"/><stop offset="0.915" stop-color="#5e6061"/><stop offset="0.9175" stop-color="#5e6060"/><stop offset="0.92" stop-color="#646666"/><stop offset="0.9225" stop-color="#6f7171"/><stop offset="0.925" stop-color="#7d7f80"/><stop offset="0.9275" stop-color="#8d9091"/><stop offset="0.93" stop-color="#9ea1a2"/><stop offset="0.9325" stop-color="#adb0b1"/><stop offset="0.935" stop-color="#babdbe"/><stop offset="0.9375" stop-color="#c4c8c9"/><stop offset="0.94" stop-color="#ccd0d1"/><stop offset="0.9425" stop-color="#d3d7d8"/><stop offset="0.945" stop-color="#d7dbdd"/><stop offset="0.9475" stop-color="#dbdee0"/><stop offset="0.95" stop-color="#dde1e2"/><stop offset="0.9525" stop-color="#dfe2e4"/><stop offset="0.955" stop-color="#e0e4e5"/><stop offset="0.9575" stop-color="#e1e5e6"/><stop offset="0.96" stop-color="#e2e6e7"/><stop offset="0.9625" stop-color="#e3e6e7"/><stop offset="0.965" stop-color="#e4e7e8"/><stop offset="0.9675" stop-color="#e5e8e9"/><stop offset="0.97" stop-color="#e6e9ea"/><stop offset="0.9725" stop-color="#e7eaea"/><stop offset="0.975" stop-color="#e8eaeb"/><stop offset="0.9775" stop-color="#e8ebec"/><stop offset="0.98" stop-color="#e9eced"/><stop offset="0.9825" stop-color="#eaeded"/><stop offset="0.985" stop-color="#ebedee"/><stop offset="0.9875" stop-color="#eceeef"/><stop offset="0.99" stop-color="#edeff0"/><stop offset="0.9925" stop-color="#eef0f0"/><stop offset="0.995" stop-color="#eff0f1"/><stop offset="0.9975" stop-color="#eff1f2"/><stop offset="1" stop-color="#f0f2f2"/></linearGradient>
<linearGradient id="g13" x1="0" y1="0" x2="0" y2="1"><stop offset="0" stop-color="#fbfcfc"/><stop offset="0.04" stop-color="#fbfcfc"/><stop offset="0.0425" stop-color="#fbfbfc"/><stop offset="0.0625" stop-color="#fbfbfc"/><stop offset="0.065" stop-color="#fbfbfb"/><stop offset="0.0975" stop-color="#fbfbfb"/><stop offset="0.1" stop-color="#fafbfb"/><stop offset="0.1075" stop-color="#fafbfb"/><stop offset="0.11" stop-color="#f9fafa"/><stop offset="0.1125" stop-color="#f8f9fa"/><stop offset="0.115" stop-color="#f7f8f9"/><stop offset="0.1175" stop-color="#f6f7f8"/><stop offset="0.12" stop-color="#f5f7f7"/><stop offset="0.1225" stop-color="#f4f6f6"/><stop offset="0.125" stop-color="#f3f5f5"/><stop offset="0.1275" stop-color="#f2f4f4"/><stop offset="0.13" stop-color="#f1f3f4"/><stop offset="0.135" stop-color="#f1f3f4"/><stop offset="0.1375" stop-color="#f2f3f4"/><stop offset="0.15" stop-color="#f2f3f4"/><stop offset="0.1525" stop-color="#f2f4f4"/><stop offset="0.17" stop-color="#f2f4f4"/><stop offset="0.1725" stop-color="#f3f4f5"/><stop offset="0.1825" stop-color="#f3f4f5"/><stop offset="0.185" stop-color="#f1f3f4"/><stop offset="0.1875" stop-color="#f0f2f2"/><stop offset="0.19" stop-color="#eef0f1"/><stop offset="0.1925" stop-color="#eff1f2"/><stop offset="0.195" stop-color="#f0f2f2"/><stop offset="0.1975" stop-color="#f1f3f3"/><stop offset="0.2" stop-color="#f2f3f4"/><stop offset="0.2025" stop-color="#f3f4f5"/><stop offset="0.2175" stop-color="#f3f4f5"/><stop offset="0.22" stop-color="#f2f4f4"/><stop offset="0.245" stop-color="#f2f4f4"/><stop offset="0.2475" stop-color="#f2f3f4"/><stop offset="0.265" stop-color="#f2f3f4"/><stop offset="0.2675" stop-color="#f1f3f4"/><stop offset="0.2725" stop-color="#f1f3f4"/><stop offset="0.275" stop-color="#f0f2f2"/><stop offset="0.2775" stop-color="#eff0f1"/><stop offset="0.28" stop-color="#edeff0"/><stop offset="0.2825" stop-color="#eceeef"/><stop offset="0.285" stop-color="#eaeded"/><stop offset="0.2875" stop-color="#eaeded"/><stop offset="0.29" stop-color="#ebedee"/><stop offset="0.2925" stop-color="#ebedee"/><stop offset="0.295" stop-color="#ebeeef"/><stop offset="0.2975" stop-color="#eceeef"/><stop offset="0.3" stop-color="#ecefef"/><stop offset="0.3025" stop-color="#edeff0"/><stop offset="0.31" stop-color="#edeff0"/><stop offset="0.3125" stop-color="#edefef"/><stop offset="0.315" stop-color="#edefef"/><stop offset="0.3175" stop-color="#ecefef"/><stop offset="0.3225" stop-color="#ecefef"/><stop offset="0.325" stop-color="#eceeef"/><stop offset="0.355" stop-color="#eceeef"/><stop offset="0.3575" stop-color="#ebeeef"/><stop offset="0.36" stop-color="#ebeeee"/><stop offset="0.3625" stop-color="#ebeeee"/><stop offset="0.365" stop-color="#eceeef"/><stop offset="0.3675" stop-color="#ecefef"/><stop offset="0.37" stop-color="#edeff0"/><stop offset="0.3725" stop-color="#ecefef"/><stop offset="0.375" stop-color="#eaeded"/><stop offset="0.3775" stop-color="#e2e5e6"/><stop offset="0.38" stop-color="#d0d4d5"/><stop offset="0.3825" stop-color="#afb2b3"/><stop offset="0.385" stop-color="#7c7e7f"/><stop offset="0.3875" stop-color="#424344"/><stop offset="0.39" stop-color="#171718"/><stop offset="0.3925" stop-color="#0f0f10"/><stop offset="0.395" stop-color="#2f2f30"/><stop offset="0.3975" stop-color="#666868"/><stop offset="0.4" stop-color="#9ea1a2"/><stop offset="0.4025" stop-color="#c7cbcc"/><stop offset="0.405" stop-color="#dfe3e4"/><stop offset="0.4075" stop-color="#eceeef"/><stop offset="0.41" stop-color="#f1f2f3"/><stop offset="0.4125" stop-color="#f2f4f4"/><stop offset="0.415" stop-color="#f3f4f5"/><stop offset="0.4175" stop-color="#f2f4f4"/><stop offset="0.42" stop-color="#f1f2f3"/><stop offset="0.4225" stop-color="#edeff0"/><stop offset="0.425" stop-color="#e8eaeb"/><stop offset="0.4275" stop-color="#e1e4e6"/><stop offset="0.43" stop-color="#dde1e2"/><stop offset="0.4325" stop-color="#dfe2e4"/><stop offset="0.435" stop-color="#e4e7e8"/><stop offset="0.4375" stop-color="#eaeded"/><stop offset="0.44" stop-color="#edf0f0"/><stop offset="0.4425" stop-color="#edeff0"/><stop offset="0.445" stop-color="#e8eaeb"/><stop offset="0.4475" stop-color="#dee1e3"/><stop offset="0.45" stop-color="#d3d7d8"/><stop offset="0.4525" stop-color="#cacecf"/><stop offset="0.455" stop-color="#c8cccd"/><stop offset="0.4575" stop-color="#ced2d3"/><stop offset="0.46" stop-color="#d8dcdd"/><stop offset="0.4625" stop-color="#e3e6e7"/><stop offset="0.465" stop-color="#eaedee"/><stop offset="0.4675" stop-color="#eef0f1"/><stop offset="0.47" stop-color="#eff1f2"/><stop offset="0.4725" stop-color="#eaeced"/><stop offset="0.475" stop-color="#e2e5e7"/><stop offset="0.4775" stop-color="#dbdfe0"/><stop offset="0.48" stop-color="#d4d8d9"/><stop offset="0.4825" stop-color="#ced1d3"/><stop offset="0.485" stop-color="#cbcfd0"/><stop offset="0.4875" stop-color="#cacecf"/><stop offset="0.49" stop-color="#c9cdce"/><stop offset="0.4925" stop-color="#c8cccd"/><stop offset="0.495" stop-color="#c7cbcc"/><stop offset="0.4975" stop-color="#c6cacb"/><stop offset="0.5" stop-color="#c5c9ca"/><stop offset="0.5025" stop-color="#c3c7c8"/><stop offset="0.505" stop-color="#bec1c2"/><stop offset="0.5075" stop-color="#b0b3b4"/><stop offset="0.51" stop-color="#989b9c"/><stop offset="0.5125" stop-color="#737576"/><stop offset="0.515" stop-color="#4f5050"/><stop offset="0.5175" stop-color="#3f4041"/><stop offset="0.52" stop-color="#525354"/><stop offset="0.5225" stop-color="#7d7f80"/><stop offset="0.525" stop-color="#a9acad"/><stop offset="0.5275" stop-color="#c9cdce"/><stop offset="0.53" stop-color="#dbdfe0"/><stop offset="0.5325" stop-color="#e2e5e6"/><stop offset="0.535" stop-color="#e4e7e8"/><stop offset="0.5375" stop-color="#e5e8e9"/><stop offset="0.54" stop-color="#e5e8e9"/><stop offset="0.5425" stop-color="#e6e9ea"/><stop offset="0.5475" stop-color="#e6e9ea"/><stop offset="0.55" stop-color="#e7eaeb"/><stop offset="0.555" stop-color="#e7eaeb"/><stop offset="0.5575" stop-color="#e8ebeb"/><stop offset="0.56" stop-color="#e8ebec"/><stop offset="0.5625" stop-color="#e9ebec"/><stop offset="0.565" stop-color="#e9ecec"/><stop offset="0.5675" stop-color="#e9eced"/><stop offset="0.57" stop-color="#eaeced"/><stop offset="0.5725" stop-color="#eaeded"/><stop offset="0.575" stop-color="#eaeced"/><stop offset="0.5775" stop-color="#e6e9ea"/><stop offset="0.58" stop-color="#d9dddf"/><stop offset="0.5825" stop-color="#c8cccd"/><stop offset="0.585" stop-color="#c2c6c7"/><stop offset="0.5875" stop-color="#d0d4d5"/><stop offset="0.59" stop-color="#e2e5e6"/><stop offset="0.5925" stop-color="#ebedee"/><stop offset="0.595" stop-color="#edf0f0"/><stop offset="0.5975" stop-color="#eef0f1"/><stop offset="0.6" stop-color="#eff0f1"/><stop offset="0.6025" stop-color="#eff1f1"/><stop offset="0.605" stop-color="#eff1f2"/><stop offset="0.6075" stop-color="#f0f2f2"/><stop offset="0.6175" stop-color="#f0f2f2"/><stop offset="0.62" stop-color="#f0f2f3"/><stop offset="0.63" stop-color="#f0f2f3"/><stop offset="0.6325" stop-color="#f1f2f3"/><stop offset="0.64" stop-color="#f1f2f3"/><stop offset="0.6425" stop-color="#f1f3f3"/><stop offset="0.655" stop-color="#f1f3f3"/><stop offset="0.6575" stop-color="#f1f3f4"/><stop offset="0.6625" stop-color="#f1f3f4"/><stop offset="0.665" stop-color="#f2f3f4"/><stop offset="0.6775" stop-color="#f2f3f4"/><stop offset="0.68" stop-color="#f2f4f4"/><stop offset="0.695" stop-color="#f2f4f4"/><stop offset="0.6975" stop-color="#f3f4f5"/><stop offset="0.715" stop-color="#f3f4f5"/><stop offset="0.7175" stop-color="#f3f5f5"/><stop offset="0.73" stop-color="#f3f5f5"/><stop offset="0.7325" stop-color="#f4f5f5"/><stop offset="0.735" stop-color="#f4f5f5"/><stop offset="0.7375" stop-color="#f4f5f6"/><stop offset="0.7425" stop-color="#f4f5f6"/><stop offset="0.745" stop-color="#f3f5f5"/><stop offset="0.7475" stop-color="#f0f2f2"/><stop offset="0.75" stop-color="#e2e5e6"/><stop offset="0.7525" stop-color="#c9cdce"/><stop offset="0.755" stop-color="#babdbe"/><stop offset="0.7575" stop-color="#c6c9ca"/><stop offset="0.76" stop-color="#dee2e3"/><stop offset="0.7625" stop-color="#eff1f2"/><stop offset="0.765" stop-color="#f4f5f6"/><stop offset="0.7675" stop-color="#f5f6f6"/><stop offset="0.775" stop-color="#f5f6f6"/><stop offset="0.7775" stop-color="#f5f6f7"/><stop offset="0.79" stop-color="#f5f6f7"/><stop offset="0.7925" stop-color="#f5f7f7"/><stop offset="0.795" stop-color="#f5f7f7"/><stop offset="0.7975" stop-color="#f6f7f7"/><stop offset="0.81" stop-color="#f6f7f7"/><stop offset="0.8125" stop-color="#f5f6f7"/><stop offset="0.815" stop-color="#f5f6f6"/><stop offset="0.8175" stop-color="#f4f5f6"/><stop offset="0.82" stop-color="#f3f5f5"/><stop offset="0.8225" stop-color="#f3f4f5"/><stop offset="0.825" stop-color="#f2f4f4"/><stop offset="0.8275" stop-color="#f2f3f4"/><stop offset="0.83" stop-color="#f1f3f4"/><stop offset="0.8325" stop-color="#f1f3f3"/><stop offset="0.835" stop-color="#f0f2f2"/><stop offset="0.8375" stop-color="#eef0f1"/><stop offset="0.84" stop-color="#eaeced"/><stop offset="0.8425" stop-color="#dfe2e4"/><stop offset="0.845" stop-color="#cfd3d4"/><stop offset="0.8475" stop-color="#bfc3c4"/><stop offset="0.85" stop-color="#b9bcbd"/><stop offset="0.8525" stop-color="#c0c4c5"/><stop offset="0.855" stop-color="#d0d4d5"/><stop offset="0.8575" stop-color="#dee2e3"/><stop offset="0.86" stop-color="#e7e9ea"/><stop offset="0.8625" stop-color="#e9eced"/><stop offset="0.865" stop-color="#eaeced"/><stop offset="0.8675" stop-color="#e9eced"/><stop offset="0.87" stop-color="#e7eaeb"/><stop offset="0.8725" stop-color="#e1e5e6"/><stop offset="0.875" stop-color="#d2d6d7"/><stop offset="0.8775" stop-color="#b2b5b6"/><stop offset="0.88" stop-color="#787a7b"/><stop offset="0.8825" stop-color="#29292a"/><stop offset="0.885" stop-color="#000000"/><stop offset="0.8925" stop-color="#000000"/><stop offset="0.895" stop-color="#464748"/><stop offset="0.8975" stop-color="#797c7c"/><stop offset="0.9" stop-color="#909293"/><stop offset="0.9025" stop-color="#8f9192"/><stop offset="0.905" stop-color="#818384"/><stop offset="0.9075" stop-color="#6f7172"/><stop offset="0.91" stop-color="#5e6061"/><stop offset="0.9125" stop-color="#525353"/><stop offset="0.915" stop-color="#4b4c4c"/><stop offset="0.9175" stop-color="#4a4c4c"/><stop offset="0.92" stop-color="#515353"/><stop offset="0.9225" stop-color="#5e5f60"/><stop offset="0.925" stop-color="#6e7071"/><stop offset="0.9275" stop-color="#818484"/><stop offset="0.93" stop-color="#949798"/><stop offset="0.9325" stop-color="#a6a9aa"/><stop offset="0.935" stop-color="#b5b8b9"/><stop offset="0.9375" stop-color="#c1c4c5"/><stop offset="0.94" stop-color="#cacecf"/><stop offset="0.9425" stop-color="#d1d5d6"/><stop offset="0.945" stop-color="#d6dadc"/><stop offset="0.9475" stop-color="#dadedf"/><stop offset="0.95" stop-color="#dde0e2"/><stop offset="0.9525" stop-color="#dfe2e3"/><stop offset="0.955" stop-color="#e0e4e5"/><stop offset="0.9575" stop-color="#e1e5e6"/><stop offset="0.96" stop-color="#e2e6e7"/><stop offset="0.9625" stop-color="#e3e6e7"/><stop offset="0.965" stop-color="#e4e7e8"/><stop offset="0.9675" stop-color="#e5e8e9"/><stop offset="0.97" stop-color="#e6e9ea"/><stop offset="0.9725" stop-color="#e7eaea"/><stop offset="0.975" stop-color="#e8eaeb"/><stop offset="0.9775" stop-color="#e8ebec"/><stop offset="0.98" stop-color="#e9eced"/><stop offset="0.9825" stop-color="#eaeded"/><stop offset="0.985" stop-color="#ebedee"/><stop offset="0.9875" stop-color="#eceeef"/><stop offset="0.99" stop-color="#edeff0"/><stop offset="0.9925" stop-color="#eef0f0"/><stop offset="0.995" stop-color="#eff0f1"/><stop offset="0.9975" stop-color="#eff1f2"/><stop offset="1" stop-color="#f0f2f2"/></linearGradient>
<linearGradient id="g14" x1="0" y1="0" x2="0" y2="1"><stop offset="0" stop-color="#fbfcfc"/><stop offset="0.0375" stop-color="#fbfcfc"/><stop offset="0.04" stop-color="#fbfbfc"/><stop offset="0.06" stop-color="#fbfbfc"/><stop offset="0.0625" stop-color="#fbfbfb"/><stop offset="0.095" stop-color="#fbfbfb"/><stop offset="0.0975" stop-color="#fafbfb"/><stop offset="0.1675" stop-color="#fafbfb"/><stop offset="0.17" stop-color="#fafafb"/><stop offset="0.195" stop-color="#fafafb"/><stop offset="0.1975" stop-color="#fafafa"/><stop offset="0.2075" stop-color="#fafafa"/><stop offset="0.21" stop-color="#f9fafa"/><stop offset="0.2775" stop-color="#f9fafa"/><stop offset="0.28" stop-color="#f7f8f9"/><stop offset="0.2825" stop-color="#f5f7f7"/><stop offset="0.285" stop-color="#f4f5f5"/><stop offset="0.2875" stop-color="#f2f3f4"/><stop offset="0.29" stop-color="#f0f2f2"/><stop offset="0.2925" stop-color="#eef0f1"/><stop offset="0.295" stop-color="#edeff0"/><stop offset="0.2975" stop-color="#eef0f1"/><stop offset="0.3" stop-color="#eff1f1"/><stop offset="0.3025" stop-color="#f0f2f2"/><stop offset="0.305" stop-color="#f1f3f3"/><stop offset="0.3075" stop-color="#f2f3f4"/><stop offset="0.31" stop-color="#f3f4f5"/><stop offset="0.3725" stop-color="#f3f4f5"/><stop offset="0.375" stop-color="#f2f4f4"/><stop offset="0.3775" stop-color="#f1f3f3"/><stop offset="0.38" stop-color="#edeff0"/><stop offset="0.3825" stop-color="#e2e5e6"/><stop offset="0.385" stop-color="#cfd2d4"/><stop offset="0.3875" stop-color="#b3b6b7"/><stop offset="0.39" stop-color="#949798"/><stop offset="0.3925" stop-color="#7f8282"/><stop offset="0.395" stop-color="#7f8283"/><stop offset="0.3975" stop-color="#949798"/><stop offset="0.4" stop-color="#b3b6b7"/><stop offset="0.4025" stop-color="#cfd2d4"/><stop offset="0.405" stop-color="#e2e5e6"/><stop offset="0.4075" stop-color="#edeff0"/><stop offset="0.41" stop-color="#f1f3f3"/><stop offset="0.4125" stop-color="#f2f4f4"/><stop offset="0.415" stop-color="#f3f4f5"/><stop offset="0.42" stop-color="#f3f4f5"/><stop offset="0.4225" stop-color="#f2f4f4"/><stop offset="0.425" stop-color="#f2f3f4"/><stop offset="0.4275" stop-color="#f1f3f3"/><stop offset="0.43" stop-color="#f0f2f2"/><stop offset="0.4325" stop-color="#eff1f2"/><stop offset="0.435" stop-color="#eff1f1"/><stop offset="0.4375" stop-color="#eef0f1"/><stop offset="0.44" stop-color="#edeff0"/><stop offset="0.4425" stop-color="#edefef"/><stop offset="0.445" stop-color="#eceeef"/><stop offset="0.4475" stop-color="#ebedee"/><stop offset="0.45" stop-color="#eaedee"/><stop offset="0.4525" stop-color="#eaeced"/><stop offset="0.455" stop-color="#e9ecec"/><stop offset="0.4575" stop-color="#e8ebec"/><stop offset="0.46" stop-color="#e7eaeb"/><stop offset="0.4625" stop-color="#e7eaeb"/><stop offset="0.465" stop-color="#e6e9ea"/><stop offset="0.4675" stop-color="#e5e8e9"/><stop offset="0.47" stop-color="#e5e8e9"/><stop offset="0.4725" stop-color="#e4e7e8"/><stop offset="0.475" stop-color="#e3e6e7"/><stop offset="0.4775" stop-color="#e3e6e7"/><stop offset="0.48" stop-color="#e2e5e6"/><stop offset="0.4825" stop-color="#e1e5e6"/><stop offset="0.485" stop-color="#e1e4e5"/><stop offset="0.5025" stop-color="#e1e4e5"/><stop offset="0.505" stop-color="#dfe3e4"/><stop offset="0.5075" stop-color="#dbdfe0"/><stop offset="0.51" stop-color="#d1d4d6"/><stop offset="0.5125" stop-color="#bec1c3"/><stop offset="0.515" stop-color="#a5a8a9"/><stop offset="0.5175" stop-color="#8f9292"/><stop offset="0.52" stop-color="#8a8d8e"/><stop offset="0.5225" stop-color="#9a9d9e"/><stop offset="0.525" stop-color="#b5b8b9"/><stop offset="0.5275" stop-color="#cdd1d2"/><stop offset="0.53" stop-color="#dde1e2"/><stop offset="0.5325" stop-color="#e6e9ea"/><stop offset="0.535" stop-color="#e9eced"/><stop offset="0.5375" stop-color="#eaeced"/><stop offset="0.54" stop-color="#eaedee"/><stop offset="0.5425" stop-color="#ebedee"/><stop offset="0.5475" stop-color="#ebedee"/><stop offset="0.55" stop-color="#ebeeee"/><stop offset="0.5525" stop-color="#ebeeee"/><stop offset="0.555" stop-color="#eceeef"/><stop offset="0.5625" stop-color="#eceeef"/><stop offset="0.565" stop-color="#ecefef"/><stop offset="0.5675" stop-color="#edefef"/><stop offset="0.57" stop-color="#edeff0"/><stop offset="0.5725" stop-color="#edeff0"/><stop offset="0.575" stop-color="#eef0f0"/><stop offset="0.5775" stop-color="#eceeef"/><stop offset="0.58" stop-color="#e4e7e8"/><stop offset="0.5825" stop-color="#d8dcde"/><stop offset="0.585" stop-color="#d5d9da"/><stop offset="0.5875" stop-color="#dfe2e4"/><stop offset="0.59" stop-color="#eceeef"/><stop offset="0.5925" stop-color="#f2f4f4"/><stop offset="0.595" stop-color="#f4f6f6"/><stop offset="0.5975" stop-color="#f5f7f7"/><stop offset="0.6" stop-color="#f6f7f8"/><stop offset="0.6025" stop-color="#f7f8f8"/><stop offset="0.605" stop-color="#f8f9f9"/><stop offset="0.6075" stop-color="#f9f9fa"/><stop offset="0.61" stop-color="#f9fafa"/><stop offset="0.7425" stop-color="#f9fafa"/><stop offset="0.745" stop-color="#f8f9f9"/><stop offset="0.7475" stop-color="#f5f6f6"/><stop offset="0.75" stop-color="#e6e9e9"/><stop offset="0.7525" stop-color="#cbcfd0"/><stop offset="0.755" stop-color="#bbbebf"/><stop offset="0.7575" stop-color="#c7cbcc"/><stop offset="0.76" stop-color="#e2e5e6"/><stop offset="0.7625" stop-color="#f3f5f5"/><stop offset="0.765" stop-color="#f8f9f9"/><stop offset="0.7675" stop-color="#f9fafa"/><stop offset="0.8075" stop-color="#f9fafa"/><stop offset="0.81" stop-color="#f9f9fa"/><stop offset="0.8125" stop-color="#f8f9f9"/><stop offset="0.8175" stop-color="#f8f9f9"/><stop offset="0.82" stop-color="#f7f8f9"/><stop offset="0.8225" stop-color="#f7f8f8"/><stop offset="0.825" stop-color="#f7f8f8"/><stop offset="0.8275" stop-color="#f6f7f8"/><stop offset="0.83" stop-color="#f6f7f7"/><stop offset="0.8325" stop-color="#f6f7f7"/><stop offset="0.835" stop-color="#f5f6f7"/><stop offset="0.8375" stop-color="#f3f5f5"/><stop offset="0.84" stop-color="#eff1f1"/><stop offset="0.8425" stop-color="#e4e7e8"/><stop offset="0.845" stop-color="#d4d8d9"/><stop offset="0.8475" stop-color="#c4c7c9"/><stop offset="0.85" stop-color="#bec1c2"/><stop offset="0.8525" stop-color="#c5c9ca"/><stop offset="0.855" stop-color="#d5d9da"/><stop offset="0.8575" stop-color="#e4e7e8"/><stop offset="0.86" stop-color="#edeff0"/><stop offset="0.8625" stop-color="#f0f2f3"/><stop offset="0.865" stop-color="#f1f2f3"/><stop offset="0.8675" stop-color="#f0f2f3"/><stop offset="0.87" stop-color="#eef0f1"/><stop offset="0.8725" stop-color="#e8ebec"/><stop offset="0.875" stop-color="#d9dcde"/><stop offset="0.8775" stop-color="#b9bcbd"/><stop offset="0.88" stop-color="#7f8182"/><stop offset="0.8825" stop-color="#2f3031"/><stop offset="0.885" stop-color="#000000"/><stop offset="0.89" stop-color="#000000"/><stop offset="0.8925" stop-color="#070707"/><stop offset="0.895" stop-color="#4d4f4f"/><stop offset="0.8975" stop-color="#818384"/><stop offset="0.9" stop-color="#979a9b"/><stop offset="0.9025" stop-color="#96999a"/><stop offset="0.905" stop-color="#898c8c"/><stop offset="0.9075" stop-color="#777a7a"/><stop offset="0.91" stop-color="#676969"/><stop offset="0.9125" stop-color="#5a5c5c"/><stop offset="0.915" stop-color="#535555"/><stop offset="0.9175" stop-color="#535555"/><stop offset="0.92" stop-color="#5a5c5c"/><stop offset="0.9225" stop-color="#676869"/><stop offset="0.925" stop-color="#777a7a"/><stop offset="0.9275" stop-color="#8a8d8e"/><stop offset="0.93" stop-color="#9ea0a1"/><stop offset="0.9325" stop-color="#afb2b4"/><stop offset="0.935" stop-color="#bec2c3"/><stop offset="0.9375" stop-color="#cacecf"/><stop offset="0.94" stop-color="#d4d8d9"/><stop offset="0.9425" stop-color="#dbdfe0"/><stop offset="0.945" stop-color="#e0e4e5"/><stop offset="0.9475" stop-color="#e4e7e8"/><stop offset="0.95" stop-color="#e7eaea"/><stop offset="0.9525" stop-color="#e8ebec"/><stop offset="0.955" stop-color="#e9eced"/><stop offset="0.9575" stop-color="#eaedee"/><stop offset="0.96" stop-color="#ebedee"/><stop offset="0.9625" stop-color="#eceeef"/><stop offset="0.965" stop-color="#eceeef"/><stop offset="0.9675" stop-color="#edefef"/><stop offset="0.97" stop-color="#edeff0"/><stop offset="0.9725" stop-color="#eef0f0"/><stop offset="0.975" stop-color="#eef0f1"/><stop offset="0.9775" stop-color="#eff1f1"/><stop offset="0.98" stop-color="#eff1f2"/><stop offset="0.9825" stop-color="#f0f1f2"/><stop offset="0.985" stop-color="#f0f2f2"/><stop offset="0.9875" stop-color="#f1f2f3"/><stop offset="0.99" stop-color="#f1f3f3"/><stop offset="0.9925" stop-color="#f2f3f4"/><stop offset="0.995" stop-color="#f2f4f4"/><stop offset="0.9975" stop-color="#f3f4f5"/><stop offset="1" stop-color="#f3f4f5"/></linearGradient>
<linearGradient id="g15" x1="0" y1="0" x2="0" y2="1"><stop offset="0" stop-color="#fbfcfc"/><stop offset="0.0175" stop-color="#fbfcfc"/><stop offset="0.02" stop-color="#fbfbfc"/><stop offset="0.0275" stop-color="#fbfbfc"/><stop offset="0.03" stop-color="#fbfbfb"/><stop offset="0.0425" stop-color="#fbfbfb"/><stop offset="0.045" stop-color="#fafbfb"/><stop offset="0.075" stop-color="#fafbfb"/><stop offset="0.0775" stop-color="#fafafb"/><stop offset="0.0875" stop-color="#fafafb"/><stop offset="0.09" stop-color="#fafafa"/><stop offset="0.0925" stop-color="#fafafa"/><stop offset="0.095" stop-color="#f9fafa"/><stop offset="0.1325" stop-color="#f9fafa"/><stop offset="0.135" stop-color="#f9f9fa"/><stop offset="0.145" stop-color="#f9f9fa"/><stop offset="0.1475" stop-color="#f8f9fa"/><stop offset="0.15" stop-color="#f8f9f9"/><stop offset="0.19" stop-color="#f8f9f9"/><stop offset="0.1925" stop-color="#f8f8f9"/><stop offset="0.195" stop-color="#f8f8f9"/><stop offset="0.1975" stop-color="#f7f8f9"/><stop offset="0.2075" stop-color="#f7f8f9"/><stop offset="0.21" stop-color="#f7f8f8"/><stop offset="0.245" stop-color="#f7f8f8"/><stop offset="0.2475" stop-color="#f6f8f8"/><stop offset="0.25" stop-color="#f6f7f8"/><stop offset="0.2675" stop-color="#f6f7f8"/><stop offset="0.27" stop-color="#f6f7f7"/><stop offset="0.2775" stop-color="#f6f7f7"/><stop offset="0.28" stop-color="#f4f5f6"/><stop offset="0.2825" stop-color="#f2f3f4"/><stop offset="0.285" stop-color="#eff1f2"/><stop offset="0.2875" stop-color="#edeff0"/><stop offset="0.29" stop-color="#ebedee"/><stop offset="0.2925" stop-color="#e9ebec"/><stop offset="0.295" stop-color="#e7eaeb"/><stop offset="0.2975" stop-color="#e8ebec"/><stop offset="0.3" stop-color="#e9ecec"/><stop offset="0.3025" stop-color="#eaeced"/><stop offset="0.305" stop-color="#ebedee"/><stop offset="0.3075" stop-color="#eceeef"/><stop offset="0.31" stop-color="#edeff0"/><stop offset="0.37" stop-color="#edeff0"/><stop offset="0.3725" stop-color="#eceeef"/><stop offset="0.375" stop-color="#eaeced"/><stop offset="0.3775" stop-color="#e4e7e8"/><stop offset="0.38" stop-color="#d8dcdd"/><stop offset="0.3825" stop-color="#c4c7c9"/><stop offset="0.385" stop-color="#a8abac"/><stop offset="0.3875" stop-color="#898b8c"/><stop offset="0.39" stop-color="#737575"/><stop offset="0.3925" stop-color="#6f7171"/><stop offset="0.395" stop-color="#7f8182"/><stop offset="0.3975" stop-color="#9b9e9f"/><stop offset="0.4" stop-color="#babdbe"/><stop offset="0.4025" stop-color="#d1d5d6"/><stop offset="0.405" stop-color="#e0e3e5"/><stop offset="0.4075" stop-color="#e8ebec"/><stop offset="0.41" stop-color="#ebeeee"/><stop offset="0.4125" stop-color="#ecefef"/><stop offset="0.415" stop-color="#edeff0"/><stop offset="0.42" stop-color="#edeff0"/><stop offset="0.4225" stop-color="#eceeef"/><stop offset="0.425" stop-color="#ebedee"/><stop offset="0.4275" stop-color="#eaeced"/><stop offset="0.43" stop-color="#e8ebec"/><stop offset="0.4325" stop-color="#e7eaeb"/><stop offset="0.435" stop-color="#e6e9ea"/><stop offset="0.4375" stop-color="#e5e8e9"/><stop offset="0.44" stop-color="#e4e7e8"/><stop offset="0.4425" stop-color="#e3e6e7"/><stop offset="0.445" stop-color="#e1e5e6"/><stop offset="0.4475" stop-color="#e0e4e5"/><stop offset="0.45" stop-color="#dfe3e4"/><stop offset="0.4525" stop-color="#dee2e3"/><stop offset="0.455" stop-color="#dde1e2"/><stop offset="0.4575" stop-color="#dce0e1"/><stop offset="0.46" stop-color="#dbdfe0"/><stop offset="0.4625" stop-color="#dadedf"/><stop offset="0.465" stop-color="#d9ddde"/><stop offset="0.4675" stop-color="#d8dcdd"/><stop offset="0.47" stop-color="#d7dbdc"/><stop offset="0.4725" stop-color="#d6dadb"/><stop offset="0.475" stop-color="#d5d9da"/><stop offset="0.4775" stop-color="#d4d8d9"/><stop offset="0.48" stop-color="#d4d7d9"/><stop offset="0.4975" stop-color="#d4d7d9"/><stop offset="0.5" stop-color="#d3d7d8"/><stop offset="0.5025" stop-color="#d1d5d6"/><stop offset="0.505" stop-color="#cccfd1"/><stop offset="0.5075" stop-color="#bec2c3"/><stop offset="0.51" stop-color="#a7aaab"/><stop offset="0.5125" stop-color="#898c8d"/><stop offset="0.515" stop-color="#747677"/><stop offset="0.5175" stop-color="#747677"/><stop offset="0.52" stop-color="#8b8e8f"/><stop offset="0.5225" stop-color="#acafb0"/><stop offset="0.525" stop-color="#c8cbcc"/><stop offset="0.5275" stop-color="#d8dcdd"/><stop offset="0.53" stop-color="#e1e5e6"/><stop offset="0.5325" stop-color="#e6e9ea"/><stop offset="0.535" stop-color="#e7eaeb"/><stop offset="0.54" stop-color="#e7eaeb"/><stop offset="0.5425" stop-color="#e8eaeb"/><stop offset="0.545" stop-color="#e8eaeb"/><stop offset="0.5475" stop-color="#e8ebec"/><stop offset="0.5525" stop-color="#e8ebec"/><stop offset="0.555" stop-color="#e9ebec"/><stop offset="0.5575" stop-color="#e9ebec"/><stop offset="0.56" stop-color="#e9ecec"/><stop offset="0.5625" stop-color="#e9eced"/><stop offset="0.565" stop-color="#e9eced"/><stop offset="0.5675" stop-color="#eaeced"/><stop offset="0.57" stop-color="#eaeced"/><stop offset="0.5725" stop-color="#eaedee"/><stop offset="0.575" stop-color="#eaeded"/><stop offset="0.5775" stop-color="#e5e8e9"/><stop offset="0.58" stop-color="#d8dcde"/><stop offset="0.5825" stop-color="#ced2d3"/><stop offset="0.585" stop-color="#d3d6d8"/><stop offset="0.5875" stop-color="#e1e5e6"/><stop offset="0.59" stop-color="#edeff0"/><stop offset="0.5925" stop-color="#f2f3f4"/><stop offset="0.595" stop-color="#f3f5f5"/><stop offset="0.5975" stop-color="#f5f6f6"/><stop offset="0.6" stop-color="#f6f7f7"/><stop offset="0.6025" stop-color="#f7f8f8"/><stop offset="0.605" stop-color="#f8f8f9"/><stop offset="0.6075" stop-color="#f9f9fa"/><stop offset="0.61" stop-color="#f9fafa"/><stop offset="0.74" stop-color="#f9fafa"/><stop offset="0.7425" stop-color="#f9f9fa"/><stop offset="0.745" stop-color="#f6f7f7"/><stop offset="0.7475" stop-color="#eaeced"/><stop offset="0.75" stop-color="#d1d4d6"/><stop offset="0.7525" stop-color="#bcbfc1"/><stop offset="0.755" stop-color="#c3c6c8"/><stop offset="0.7575" stop-color="#dce0e1"/><stop offset="0.76" stop-color="#f1f3f3"/><stop offset="0.7625" stop-color="#f8f9f9"/><stop offset="0.765" stop-color="#f9fafa"/><stop offset="0.8075" stop-color="#f9fafa"/><stop offset="0.81" stop-color="#f9f9fa"/><stop offset="0.8125" stop-color="#f8f9f9"/><stop offset="0.8175" stop-color="#f8f9f9"/><stop offset="0.82" stop-color="#f7f8f9"/><stop offset="0.8225" stop-color="#f7f8f8"/><stop offset="0.825" stop-color="#f7f8f8"/><stop offset="0.8275" stop-color="#f6f7f8"/><stop offset="0.83" stop-color="#f6f7f7"/><stop offset="0.8325" stop-color="#f5f7f7"/><stop offset="0.835" stop-color="#f4f6f6"/><stop offset="0.8375" stop-color="#f1f3f4"/><stop offset="0.84" stop-color="#eaeced"/><stop offset="0.8425" stop-color="#dadee0"/><stop offset="0.845" stop-color="#cacdcf"/><stop offset="0.8475" stop-color="#bfc2c3"/><stop offset="0.85" stop-color="#c1c4c5"/><stop offset="0.8525" stop-color="#cfd2d4"/><stop offset="0.855" stop-color="#dfe2e3"/><stop offset="0.8575" stop-color="#ebedee"/><stop offset="0.86" stop-color="#f0f1f2"/><stop offset="0.8625" stop-color="#f1f3f3"/><stop offset="0.865" stop-color="#f1f3f3"/><stop offset="0.8675" stop-color="#f0f2f2"/><stop offset="0.87" stop-color="#edeff0"/><stop offset="0.8725" stop-color="#e5e8e9"/><stop offset="0.875" stop-color="#d1d5d6"/><stop offset="0.8775" stop-color="#aaadae"/><stop offset="0.88" stop-color="#686a6b"/><stop offset="0.8825" stop-color="#161616"/><stop offset="0.885" stop-color="#000000"/><stop offset="0.89" stop-color="#000000"/><stop offset="0.8925" stop-color="#1c1d1d"/><stop offset="0.895" stop-color="#616364"/><stop offset="0.8975" stop-color="#8e9192"/><stop offset="0.9" stop-color="#a0a3a4"/><stop offset="0.9025" stop-color="#9fa1a2"/><stop offset="0.905" stop-color="#949697"/><stop offset="0.9075" stop-color="#86898a"/><stop offset="0.91" stop-color="#7a7c7d"/><stop offset="0.9125" stop-color="#717373"/><stop offset="0.915" stop-color="#6c6e6e"/><stop offset="0.9175" stop-color="#6c6e6e"/><stop offset="0.92" stop-color="#707373"/><stop offset="0.9225" stop-color="#797c7c"/><stop offset="0.925" stop-color="#868889"/><stop offset="0.9275" stop-color="#949797"/><stop offset="0.93" stop-color="#a3a6a7"/><stop offset="0.9325" stop-color="#b1b4b5"/><stop offset="0.935" stop-color="#bdc1c2"/><stop offset="0.9375" stop-color="#c8cccd"/><stop offset="0.94" stop-color="#d1d5d6"/><stop offset="0.9425" stop-color="#d8dcdd"/><stop offset="0.945" stop-color="#dee1e3"/><stop offset="0.9475" stop-color="#e2e5e7"/><stop offset="0.95" stop-color="#e5e8e9"/><stop offset="0.9525" stop-color="#e7eaeb"/><stop offset="0.955" stop-color="#e9ebec"/><stop offset="0.9575" stop-color="#eaeced"/><stop offset="0.96" stop-color="#ebedee"/><stop offset="0.9625" stop-color="#ebeeef"/><stop offset="0.965" stop-color="#eceeef"/><stop offset="0.9675" stop-color="#edefef"/><stop offset="0.97" stop-color="#edeff0"/><stop offset="0.9725" stop-color="#eef0f0"/><stop offset="0.975" stop-color="#eef0f1"/><stop offset="0.9775" stop-color="#eff1f1"/><stop offset="0.98" stop-color="#eff1f2"/><stop offset="0.9825" stop-color="#f0f1f2"/><stop offset="0.985" stop-color="#f0f2f2"/><stop offset="0.9875" stop-color="#f1f2f3"/><stop offset="0.99" stop-color="#f1f3f3"/><stop offset="0.9925" stop-color="#f2f3f4"/><stop offset="0.995" stop-color="#f2f4f4"/><stop offset="0.9975" stop-color="#f3f4f5"/><stop offset="1" stop-color="#f3f4f5"/></linearGradient>
<linearGradient id="g16" x1="0" y1="0" x2="0" y2="1"><stop offset="0" stop-color="#fbfcfc"/><stop offset="0.1" stop-color="#fbfcfc"/><stop offset="0.1025" stop-color="#fbfbfc"/><stop offset="0.16" stop-color="#fbfbfc"/><stop offset="0.1625" stop-color="#fbfbfb"/><stop offset="0.2525" stop-color="#fbfbfb"/><stop offset="0.255" stop-color="#fafbfb"/><stop offset="0.2775" stop-color="#fafbfb"/><stop offset="0.28" stop-color="#f9fafa"/><stop offset="0.2825" stop-color="#f8f9f9"/><stop offset="0.285" stop-color="#f7f8f8"/><stop offset="0.2875" stop-color="#f6f7f7"/><stop offset="0.29" stop-color="#f5f6f6"/><stop offset="0.2925" stop-color="#f4f5f6"/><stop offset="0.295" stop-color="#f3f4f5"/><stop offset="0.2975" stop-color="#f3f5f5"/><stop offset="0.3" stop-color="#f4f5f6"/><stop offset="0.3025" stop-color="#f4f6f6"/><stop offset="0.305" stop-color="#f5f6f6"/><stop offset="0.3075" stop-color="#f5f6f7"/><stop offset="0.31" stop-color="#f6f7f7"/><stop offset="0.3775" stop-color="#f6f7f7"/><stop offset="0.38" stop-color="#f5f6f7"/><stop offset="0.3825" stop-color="#f3f4f5"/><stop offset="0.385" stop-color="#eceeef"/><stop offset="0.3875" stop-color="#dde1e2"/><stop offset="0.39" stop-color="#c8cbcc"/><stop offset="0.3925" stop-color="#adb0b1"/><stop offset="0.395" stop-color="#969999"/><stop offset="0.3975" stop-color="#8e9191"/><stop offset="0.4" stop-color="#9a9c9d"/><stop offset="0.4025" stop-color="#b2b6b7"/><stop offset="0.405" stop-color="#cdd0d1"/><stop offset="0.4075" stop-color="#e1e4e5"/><stop offset="0.41" stop-color="#eef0f0"/><stop offset="0.4125" stop-color="#f3f5f5"/><stop offset="0.415" stop-color="#f5f6f7"/><stop offset="0.4175" stop-color="#f6f7f7"/><stop offset="0.42" stop-color="#f6f7f7"/><stop offset="0.4225" stop-color="#f5f7f7"/><stop offset="0.425" stop-color="#f5f6f7"/><stop offset="0.4275" stop-color="#f4f6f6"/><stop offset="0.43" stop-color="#f4f5f6"/><stop offset="0.4325" stop-color="#f3f5f5"/><stop offset="0.435" stop-color="#f3f4f5"/><stop offset="0.4375" stop-color="#f2f4f4"/><stop offset="0.44" stop-color="#f2f3f4"/><stop offset="0.4425" stop-color="#f1f3f3"/><stop offset="0.445" stop-color="#f0f2f3"/><stop offset="0.4475" stop-color="#f0f2f2"/><stop offset="0.45" stop-color="#eff1f2"/><stop offset="0.4525" stop-color="#eff1f1"/><stop offset="0.455" stop-color="#eef0f1"/><stop offset="0.4575" stop-color="#eef0f0"/><stop offset="0.46" stop-color="#edeff0"/><stop offset="0.4625" stop-color="#edefef"/><stop offset="0.465" stop-color="#eceeef"/><stop offset="0.4675" stop-color="#ebeeee"/><stop offset="0.47" stop-color="#ebedee"/><stop offset="0.4725" stop-color="#eaedee"/><stop offset="0.475" stop-color="#eaeced"/><stop offset="0.4775" stop-color="#e9eced"/><stop offset="0.48" stop-color="#e9ebec"/><stop offset="0.4825" stop-color="#e8ebec"/><stop offset="0.485" stop-color="#e8eaeb"/><stop offset="0.4875" stop-color="#e7eaeb"/><stop offset="0.5025" stop-color="#e7eaeb"/><stop offset="0.505" stop-color="#e6e9ea"/><stop offset="0.5075" stop-color="#e5e8e9"/><stop offset="0.51" stop-color="#e1e4e6"/><stop offset="0.5125" stop-color="#d7dbdc"/><stop offset="0.515" stop-color="#c7cacc"/><stop offset="0.5175" stop-color="#b2b5b6"/><stop offset="0.52" stop-color="#a1a4a4"/><stop offset="0.5225" stop-color="#9fa1a2"/><stop offset="0.525" stop-color="#adb0b1"/><stop offset="0.5275" stop-color="#c4c8c9"/><stop offset="0.53" stop-color="#d8dcdd"/><stop offset="0.5325" stop-color="#e6e9ea"/><stop offset="0.535" stop-color="#edeff0"/><stop offset="0.5375" stop-color="#eff1f2"/><stop offset="0.54" stop-color="#f0f2f2"/><stop offset="0.5425" stop-color="#f0f2f3"/><stop offset="0.545" stop-color="#f1f2f3"/><stop offset="0.5475" stop-color="#f1f3f3"/><stop offset="0.5525" stop-color="#f1f3f3"/><stop offset="0.555" stop-color="#f1f3f4"/><stop offset="0.5575" stop-color="#f2f3f4"/><stop offset="0.56" stop-color="#f2f3f4"/><stop offset="0.5625" stop-color="#f2f4f4"/><stop offset="0.565" stop-color="#f2f4f4"/><stop offset="0.5675" stop-color="#f3f4f5"/><stop offset="0.57" stop-color="#f3f4f5"/><stop offset="0.5725" stop-color="#f3f5f5"/><stop offset="0.5775" stop-color="#f3f5f5"/><stop offset="0.58" stop-color="#f0f1f2"/><stop offset="0.5825" stop-color="#e5e8e9"/><stop offset="0.585" stop-color="#dadedf"/><stop offset="0.5875" stop-color="#dadedf"/><stop offset="0.59" stop-color="#e7e9ea"/><stop offset="0.5925" stop-color="#f2f3f4"/><stop offset="0.595" stop-color="#f6f7f7"/><stop offset="0.5975" stop-color="#f7f8f8"/><stop offset="0.6" stop-color="#f8f8f9"/><stop offset="0.6025" stop-color="#f8f9f9"/><stop offset="0.605" stop-color="#f8f9f9"/><stop offset="0.6075" stop-color="#f9fafa"/><stop offset="0.745" stop-color="#f9fafa"/><stop offset="0.7475" stop-color="#f7f8f8"/><stop offset="0.75" stop-color="#eff1f2"/><stop offset="0.7525" stop-color="#dadedf"/><stop offset="0.755" stop-color="#c5c9ca"/><stop offset="0.7575" stop-color="#c6cacb"/><stop offset="0.76" stop-color="#dbdfe0"/><stop offset="0.7625" stop-color="#f0f1f2"/><stop offset="0.765" stop-color="#f7f8f9"/><stop offset="0.7675" stop-color="#f9fafa"/><stop offset="0.81" stop-color="#f9fafa"/><stop offset="0.8125" stop-color="#f9f9fa"/><stop offset="0.815" stop-color="#f8f9f9"/><stop offset="0.8225" stop-color="#f8f9f9"/><stop offset="0.825" stop-color="#f7f8f9"/><stop offset="0.8275" stop-color="#f7f8f8"/><stop offset="0.8325" stop-color="#f7f8f8"/><stop offset="0.835" stop-color="#f6f7f8"/><stop offset="0.8375" stop-color="#f6f7f7"/><stop offset="0.84" stop-color="#f4f5f5"/><stop offset="0.8425" stop-color="#eef0f0"/><stop offset="0.845" stop-color="#e1e5e6"/><stop offset="0.8475" stop-color="#d2d6d7"/><stop offset="0.85" stop-color="#c6c9cb"/><stop offset="0.8525" stop-color="#c5c9ca"/><stop offset="0.855" stop-color="#d0d4d5"/><stop offset="0.8575" stop-color="#dfe3e4"/><stop offset="0.86" stop-color="#eceeef"/><stop offset="0.8625" stop-color="#f1f3f4"/><stop offset="0.865" stop-color="#f3f4f5"/><stop offset="0.8675" stop-color="#f3f5f5"/><stop offset="0.87" stop-color="#f2f4f4"/><stop offset="0.8725" stop-color="#eef0f1"/><stop offset="0.875" stop-color="#e3e6e7"/><stop offset="0.8775" stop-color="#cacecf"/><stop offset="0.88" stop-color="#9b9e9f"/><stop offset="0.8825" stop-color="#525354"/><stop offset="0.885" stop-color="#000000"/><stop offset="0.8925" stop-color="#000000"/><stop offset="0.895" stop-color="#2b2b2c"/><stop offset="0.8975" stop-color="#656768"/><stop offset="0.9" stop-color="#848787"/><stop offset="0.9025" stop-color="#888b8c"/><stop offset="0.905" stop-color="#7c7e7f"/><stop offset="0.9075" stop-color="#686a6a"/><stop offset="0.91" stop-color="#535455"/><stop offset="0.9125" stop-color="#414243"/><stop offset="0.915" stop-color="#353536"/><stop offset="0.9175" stop-color="#2f3030"/><stop offset="0.92" stop-color="#303131"/><stop offset="0.9225" stop-color="#393a3b"/><stop offset="0.925" stop-color="#484a4a"/><stop offset="0.9275" stop-color="#5c5d5e"/><stop offset="0.93" stop-color="#727475"/><stop offset="0.9325" stop-color="#888b8c"/><stop offset="0.935" stop-color="#9ea1a2"/><stop offset="0.9375" stop-color="#b1b4b5"/><stop offset="0.94" stop-color="#c1c4c6"/><stop offset="0.9425" stop-color="#ced2d3"/><stop offset="0.945" stop-color="#d8dcdd"/><stop offset="0.9475" stop-color="#e0e3e4"/><stop offset="0.95" stop-color="#e6e9ea"/><stop offset="0.9525" stop-color="#eaeced"/><stop offset="0.955" stop-color="#ecefef"/><stop offset="0.9575" stop-color="#eef0f1"/><stop offset="0.96" stop-color="#eff1f2"/><stop offset="0.9625" stop-color="#f0f2f2"/><stop offset="0.965" stop-color="#f1f2f3"/><stop offset="0.9675" stop-color="#f1f3f3"/><stop offset="0.97" stop-color="#f1f3f4"/><stop offset="0.9725" stop-color="#f2f3f4"/><stop offset="0.975" stop-color="#f2f4f4"/><stop offset="0.9775" stop-color="#f3f4f5"/><stop offset="0.98" stop-color="#f3f4f5"/><stop offset="0.9825" stop-color="#f3f5f5"/><stop offset="0.985" stop-color="#f4f5f6"/><stop offset="0.9875" stop-color="#f4f5f6"/><stop offset="0.99" stop-color="#f5f6f6"/><stop offset="0.9925" stop-color="#f5f6f7"/><stop offset="0.995" stop-color="#f5f6f7"/><stop offset="0.9975" stop-color="#f6f7f7"/><stop offset="1" stop-color="#f6f7f7"/></linearGradient></defs>
<rect width="2162" height="1275" fill="#fff"/>
<text x="-1.0" y="24.6" font-size="32" font-weight="bold">a</text>
<text x="198.7" y="38.6" font-size="24">PARIS</text>
<text x="302.4" y="38.6" font-size="24">PARIS<tspan font-size="12" dy="-12.2">dead</tspan><tspan dy="12.2" font-size="1">&#8203;</tspan></text>
<line x1="183.2" y1="44.6" x2="297.5" y2="44.6" stroke="#000" stroke-width="2.2" />
<line x1="304.6" y1="44.6" x2="419.6" y2="44.6" stroke="#000" stroke-width="2.2" />
<text x="99.5" y="71.2" font-size="24" text-anchor="middle">L</text>
<text x="147.8" y="71.2" font-size="24" text-anchor="middle">uninf</text>
<text x="198.4" y="71.2" font-size="24" text-anchor="middle">1</text>
<text x="237.7" y="71.2" font-size="24" text-anchor="middle">2</text>
<text x="281.2" y="71.2" font-size="24" text-anchor="middle">3</text>
<text x="321.5" y="71.2" font-size="24" text-anchor="middle">1</text>
<text x="364.3" y="71.2" font-size="24" text-anchor="middle">2</text>
<text x="404.6" y="71.2" font-size="24" text-anchor="middle">3</text>
<text x="80.6" y="188.9" font-size="24" text-anchor="end">4,000-</text>
<text x="80.6" y="267.1" font-size="24" text-anchor="end">2,000-</text>
<text x="80.6" y="325.6" font-size="24" text-anchor="end">1,000-</text>
<text x="80.6" y="378.0" font-size="24" text-anchor="end">500-</text>
<text x="80.6" y="421.5" font-size="24" text-anchor="end">200-</text>
<text x="59.3" y="446.1" font-size="24" text-anchor="middle">nt</text>
<rect x="81.0" y="77.5" width="41.0" height="399.0" fill="url(#g1)"/>
<rect x="130.5" y="77.5" width="39.5" height="399.0" fill="url(#g2)"/>
<rect x="177.0" y="77.5" width="40.2" height="399.0" fill="url(#g3)"/>
<rect x="217.2" y="77.5" width="42.8" height="399.0" fill="url(#g4)"/>
<rect x="260.0" y="77.5" width="41.0" height="399.0" fill="url(#g5)"/>
<rect x="301.0" y="77.5" width="41.5" height="399.0" fill="url(#g6)"/>
<rect x="342.5" y="77.5" width="40.9" height="399.0" fill="url(#g7)"/>
<rect x="383.4" y="77.5" width="38.6" height="399.0" fill="url(#g8)"/>
<line x1="217.2" y1="77.5" x2="217.2" y2="476.5" stroke="#fff" stroke-width="1.7" />
<line x1="260.0" y1="77.5" x2="260.0" y2="476.5" stroke="#fff" stroke-width="1.7" />
<line x1="301.0" y1="77.5" x2="301.0" y2="476.5" stroke="#fff" stroke-width="1.7" />
<line x1="342.5" y1="77.5" x2="342.5" y2="476.5" stroke="#fff" stroke-width="1.7" />
<line x1="383.4" y1="77.5" x2="383.4" y2="476.5" stroke="#fff" stroke-width="1.7" />
<rect x="81.0" y="77.5" width="41.0" height="399.0" fill="none" stroke="#000" stroke-width="2.4" />
<rect x="130.5" y="77.5" width="39.8" height="399.0" fill="none" stroke="#000" stroke-width="2.4" />
<rect x="177.2" y="77.5" width="244.8" height="399.0" fill="none" stroke="#000" stroke-width="2.4" />
<line x1="423.0" y1="234.5" x2="428.3" y2="234.5" stroke="#000" stroke-width="2" />
<text x="428.2" y="238.6" font-size="20.5">23S</text>
<line x1="423.0" y1="286.4" x2="428.3" y2="286.4" stroke="#000" stroke-width="2" />
<text x="428.2" y="290.8" font-size="20.5">16S</text>
<line x1="423.0" y1="437.0" x2="428.3" y2="437.0" stroke="#000" stroke-width="2" />
<text x="428.2" y="436.3" font-size="20.5">5S</text>
<line x1="423.0" y1="450.5" x2="428.3" y2="450.5" stroke="#000" stroke-width="2" />
<text x="428.2" y="463.3" font-size="20.5">tRNA</text>
<text x="470.5" y="23.9" font-size="32" font-weight="bold">b</text>
<text x="514.3" y="45.4" font-size="22.6" font-weight="bold">total internal</text>
<text x="514.3" y="68.4" font-size="22.6" font-weight="bold">RNA 3'-ends</text>
<rect x="525.0" y="84.2" width="114.4" height="365.9" fill="none" stroke="#000" stroke-width="2" />
<line x1="518.3" y1="117.3" x2="525.0" y2="117.3" stroke="#000" stroke-width="2" />
<text x="515.0" y="125.7" font-size="24" text-anchor="end">8</text>
<line x1="518.3" y1="284.0" x2="525.0" y2="284.0" stroke="#000" stroke-width="2" />
<text x="515.0" y="292.4" font-size="24" text-anchor="end">4</text>
<line x1="518.3" y1="450.0" x2="525.0" y2="450.0" stroke="#000" stroke-width="2" />
<text x="515.0" y="458.4" font-size="24" text-anchor="end">0</text>
<text transform="translate(496.5,327.0) rotate(-90)" font-size="24">CPM, <tspan dx="3.6">×10</tspan><tspan font-size="13" dy="-9">4</tspan><tspan dy="9" font-size="1">&#8203;</tspan></text>
<rect x="559.8" y="157.8" width="22.5" height="292.2" fill="#E64B35" stroke="#000" stroke-width="2" />
<rect x="582.3" y="395.0" width="22.5" height="55.0" fill="#4DBBD5" stroke="#000" stroke-width="2" />
<line x1="571.0" y1="117.7" x2="571.0" y2="199.3" stroke="#000" stroke-width="2" />
<line x1="566.6" y1="117.7" x2="575.0" y2="117.7" stroke="#000" stroke-width="2" />
<line x1="567.5" y1="199.3" x2="574.6" y2="199.3" stroke="#000" stroke-width="2" />
<circle cx="565.1" cy="128.6" r="3.9" fill="none" stroke="#000" stroke-width="2"/>
<circle cx="565.1" cy="141.8" r="3.9" fill="none" stroke="#000" stroke-width="2"/>
<circle cx="566.7" cy="204.4" r="3.9" fill="none" stroke="#000" stroke-width="2"/>
<circle cx="590.8" cy="392.2" r="3.6" fill="none" stroke="#000" stroke-width="2"/>
<circle cx="597.0" cy="394.2" r="3.6" fill="none" stroke="#000" stroke-width="2"/>
<circle cx="596.1" cy="400.4" r="3.6" fill="none" stroke="#000" stroke-width="2"/>
<text x="533.2" y="100.6" font-size="20.5"><tspan font-style="italic">p</tspan><tspan font-size="11.5" dy="4">adj</tspan></text>
<text x="632.3" y="100.6" font-size="20.6" text-anchor="end">= 0.036</text>
<path d="M570.8,110.6V107.4H593.9V110.6" fill="none" stroke="#000" stroke-width="2.5"/>
<text x="645.7" y="101.4" font-size="20">PARIS</text>
<rect x="648.0" y="113.0" width="13.4" height="12.2" fill="#E64B35" stroke="#000" stroke-width="1.8" />
<text x="664.8" y="123.6" font-size="20">wt</text>
<rect x="648.0" y="136.9" width="13.4" height="12.6" fill="#4DBBD5" stroke="#000" stroke-width="1.8" />
<text x="664.8" y="148.7" font-size="20">dead</text>
<text x="581.8" y="481.1" font-size="24.5" text-anchor="middle">tRNA</text>
<text x="716.5" y="24.4" font-size="32" font-weight="bold">c</text>
<text x="772.0" y="45.2" font-size="22.6" font-weight="bold">total internal</text>
<text x="772.0" y="67.4" font-size="22.6" font-weight="bold">tRNA 3'-ends</text>
<line x1="800.2" y1="419.6" x2="883.8" y2="111.6" stroke="#d2d2d2" stroke-width="2.4" />
<line x1="800.2" y1="419.6" x2="883.8" y2="431.0" stroke="#d2d2d2" stroke-width="2" />
<line x1="800.2" y1="425.3" x2="883.8" y2="403.2" stroke="#d2d2d2" stroke-width="2.4" />
<line x1="800.2" y1="429.0" x2="883.8" y2="421.9" stroke="#d2d2d2" stroke-width="2" />
<line x1="800.2" y1="423.0" x2="883.8" y2="424.0" stroke="#d2d2d2" stroke-width="2" />
<path d="M800.2,426.5L883.8,423.5V435L800.2,434.5Z" fill="#d2d2d2"/>
<rect x="769.1" y="81.7" width="146.6" height="365.3" fill="none" stroke="#000" stroke-width="2" />
<line x1="761.9" y1="431.2" x2="769.0" y2="431.2" stroke="#000" stroke-width="2" />
<text x="759.5" y="439.8" font-size="24" text-anchor="end">0</text>
<line x1="761.9" y1="362.1" x2="769.0" y2="362.1" stroke="#000" stroke-width="2" />
<text x="759.5" y="370.7" font-size="24" text-anchor="end">1</text>
<line x1="761.9" y1="293.0" x2="769.0" y2="293.0" stroke="#000" stroke-width="2" />
<text x="759.5" y="301.6" font-size="24" text-anchor="end">2</text>
<line x1="761.9" y1="223.9" x2="769.0" y2="223.9" stroke="#000" stroke-width="2" />
<text x="759.5" y="232.5" font-size="24" text-anchor="end">3</text>
<line x1="761.9" y1="154.8" x2="769.0" y2="154.8" stroke="#000" stroke-width="2" />
<text x="759.5" y="163.4" font-size="24" text-anchor="end">4</text>
<line x1="761.9" y1="85.7" x2="769.0" y2="85.7" stroke="#000" stroke-width="2" />
<text x="759.5" y="94.3" font-size="24" text-anchor="end">5</text>
<line x1="800.2" y1="447.0" x2="800.2" y2="453.8" stroke="#000" stroke-width="2" />
<line x1="883.8" y1="447.0" x2="883.8" y2="453.8" stroke="#000" stroke-width="2" />
<circle cx="800.2" cy="419.6" r="5.8" fill="#8a8a8a" stroke="#000" stroke-width="2.3"/>
<circle cx="800.2" cy="423.5" r="5.8" fill="#8a8a8a" stroke="#000" stroke-width="2.3"/>
<circle cx="800.2" cy="427.0" r="5.8" fill="#8a8a8a" stroke="#000" stroke-width="2.3"/>
<circle cx="800.2" cy="431.2" r="5.8" fill="#8a8a8a" stroke="#000" stroke-width="2.3"/>
<circle cx="883.8" cy="421.9" r="5.8" fill="#8a8a8a" stroke="#000" stroke-width="2.3"/>
<circle cx="883.8" cy="426.0" r="5.8" fill="#8a8a8a" stroke="#000" stroke-width="2.3"/>
<circle cx="883.8" cy="431.2" r="5.8" fill="#8a8a8a" stroke="#000" stroke-width="2.3"/>
<circle cx="883.8" cy="403.2" r="5.8" fill="#4DBBD5" stroke="#000" stroke-width="2.3"/>
<circle cx="884.0" cy="111.6" r="5.9" fill="#E64B35" stroke="#000" stroke-width="2.3"/>
<circle cx="929.0" cy="98.4" r="5.9" fill="#E64B35" stroke="#000" stroke-width="2"/>
<circle cx="929.0" cy="129.8" r="5.9" fill="#4DBBD5" stroke="#000" stroke-width="2"/>
<text x="938.5" y="106.8" font-size="20.5">Lys<tspan font-size="10.3" dy="-9.3">(UUU)</tspan><tspan dy="9.3" font-size="1">&#8203;</tspan></text>
<text x="938.5" y="136.9" font-size="20.5">Met<tspan font-size="10.3" dy="-8.2">(CAU)</tspan><tspan dy="8.2" font-size="1">&#8203;</tspan></text>
<text x="761.5" y="478.3" font-size="24">AriB<tspan font-size="12" dy="-12.1">E26A</tspan><tspan dy="12.1" font-size="1">&#8203;</tspan></text>
<text x="884.0" y="478.3" font-size="24" text-anchor="middle">wt</text>
<text x="835.5" y="502.9" font-size="24.8" text-anchor="middle" font-weight="bold">PARIS system</text>
<text transform="translate(739.5,400.0) rotate(-90)" font-size="24">mean (n =3 ) CPM,  ×10<tspan font-size="13" dy="-9">4</tspan><tspan dy="9" font-size="1">&#8203;</tspan></text>
<text x="1007.0" y="24.6" font-size="32" font-weight="bold">g</text>
<text x="1180.5" y="43.4" font-size="24" textLength="98.0" lengthAdjust="spacingAndGlyphs"><tspan font-style="italic">Ror</tspan>Slfn5</text>
<text x="1297.5" y="43.4" font-size="24" textLength="98.0" lengthAdjust="spacingAndGlyphs"><tspan font-style="italic">Ror</tspan>Slfn5</text>
<text x="1395.2" y="31.1" font-size="11.8">dead</text>
<line x1="1177.0" y1="47.3" x2="1281.5" y2="47.3" stroke="#000" stroke-width="2.2" />
<line x1="1294.8" y1="47.3" x2="1404.7" y2="47.3" stroke="#000" stroke-width="2.2" />
<text x="1092.0" y="72.2" font-size="24" text-anchor="middle">L</text>
<text x="1140.2" y="72.2" font-size="24" text-anchor="middle">uninf</text>
<text x="1188.3" y="72.2" font-size="24" text-anchor="middle">1</text>
<text x="1227.6" y="72.2" font-size="24" text-anchor="middle">2</text>
<text x="1267.5" y="72.2" font-size="24" text-anchor="middle">3</text>
<text x="1307.5" y="72.2" font-size="24" text-anchor="middle">1</text>
<text x="1349.2" y="72.2" font-size="24" text-anchor="middle">2</text>
<text x="1386.3" y="72.2" font-size="24" text-anchor="middle">3</text>
<text x="1072.5" y="182.5" font-size="24" text-anchor="end">4,000-</text>
<text x="1072.5" y="263.0" font-size="24" text-anchor="end">2,000-</text>
<text x="1072.5" y="320.3" font-size="24" text-anchor="end">1,000-</text>
<text x="1069.0" y="373.2" font-size="24" text-anchor="end">500-</text>
<text x="1069.0" y="417.8" font-size="24" text-anchor="end">200-</text>
<text x="1069.0" y="477.7" font-size="24" text-anchor="end">25-</text>
<text x="1048.0" y="496.0" font-size="24" text-anchor="middle">nt</text>
<rect x="1072.0" y="77.0" width="40.5" height="399.5" fill="url(#g9)"/>
<rect x="1120.5" y="77.0" width="40.5" height="399.5" fill="url(#g10)"/>
<rect x="1167.5" y="77.0" width="40.1" height="399.5" fill="url(#g11)"/>
<rect x="1207.6" y="77.0" width="40.5" height="399.5" fill="url(#g12)"/>
<rect x="1248.1" y="77.0" width="39.7" height="399.5" fill="url(#g13)"/>
<rect x="1287.8" y="77.0" width="40.1" height="399.5" fill="url(#g14)"/>
<rect x="1327.9" y="77.0" width="40.2" height="399.5" fill="url(#g15)"/>
<rect x="1368.1" y="77.0" width="41.9" height="399.5" fill="url(#g16)"/>
<line x1="1207.6" y1="77.0" x2="1207.6" y2="476.5" stroke="#fff" stroke-width="1.7" />
<line x1="1248.1" y1="77.0" x2="1248.1" y2="476.5" stroke="#fff" stroke-width="1.7" />
<line x1="1287.8" y1="77.0" x2="1287.8" y2="476.5" stroke="#fff" stroke-width="1.7" />
<line x1="1327.9" y1="77.0" x2="1327.9" y2="476.5" stroke="#fff" stroke-width="1.7" />
<line x1="1368.1" y1="77.0" x2="1368.1" y2="476.5" stroke="#fff" stroke-width="1.7" />
<line x1="1119.4" y1="476.6" x2="1162.2" y2="476.6" stroke="#062606" stroke-width="2.4" />
<line x1="1166.4" y1="476.6" x2="1410.8" y2="476.6" stroke="#062606" stroke-width="2.4" />
<rect x="1072.2" y="77.0" width="40.6" height="399.8" fill="none" stroke="#000" stroke-width="2.4" />
<line x1="1120.6" y1="75.8" x2="1120.6" y2="478.0" stroke="#000" stroke-width="2.4" />
<line x1="1161.0" y1="75.8" x2="1161.0" y2="478.0" stroke="#000" stroke-width="2.4" />
<line x1="1119.4" y1="77.0" x2="1162.2" y2="77.0" stroke="#000" stroke-width="2.4" />
<line x1="1167.6" y1="75.8" x2="1167.6" y2="478.0" stroke="#000" stroke-width="2.4" />
<line x1="1409.6" y1="75.8" x2="1409.6" y2="478.0" stroke="#000" stroke-width="2.4" />
<line x1="1166.4" y1="77.0" x2="1410.8" y2="77.0" stroke="#000" stroke-width="2.4" />
<line x1="1410.5" y1="235.2" x2="1415.5" y2="235.2" stroke="#000" stroke-width="2" />
<text x="1415.6" y="240.7" font-size="20.5">23S</text>
<line x1="1410.5" y1="284.2" x2="1415.5" y2="284.2" stroke="#000" stroke-width="2" />
<text x="1415.6" y="289.7" font-size="20.5">16S</text>
<line x1="1410.5" y1="430.3" x2="1415.5" y2="430.3" stroke="#000" stroke-width="2" />
<text x="1415.6" y="434.7" font-size="20.5">5S</text>
<line x1="1410.5" y1="446.2" x2="1415.5" y2="446.2" stroke="#000" stroke-width="2" />
<text x="1415.6" y="456.0" font-size="20.5">tRNA</text>
<text x="1480.0" y="24.7" font-size="32" font-weight="bold">h</text>
<text x="1792.9" y="73.4" font-size="24.8" text-anchor="middle" font-weight="bold">tRNA internal 3'-end abundance</text>
<line x1="1552.0" y1="176.8" x2="2034.0" y2="176.8" stroke="#b3b3b3" stroke-width="2.2" stroke-dasharray="11.2 8.65" stroke-dashoffset="0.8"/>
<line x1="1775.2" y1="380.0" x2="1775.2" y2="85.0" stroke="#b3b3b3" stroke-width="2.2" stroke-dasharray="11.2 8.84" stroke-dashoffset="2.3"/>
<line x1="1810.2" y1="380.0" x2="1810.2" y2="85.0" stroke="#b3b3b3" stroke-width="2.2" stroke-dasharray="11.2 8.84" stroke-dashoffset="2.3"/>
<rect x="1551.0" y="83.8" width="483.7" height="296.6" fill="none" stroke="#000" stroke-width="2" />
<line x1="1544.3" y1="147.5" x2="1551.0" y2="147.5" stroke="#000" stroke-width="2" />
<text x="1540.3" y="155.9" font-size="24" text-anchor="end">1.5</text>
<line x1="1544.3" y1="220.7" x2="1551.0" y2="220.7" stroke="#000" stroke-width="2" />
<text x="1540.3" y="229.1" font-size="24" text-anchor="end">1.0</text>
<line x1="1544.3" y1="293.9" x2="1551.0" y2="293.9" stroke="#000" stroke-width="2" />
<text x="1540.3" y="302.2" font-size="24" text-anchor="end">0.5</text>
<line x1="1544.3" y1="367.0" x2="1551.0" y2="367.0" stroke="#000" stroke-width="2" />
<text x="1540.3" y="375.4" font-size="24" text-anchor="end">0.0</text>
<line x1="1582.0" y1="380.4" x2="1582.0" y2="386.6" stroke="#000" stroke-width="2" />
<text x="1579.0" y="406.8" font-size="24" text-anchor="middle">-12</text>
<line x1="1652.0" y1="380.4" x2="1652.0" y2="386.6" stroke="#000" stroke-width="2" />
<text x="1649.0" y="406.8" font-size="24" text-anchor="middle">-8</text>
<line x1="1722.1" y1="380.4" x2="1722.1" y2="386.6" stroke="#000" stroke-width="2" />
<text x="1719.1" y="406.8" font-size="24" text-anchor="middle">-4</text>
<line x1="1774.7" y1="380.4" x2="1774.7" y2="386.6" stroke="#000" stroke-width="2" />
<text x="1770.4" y="406.8" font-size="24" text-anchor="middle">-1</text>
<line x1="1792.2" y1="380.4" x2="1792.2" y2="386.6" stroke="#000" stroke-width="2" />
<text x="1794.2" y="406.8" font-size="24" text-anchor="middle">0</text>
<line x1="1809.7" y1="380.4" x2="1809.7" y2="386.6" stroke="#000" stroke-width="2" />
<text x="1810.9" y="406.8" font-size="24" text-anchor="middle">1</text>
<line x1="1862.3" y1="380.4" x2="1862.3" y2="386.6" stroke="#000" stroke-width="2" />
<text x="1862.3" y="406.8" font-size="24" text-anchor="middle">4</text>
<line x1="1932.4" y1="380.4" x2="1932.4" y2="386.6" stroke="#000" stroke-width="2" />
<text x="1932.4" y="406.8" font-size="24" text-anchor="middle">8</text>
<line x1="2002.4" y1="380.4" x2="2002.4" y2="386.6" stroke="#000" stroke-width="2" />
<text x="2002.4" y="406.8" font-size="24" text-anchor="middle">12</text>
<text x="1558.0" y="167.1" font-size="24" textLength="128.0" lengthAdjust="spacingAndGlyphs">FDR &lt; 0.05</text>
<text transform="translate(1499.6,295.4) rotate(-90)" font-size="24">–log<tspan font-size="12.5" dy="3.5">10</tspan><tspan dy="-3.5">(FDR)</tspan></text>
<text x="1556.5" y="442.2" font-size="24" textLength="473.0" lengthAdjust="spacingAndGlyphs"><tspan font-style="italic">Ror</tspan>Slfn5 vs. <tspan font-style="italic">Ror</tspan>Slffn5<tspan font-size="11.8" dy="-12">dead</tspan><tspan dy="12">, log</tspan><tspan font-size="12.5" dy="6">2</tspan><tspan dy="-6">(fold change)</tspan></text>
<circle cx="1699.3" cy="182.9" r="4.1" fill="#000"/>
<circle cx="1709.0" cy="197.7" r="4.1" fill="#000"/>
<circle cx="1696.9" cy="207.0" r="4.1" fill="#000"/>
<circle cx="1763.2" cy="272.6" r="4.1" fill="#000"/>
<circle cx="1696.9" cy="290.6" r="4.1" fill="#000"/>
<circle cx="1884.0" cy="185.3" r="4.1" fill="#000"/>
<circle cx="1893.2" cy="184.5" r="4.1" fill="#000"/>
<circle cx="1899.3" cy="191.3" r="4.1" fill="#000"/>
<circle cx="1939.9" cy="185.0" r="4.1" fill="#000"/>
<circle cx="1943.5" cy="196.0" r="4.1" fill="#000"/>
<circle cx="1927.2" cy="204.0" r="4.1" fill="#000"/>
<circle cx="1931.4" cy="208.3" r="4.1" fill="#000"/>
<circle cx="1890.0" cy="213.2" r="4.1" fill="#000"/>
<circle cx="1911.2" cy="215.4" r="4.1" fill="#000"/>
<circle cx="1887.6" cy="221.5" r="4.1" fill="#000"/>
<circle cx="1884.0" cy="228.3" r="4.1" fill="#000"/>
<circle cx="1905.4" cy="228.3" r="4.1" fill="#000"/>
<circle cx="1901.0" cy="254.0" r="4.1" fill="#000"/>
<circle cx="1904.9" cy="272.5" r="4.1" fill="#000"/>
<circle cx="1947.2" cy="282.2" r="4.1" fill="#000"/>
<circle cx="1950.3" cy="282.2" r="4.1" fill="#000"/>
<circle cx="1933.3" cy="299.7" r="4.1" fill="#000"/>
<circle cx="1937.9" cy="303.6" r="4.1" fill="#000"/>
<circle cx="1894.9" cy="308.0" r="4.1" fill="#000"/>
<circle cx="1891.3" cy="310.4" r="4.1" fill="#000"/>
<circle cx="1760.0" cy="330.5" r="4.1" fill="#000"/>
<circle cx="1762.5" cy="335.0" r="4.1" fill="#000"/>
<circle cx="1766.0" cy="335.4" r="4.1" fill="#000"/>
<circle cx="1764.9" cy="330.4" r="4.1" fill="#000"/>
<circle cx="1769.8" cy="342.6" r="4.1" fill="#000"/>
<circle cx="1775.6" cy="354.1" r="4.1" fill="#000"/>
<circle cx="1780.8" cy="361.8" r="4.1" fill="#000"/>
<circle cx="1785.6" cy="365.0" r="4.1" fill="#000"/>
<circle cx="1789.2" cy="366.8" r="4.1" fill="#000"/>
<circle cx="1792.8" cy="368.0" r="4.1" fill="#000"/>
<circle cx="1796.5" cy="366.8" r="4.1" fill="#000"/>
<circle cx="1800.1" cy="364.4" r="4.1" fill="#000"/>
<circle cx="1803.8" cy="361.5" r="4.1" fill="#000"/>
<circle cx="1806.2" cy="359.0" r="4.1" fill="#000"/>
<circle cx="1808.6" cy="356.4" r="4.1" fill="#000"/>
<circle cx="1788.6" cy="345.5" r="4.1" fill="#000"/>
<circle cx="1790.9" cy="354.2" r="4.1" fill="#000"/>
<circle cx="1790.9" cy="359.8" r="4.1" fill="#000"/>
<circle cx="1783.0" cy="363.8" r="4.1" fill="#000"/>
<circle cx="1787.5" cy="366.2" r="4.1" fill="#000"/>
<circle cx="1794.6" cy="367.5" r="4.1" fill="#000"/>
<circle cx="1798.3" cy="365.7" r="4.1" fill="#000"/>
<circle cx="1825.6" cy="330.4" r="4.1" fill="#000"/>
<circle cx="1824.4" cy="335.2" r="4.1" fill="#000"/>
<circle cx="1819.6" cy="341.3" r="4.1" fill="#000"/>
<circle cx="1822.0" cy="330.0" r="4.1" fill="#000"/>
<circle cx="1827.5" cy="334.0" r="4.1" fill="#000"/>
<circle cx="1821.0" cy="336.5" r="4.1" fill="#000"/>
<circle cx="1760.2" cy="332.0" r="4.1" fill="#000"/>
<circle cx="1763.1" cy="335.8" r="4.1" fill="#000"/>
<circle cx="1765.9" cy="332.9" r="4.1" fill="#000"/>
<circle cx="1767.8" cy="337.6" r="4.1" fill="#000"/>
<circle cx="1769.6" cy="341.4" r="4.1" fill="#000"/>
<circle cx="1770.6" cy="344.2" r="4.1" fill="#000"/>
<circle cx="1764.9" cy="337.6" r="4.1" fill="#000"/>
<circle cx="1761.2" cy="336.7" r="4.1" fill="#000"/>
<circle cx="1817.6" cy="332.0" r="4.1" fill="#000"/>
<circle cx="1821.4" cy="331.1" r="4.1" fill="#000"/>
<circle cx="1825.2" cy="332.0" r="4.1" fill="#000"/>
<circle cx="1828.9" cy="331.1" r="4.1" fill="#000"/>
<circle cx="1818.6" cy="336.7" r="4.1" fill="#000"/>
<circle cx="1822.4" cy="335.8" r="4.1" fill="#000"/>
<circle cx="1827.1" cy="336.7" r="4.1" fill="#000"/>
<circle cx="1819.5" cy="341.4" r="4.1" fill="#000"/>
<circle cx="1820.5" cy="338.6" r="4.1" fill="#000"/>
<circle cx="1717.5" cy="324.9" r="4.1" fill="#000"/>
<circle cx="1720.6" cy="324.9" r="4.1" fill="#000"/>
<circle cx="1723.7" cy="324.9" r="4.1" fill="#000"/>
<circle cx="1726.8" cy="324.9" r="4.1" fill="#000"/>
<circle cx="1729.9" cy="324.9" r="4.1" fill="#000"/>
<circle cx="1733.0" cy="324.9" r="4.1" fill="#000"/>
<circle cx="1736.1" cy="324.9" r="4.1" fill="#000"/>
<circle cx="1739.2" cy="324.9" r="4.1" fill="#000"/>
<circle cx="1742.3" cy="324.9" r="4.1" fill="#000"/>
<circle cx="1745.4" cy="324.9" r="4.1" fill="#000"/>
<circle cx="1748.5" cy="324.9" r="4.1" fill="#000"/>
<circle cx="1751.6" cy="324.9" r="4.1" fill="#000"/>
<circle cx="1754.7" cy="324.9" r="4.1" fill="#000"/>
<circle cx="1757.8" cy="324.9" r="4.1" fill="#000"/>
<circle cx="1760.9" cy="324.9" r="4.1" fill="#000"/>
<circle cx="1764.0" cy="324.9" r="4.1" fill="#000"/>
<circle cx="1767.1" cy="324.9" r="4.1" fill="#000"/>
<circle cx="1778.3" cy="324.9" r="4.1" fill="#000"/>
<circle cx="1783.2" cy="324.9" r="4.1" fill="#000"/>
<circle cx="1799.5" cy="324.9" r="4.1" fill="#000"/>
<circle cx="1808.6" cy="324.9" r="4.1" fill="#000"/>
<circle cx="1812.3" cy="324.9" r="4.1" fill="#000"/>
<circle cx="1873.0" cy="324.9" r="4.1" fill="#000"/>
<circle cx="1879.1" cy="324.9" r="4.1" fill="#000"/>
<circle cx="1886.4" cy="324.9" r="4.1" fill="#000"/>
<circle cx="1891.3" cy="324.9" r="4.1" fill="#000"/>
<circle cx="1817.0" cy="324.9" r="4.1" fill="#000"/>
<circle cx="1820.4" cy="324.9" r="4.1" fill="#000"/>
<circle cx="1823.8" cy="324.9" r="4.1" fill="#000"/>
<circle cx="1827.2" cy="324.9" r="4.1" fill="#000"/>
<circle cx="1830.6" cy="324.9" r="4.1" fill="#000"/>
<circle cx="1834.0" cy="324.9" r="4.1" fill="#000"/>
<circle cx="1837.4" cy="324.9" r="4.1" fill="#000"/>
<circle cx="1840.8" cy="324.9" r="4.1" fill="#000"/>
<circle cx="1844.2" cy="324.9" r="4.1" fill="#000"/>
<circle cx="1847.6" cy="324.9" r="4.1" fill="#000"/>
<circle cx="1851.0" cy="324.9" r="4.1" fill="#000"/>
<circle cx="1854.4" cy="324.9" r="4.1" fill="#000"/>
<circle cx="1857.8" cy="324.9" r="4.1" fill="#000"/>
<circle cx="1861.2" cy="324.9" r="4.1" fill="#000"/>
<circle cx="1864.6" cy="324.9" r="4.1" fill="#000"/>
<circle cx="1897.3" cy="143.2" r="5.7" fill="#DC0000" stroke="#000" stroke-width="2.1"/>
<circle cx="1890.0" cy="143.2" r="5.7" fill="#7E6148" stroke="#000" stroke-width="2.1"/>
<circle cx="1905.1" cy="143.2" r="5.7" fill="#B09C85" stroke="#000" stroke-width="2.1"/>
<circle cx="1944.7" cy="143.2" r="5.7" fill="#3C5488" stroke="#000" stroke-width="2.1"/>
<circle cx="1925.3" cy="143.2" r="5.7" fill="#3C5488" stroke="#000" stroke-width="2.1"/>
<circle cx="1939.9" cy="143.2" r="5.7" fill="#7E6148" stroke="#000" stroke-width="2.1"/>
<circle cx="1930.2" cy="143.2" r="5.7" fill="#7E6148" stroke="#000" stroke-width="2.1"/>
<circle cx="1982.4" cy="143.2" r="5.7" fill="#8491B4" stroke="#000" stroke-width="2.1"/>
<circle cx="1992.9" cy="143.2" r="5.7" fill="#7E6148" stroke="#000" stroke-width="2.1"/>
<circle cx="2005.0" cy="143.2" r="5.7" fill="#F39B7F" stroke="#000" stroke-width="2.1"/>
<circle cx="1830.5" cy="157.3" r="5.7" fill="#00A087" stroke="#000" stroke-width="2.1"/>
<circle cx="1905.8" cy="157.3" r="5.7" fill="#000" stroke="#000" stroke-width="2.1"/>
<circle cx="1908.8" cy="157.3" r="5.7" fill="#DC0000" stroke="#000" stroke-width="2.1"/>
<circle cx="1936.2" cy="161.9" r="5.7" fill="#4DBBD5" stroke="#000" stroke-width="2.1"/>
<circle cx="1929.4" cy="157.3" r="5.7" fill="#3C5488" stroke="#000" stroke-width="2.1"/>
<circle cx="1934.5" cy="157.3" r="5.7" fill="#F39B7F" stroke="#000" stroke-width="2.1"/>
<circle cx="1958.1" cy="157.3" r="5.7" fill="#E64B35" stroke="#000" stroke-width="2.1"/>
<circle cx="1944.7" cy="121.8" r="5.7" fill="#F39B7F" stroke="#000" stroke-width="2.1"/>
<circle cx="1955.7" cy="97.0" r="5.7" fill="#F39B7F" stroke="#000" stroke-width="2.1"/>
<circle cx="2053.5" cy="96.0" r="5.7" fill="#E64B35" stroke="#000" stroke-width="2.1"/>
<text x="2069.6" y="103.0" font-size="24">Ala<tspan font-size="12" dy="-10.1">(UGC)</tspan><tspan dy="10.1" font-size="1">&#8203;</tspan></text>
<circle cx="2053.5" cy="124.4" r="5.7" fill="#4DBBD5" stroke="#000" stroke-width="2.1"/>
<text x="2069.6" y="132.0" font-size="24">Cys<tspan font-size="12" dy="-10.1">(GCA)</tspan><tspan dy="10.1" font-size="1">&#8203;</tspan></text>
<circle cx="2053.5" cy="156.2" r="5.7" fill="#00A087" stroke="#000" stroke-width="2.1"/>
<text x="2069.6" y="163.2" font-size="24">Gly<tspan font-size="12" dy="-10.1">(UCC)</tspan><tspan dy="10.1" font-size="1">&#8203;</tspan></text>
<circle cx="2053.5" cy="188.5" r="5.7" fill="#3C5488" stroke="#000" stroke-width="2.1"/>
<text x="2069.6" y="196.2" font-size="24">Ile<tspan font-size="12" dy="-10.1">(CAU)</tspan><tspan dy="10.1" font-size="1">&#8203;</tspan></text>
<circle cx="2053.5" cy="216.7" r="5.7" fill="#F39B7F" stroke="#000" stroke-width="2.1"/>
<text x="2069.6" y="224.3" font-size="24">Lys<tspan font-size="12" dy="-10.1">(UUU)</tspan><tspan dy="10.1" font-size="1">&#8203;</tspan></text>
<circle cx="2053.5" cy="249.3" r="5.7" fill="#8491B4" stroke="#000" stroke-width="2.1"/>
<text x="2069.6" y="256.4" font-size="24">Met<tspan font-size="12" dy="-10.1">(CAU)</tspan><tspan dy="10.1" font-size="1">&#8203;</tspan></text>
<circle cx="2053.5" cy="277.8" r="5.7" fill="#91D1C2" stroke="#000" stroke-width="2.1"/>
<text x="2069.6" y="284.5" font-size="24">Phe<tspan font-size="12" dy="-10.1">(GAA)</tspan><tspan dy="10.1" font-size="1">&#8203;</tspan></text>
<circle cx="2053.5" cy="305.3" r="5.7" fill="#DC0000" stroke="#000" stroke-width="2.1"/>
<text x="2069.6" y="312.3" font-size="24">Val<tspan font-size="12" dy="-10.1">(UAC)</tspan><tspan dy="10.1" font-size="1">&#8203;</tspan></text>
<circle cx="2053.5" cy="329.7" r="5.7" fill="#7E6148" stroke="#000" stroke-width="2.1"/>
<text x="2069.6" y="335.8" font-size="24">phage</text>
<text x="2069.6" y="365.8" font-size="24">Ala<tspan font-size="12" dy="-10.1">(UGC)</tspan><tspan dy="10.1" font-size="1">&#8203;</tspan></text>
<circle cx="2053.5" cy="383.2" r="5.7" fill="#B09C85" stroke="#000" stroke-width="2.1"/>
<text x="2069.6" y="390.2" font-size="24">phage</text>
<text x="2069.6" y="419.2" font-size="24">Val<tspan font-size="12" dy="-10.1">(UAC)</tspan><tspan dy="10.1" font-size="1">&#8203;</tspan></text>
<text x="-1.0" y="548.1" font-size="32" font-weight="bold">d</text>
<rect x="215.9" y="711.2" width="4.9" height="13.3" fill="#e41a1c" stroke="#000" stroke-width="2" />
<rect x="226.1" y="714.3" width="4.9" height="10.2" fill="#e41a1c" stroke="#000" stroke-width="2" />
<rect x="231.1" y="672.2" width="4.9" height="52.3" fill="#e41a1c" stroke="#000" stroke-width="2" />
<rect x="236.2" y="591.2" width="4.9" height="133.3" fill="#e41a1c" stroke="#000" stroke-width="2" />
<rect x="241.3" y="709.2" width="4.9" height="15.3" fill="#e41a1c" stroke="#000" stroke-width="2" />
<rect x="246.3" y="721.1" width="4.9" height="3.4" fill="#e41a1c" stroke="#000" stroke-width="2" />
<rect x="251.4" y="722.6" width="4.9" height="1.9" fill="#e41a1c" stroke="#000" stroke-width="2" />
<rect x="256.5" y="723.9" width="4.9" height="0.6" fill="#e41a1c" stroke="#000" stroke-width="2" />
<rect x="266.6" y="723.3" width="4.9" height="1.2" fill="#e41a1c" stroke="#000" stroke-width="2" />
<rect x="271.7" y="723.5" width="4.9" height="1.0" fill="#e41a1c" stroke="#000" stroke-width="2" />
<rect x="276.8" y="724.1" width="4.9" height="0.4" fill="#e41a1c" stroke="#000" stroke-width="2" />
<rect x="221.0" y="724.3" width="4.9" height="0.2" fill="#e41a1c" stroke="#000" stroke-width="2" />
<rect x="210.8" y="724.5" width="4.9" height="0.0" fill="#e41a1c" stroke="#000" stroke-width="2" />
<rect x="155.1" y="724.3" width="4.9" height="0.2" fill="#e41a1c" stroke="#000" stroke-width="2" />
<rect x="185.5" y="724.3" width="4.9" height="0.2" fill="#e41a1c" stroke="#000" stroke-width="2" />
<rect x="190.6" y="724.5" width="4.9" height="0.0" fill="#e41a1c" stroke="#000" stroke-width="2" />
<rect x="200.7" y="724.3" width="4.9" height="0.2" fill="#e41a1c" stroke="#000" stroke-width="2" />
<rect x="205.8" y="724.3" width="4.9" height="0.2" fill="#e41a1c" stroke="#000" stroke-width="2" />
<rect x="261.5" y="724.3" width="4.9" height="0.2" fill="#e41a1c" stroke="#000" stroke-width="2" />
<rect x="281.8" y="724.5" width="4.9" height="0.0" fill="#e41a1c" stroke="#000" stroke-width="2" />
<rect x="286.9" y="724.5" width="4.9" height="0.0" fill="#e41a1c" stroke="#000" stroke-width="2" />
<rect x="292.0" y="724.5" width="4.9" height="0.0" fill="#e41a1c" stroke="#000" stroke-width="2" />
<rect x="469.4" y="681.4" width="4.9" height="43.1" fill="#e41a1c" stroke="#000" stroke-width="2" />
<rect x="464.3" y="724.3" width="4.9" height="0.2" fill="#e41a1c" stroke="#000" stroke-width="2" />
<line x1="94.1" y1="724.1" x2="482.0" y2="724.1" stroke="#000" stroke-width="2.8" />
<rect x="89.2" y="574.6" width="406.4" height="149.9" fill="none" stroke="#000" stroke-width="2" />
<line x1="82.6" y1="574.6" x2="89.2" y2="574.6" stroke="#000" stroke-width="2" />
<text x="81.2" y="583.1" font-size="24" text-anchor="end">4K</text>
<line x1="82.6" y1="649.5" x2="89.2" y2="649.5" stroke="#000" stroke-width="2" />
<text x="81.2" y="658.0" font-size="24" text-anchor="end">2K</text>
<line x1="82.6" y1="724.5" x2="89.2" y2="724.5" stroke="#000" stroke-width="2" />
<text x="81.2" y="733.0" font-size="24" text-anchor="end">0K</text>
<line x1="91.6" y1="724.5" x2="91.6" y2="731.0" stroke="#000" stroke-width="2" />
<text x="91.6" y="751.6" font-size="24" text-anchor="middle">0</text>
<line x1="193.0" y1="724.5" x2="193.0" y2="731.0" stroke="#000" stroke-width="2" />
<text x="193.0" y="751.6" font-size="24" text-anchor="middle">20</text>
<line x1="294.4" y1="724.5" x2="294.4" y2="731.0" stroke="#000" stroke-width="2" />
<text x="294.4" y="751.6" font-size="24" text-anchor="middle">40</text>
<line x1="395.8" y1="724.5" x2="395.8" y2="731.0" stroke="#000" stroke-width="2" />
<text x="395.8" y="751.6" font-size="24" text-anchor="middle">60</text>
<line x1="497.2" y1="724.5" x2="497.2" y2="731.0" stroke="#000" stroke-width="2" />
<text x="497.2" y="751.6" font-size="24" text-anchor="middle">80</text>
<line x1="482.0" y1="724.5" x2="482.0" y2="729.5" stroke="#000" stroke-width="2" />
<text transform="translate(34.7,675.0) rotate(-90)" font-size="23.4">CPM</text>
<text x="132.1" y="561.7" font-size="24.8" font-weight="bold" textLength="174.2" lengthAdjust="spacingAndGlyphs">mapping tRNA</text>
<text x="307.4" y="549.7" font-size="12.3" font-weight="bold">Lys(UUU)</text>
<text x="369.6" y="561.7" font-size="24.8" font-weight="bold" textLength="85.3" lengthAdjust="spacingAndGlyphs">3' ends</text>
<text x="294.0" y="774.6" font-size="24.5" text-anchor="middle">position, nt</text>
<rect x="396.1" y="596.0" width="9.8" height="9.8" fill="#e41a1c" stroke="#000" stroke-width="1.6" />
<text x="408.0" y="608.6" font-size="24">PARIS</text>
<rect x="661.5" y="723.6" width="6.3" height="0.9" fill="#000" />
<rect x="691.9" y="722.4" width="6.3" height="2.1" fill="#000" />
<rect x="696.9" y="723.6" width="6.3" height="0.9" fill="#000" />
<rect x="722.2" y="720.0" width="6.3" height="4.5" fill="#000" />
<rect x="727.3" y="723.4" width="6.3" height="1.1" fill="#000" />
<rect x="732.3" y="722.6" width="6.3" height="1.9" fill="#000" />
<rect x="737.4" y="719.4" width="6.3" height="5.1" fill="#000" />
<rect x="742.5" y="710.1" width="6.3" height="14.4" fill="#000" />
<rect x="747.5" y="720.4" width="6.3" height="4.1" fill="#000" />
<rect x="752.6" y="723.2" width="6.3" height="1.3" fill="#000" />
<rect x="757.6" y="723.4" width="6.3" height="1.1" fill="#000" />
<rect x="762.7" y="723.6" width="6.3" height="0.9" fill="#000" />
<rect x="798.1" y="723.6" width="6.3" height="0.9" fill="#000" />
<rect x="970.2" y="723.8" width="6.3" height="0.8" fill="#000" />
<rect x="975.7" y="615.4" width="6.3" height="109.1" fill="#000" />
<rect x="980.8" y="723.4" width="6.3" height="1.1" fill="#000" />
<line x1="596.3" y1="724.1" x2="983.4" y2="724.1" stroke="#000" stroke-width="2.8" />
<rect x="597.3" y="574.5" width="405.4" height="150.0" fill="none" stroke="#000" stroke-width="2" />
<line x1="590.4" y1="574.5" x2="597.3" y2="574.5" stroke="#000" stroke-width="2" />
<text x="581.8" y="583.0" font-size="24" text-anchor="end">4K</text>
<line x1="590.4" y1="649.5" x2="597.3" y2="649.5" stroke="#000" stroke-width="2" />
<text x="581.8" y="658.0" font-size="24" text-anchor="end">2K</text>
<line x1="590.4" y1="724.5" x2="597.3" y2="724.5" stroke="#000" stroke-width="2" />
<text x="581.8" y="733.0" font-size="24" text-anchor="end">0K</text>
<line x1="593.8" y1="724.5" x2="593.8" y2="731.0" stroke="#000" stroke-width="2" />
<text x="593.8" y="751.6" font-size="24" text-anchor="middle">0</text>
<line x1="695.0" y1="724.5" x2="695.0" y2="731.0" stroke="#000" stroke-width="2" />
<text x="695.0" y="751.6" font-size="24" text-anchor="middle">20</text>
<line x1="796.2" y1="724.5" x2="796.2" y2="731.0" stroke="#000" stroke-width="2" />
<text x="796.2" y="751.6" font-size="24" text-anchor="middle">40</text>
<line x1="897.4" y1="724.5" x2="897.4" y2="731.0" stroke="#000" stroke-width="2" />
<text x="897.4" y="751.6" font-size="24" text-anchor="middle">60</text>
<line x1="998.6" y1="724.5" x2="998.6" y2="731.0" stroke="#000" stroke-width="2" />
<text x="998.6" y="751.6" font-size="24" text-anchor="middle">80</text>
<text transform="translate(543.9,675.0) rotate(-90)" font-size="23.4">CPM</text>
<text x="634.1" y="561.3" font-size="24.8" font-weight="bold" textLength="174.2" lengthAdjust="spacingAndGlyphs">mapping tRNA</text>
<text x="809.4" y="549.3" font-size="12.3" font-weight="bold">Lys(UUU)</text>
<text x="871.6" y="561.3" font-size="24.8" font-weight="bold" textLength="85.3" lengthAdjust="spacingAndGlyphs">3' ends</text>
<text x="796.0" y="774.6" font-size="24.5" text-anchor="middle">position, nt</text>
<rect x="835.2" y="594.9" width="11.2" height="11.0" fill="#000" />
<text x="848.0" y="608.6" font-size="24">PARIS</text>
<text x="920.3" y="597.0" font-size="12.3">AriB(E26A)</text>
<text x="-1.0" y="806.7" font-size="32" font-weight="bold">e</text>
<rect x="97.3" y="823.1" width="4.9" height="144.7" fill="#e41a1c" stroke="#000" stroke-width="2" />
<rect x="102.3" y="916.5" width="4.9" height="51.3" fill="#e41a1c" stroke="#000" stroke-width="2" />
<rect x="107.4" y="956.7" width="4.9" height="11.1" fill="#e41a1c" stroke="#000" stroke-width="2" />
<rect x="112.5" y="956.7" width="4.9" height="11.1" fill="#e41a1c" stroke="#000" stroke-width="2" />
<rect x="117.6" y="966.3" width="4.9" height="1.5" fill="#e41a1c" stroke="#000" stroke-width="2" />
<rect x="122.6" y="966.6" width="4.9" height="1.2" fill="#e41a1c" stroke="#000" stroke-width="2" />
<rect x="127.7" y="963.4" width="4.9" height="4.4" fill="#e41a1c" stroke="#000" stroke-width="2" />
<rect x="132.8" y="966.6" width="4.9" height="1.2" fill="#e41a1c" stroke="#000" stroke-width="2" />
<rect x="300.1" y="959.9" width="4.9" height="7.9" fill="#e41a1c" stroke="#000" stroke-width="2" />
<rect x="305.1" y="966.6" width="4.9" height="1.2" fill="#e41a1c" stroke="#000" stroke-width="2" />
<rect x="295.0" y="967.0" width="4.9" height="0.8" fill="#e41a1c" stroke="#000" stroke-width="2" />
<rect x="137.8" y="967.5" width="4.9" height="0.3" fill="#e41a1c" stroke="#000" stroke-width="2" />
<rect x="142.9" y="967.5" width="4.9" height="0.3" fill="#e41a1c" stroke="#000" stroke-width="2" />
<rect x="148.0" y="967.5" width="4.9" height="0.3" fill="#e41a1c" stroke="#000" stroke-width="2" />
<rect x="153.0" y="967.5" width="4.9" height="0.3" fill="#e41a1c" stroke="#000" stroke-width="2" />
<rect x="158.1" y="967.5" width="4.9" height="0.3" fill="#e41a1c" stroke="#000" stroke-width="2" />
<rect x="163.2" y="967.5" width="4.9" height="0.3" fill="#e41a1c" stroke="#000" stroke-width="2" />
<rect x="168.3" y="967.5" width="4.9" height="0.3" fill="#e41a1c" stroke="#000" stroke-width="2" />
<rect x="173.3" y="967.5" width="4.9" height="0.3" fill="#e41a1c" stroke="#000" stroke-width="2" />
<rect x="178.4" y="967.5" width="4.9" height="0.3" fill="#e41a1c" stroke="#000" stroke-width="2" />
<rect x="183.5" y="967.5" width="4.9" height="0.3" fill="#e41a1c" stroke="#000" stroke-width="2" />
<rect x="188.5" y="967.5" width="4.9" height="0.3" fill="#e41a1c" stroke="#000" stroke-width="2" />
<rect x="193.6" y="967.5" width="4.9" height="0.3" fill="#e41a1c" stroke="#000" stroke-width="2" />
<rect x="198.7" y="967.5" width="4.9" height="0.3" fill="#e41a1c" stroke="#000" stroke-width="2" />
<rect x="203.7" y="967.5" width="4.9" height="0.3" fill="#e41a1c" stroke="#000" stroke-width="2" />
<rect x="208.8" y="967.5" width="4.9" height="0.3" fill="#e41a1c" stroke="#000" stroke-width="2" />
<rect x="213.9" y="967.5" width="4.9" height="0.3" fill="#e41a1c" stroke="#000" stroke-width="2" />
<rect x="219.0" y="967.5" width="4.9" height="0.3" fill="#e41a1c" stroke="#000" stroke-width="2" />
<rect x="224.0" y="967.5" width="4.9" height="0.3" fill="#e41a1c" stroke="#000" stroke-width="2" />
<rect x="229.1" y="967.5" width="4.9" height="0.3" fill="#e41a1c" stroke="#000" stroke-width="2" />
<rect x="234.2" y="967.5" width="4.9" height="0.3" fill="#e41a1c" stroke="#000" stroke-width="2" />
<rect x="239.2" y="967.5" width="4.9" height="0.3" fill="#e41a1c" stroke="#000" stroke-width="2" />
<rect x="244.3" y="967.5" width="4.9" height="0.3" fill="#e41a1c" stroke="#000" stroke-width="2" />
<rect x="249.4" y="967.5" width="4.9" height="0.3" fill="#e41a1c" stroke="#000" stroke-width="2" />
<rect x="254.4" y="967.5" width="4.9" height="0.3" fill="#e41a1c" stroke="#000" stroke-width="2" />
<rect x="259.5" y="967.5" width="4.9" height="0.3" fill="#e41a1c" stroke="#000" stroke-width="2" />
<rect x="264.6" y="967.5" width="4.9" height="0.3" fill="#e41a1c" stroke="#000" stroke-width="2" />
<rect x="269.7" y="967.5" width="4.9" height="0.3" fill="#e41a1c" stroke="#000" stroke-width="2" />
<rect x="274.7" y="967.5" width="4.9" height="0.3" fill="#e41a1c" stroke="#000" stroke-width="2" />
<rect x="279.8" y="967.5" width="4.9" height="0.3" fill="#e41a1c" stroke="#000" stroke-width="2" />
<rect x="284.9" y="967.5" width="4.9" height="0.3" fill="#e41a1c" stroke="#000" stroke-width="2" />
<rect x="289.9" y="967.5" width="4.9" height="0.3" fill="#e41a1c" stroke="#000" stroke-width="2" />
<rect x="310.2" y="967.5" width="4.9" height="0.3" fill="#e41a1c" stroke="#000" stroke-width="2" />
<rect x="315.3" y="967.5" width="4.9" height="0.3" fill="#e41a1c" stroke="#000" stroke-width="2" />
<rect x="320.4" y="967.5" width="4.9" height="0.3" fill="#e41a1c" stroke="#000" stroke-width="2" />
<rect x="325.4" y="967.5" width="4.9" height="0.3" fill="#e41a1c" stroke="#000" stroke-width="2" />
<rect x="330.5" y="967.5" width="4.9" height="0.3" fill="#e41a1c" stroke="#000" stroke-width="2" />
<rect x="335.6" y="967.5" width="4.9" height="0.3" fill="#e41a1c" stroke="#000" stroke-width="2" />
<rect x="340.6" y="967.5" width="4.9" height="0.3" fill="#e41a1c" stroke="#000" stroke-width="2" />
<rect x="345.7" y="967.5" width="4.9" height="0.3" fill="#e41a1c" stroke="#000" stroke-width="2" />
<rect x="350.8" y="967.5" width="4.9" height="0.3" fill="#e41a1c" stroke="#000" stroke-width="2" />
<rect x="355.8" y="967.5" width="4.9" height="0.3" fill="#e41a1c" stroke="#000" stroke-width="2" />
<rect x="360.9" y="967.5" width="4.9" height="0.3" fill="#e41a1c" stroke="#000" stroke-width="2" />
<rect x="366.0" y="967.5" width="4.9" height="0.3" fill="#e41a1c" stroke="#000" stroke-width="2" />
<rect x="371.1" y="967.5" width="4.9" height="0.3" fill="#e41a1c" stroke="#000" stroke-width="2" />
<rect x="376.1" y="967.5" width="4.9" height="0.3" fill="#e41a1c" stroke="#000" stroke-width="2" />
<rect x="381.2" y="967.5" width="4.9" height="0.3" fill="#e41a1c" stroke="#000" stroke-width="2" />
<rect x="386.3" y="967.5" width="4.9" height="0.3" fill="#e41a1c" stroke="#000" stroke-width="2" />
<rect x="391.3" y="967.5" width="4.9" height="0.3" fill="#e41a1c" stroke="#000" stroke-width="2" />
<rect x="396.4" y="967.5" width="4.9" height="0.3" fill="#e41a1c" stroke="#000" stroke-width="2" />
<rect x="401.5" y="967.5" width="4.9" height="0.3" fill="#e41a1c" stroke="#000" stroke-width="2" />
<rect x="406.5" y="967.5" width="4.9" height="0.3" fill="#e41a1c" stroke="#000" stroke-width="2" />
<rect x="411.6" y="967.5" width="4.9" height="0.3" fill="#e41a1c" stroke="#000" stroke-width="2" />
<rect x="416.7" y="967.5" width="4.9" height="0.3" fill="#e41a1c" stroke="#000" stroke-width="2" />
<rect x="421.8" y="967.5" width="4.9" height="0.3" fill="#e41a1c" stroke="#000" stroke-width="2" />
<rect x="426.8" y="967.5" width="4.9" height="0.3" fill="#e41a1c" stroke="#000" stroke-width="2" />
<rect x="431.9" y="967.5" width="4.9" height="0.3" fill="#e41a1c" stroke="#000" stroke-width="2" />
<rect x="437.0" y="967.5" width="4.9" height="0.3" fill="#e41a1c" stroke="#000" stroke-width="2" />
<rect x="442.0" y="967.5" width="4.9" height="0.3" fill="#e41a1c" stroke="#000" stroke-width="2" />
<rect x="447.1" y="967.5" width="4.9" height="0.3" fill="#e41a1c" stroke="#000" stroke-width="2" />
<rect x="452.2" y="967.5" width="4.9" height="0.3" fill="#e41a1c" stroke="#000" stroke-width="2" />
<rect x="457.2" y="967.5" width="4.9" height="0.3" fill="#e41a1c" stroke="#000" stroke-width="2" />
<rect x="462.3" y="967.5" width="4.9" height="0.3" fill="#e41a1c" stroke="#000" stroke-width="2" />
<rect x="467.4" y="967.5" width="4.9" height="0.3" fill="#e41a1c" stroke="#000" stroke-width="2" />
<rect x="472.5" y="967.5" width="4.9" height="0.3" fill="#e41a1c" stroke="#000" stroke-width="2" />
<rect x="477.5" y="967.5" width="4.9" height="0.3" fill="#e41a1c" stroke="#000" stroke-width="2" />
<rect x="482.6" y="967.5" width="4.9" height="0.3" fill="#e41a1c" stroke="#000" stroke-width="2" />
<line x1="94.1" y1="967.4" x2="482.0" y2="967.4" stroke="#000" stroke-width="2.8" />
<rect x="92.2" y="818.3" width="405.0" height="149.5" fill="none" stroke="#000" stroke-width="2" />
<line x1="85.3" y1="818.3" x2="92.2" y2="818.3" stroke="#000" stroke-width="2" />
<text x="76.7" y="826.8" font-size="24" text-anchor="end">2K</text>
<line x1="85.3" y1="893.0" x2="92.2" y2="893.0" stroke="#000" stroke-width="2" />
<text x="76.7" y="901.5" font-size="24" text-anchor="end">1K</text>
<line x1="85.3" y1="967.8" x2="92.2" y2="967.8" stroke="#000" stroke-width="2" />
<text x="76.7" y="976.3" font-size="24" text-anchor="end">0K</text>
<line x1="91.6" y1="967.8" x2="91.6" y2="974.3" stroke="#000" stroke-width="2" />
<text x="91.6" y="994.6" font-size="24" text-anchor="middle">0</text>
<line x1="193.0" y1="967.8" x2="193.0" y2="974.3" stroke="#000" stroke-width="2" />
<text x="193.0" y="994.6" font-size="24" text-anchor="middle">20</text>
<line x1="294.4" y1="967.8" x2="294.4" y2="974.3" stroke="#000" stroke-width="2" />
<text x="294.4" y="994.6" font-size="24" text-anchor="middle">40</text>
<line x1="395.8" y1="967.8" x2="395.8" y2="974.3" stroke="#000" stroke-width="2" />
<text x="395.8" y="994.6" font-size="24" text-anchor="middle">60</text>
<line x1="497.2" y1="967.8" x2="497.2" y2="974.3" stroke="#000" stroke-width="2" />
<text x="497.2" y="994.6" font-size="24" text-anchor="middle">80</text>
<text transform="translate(29.9,919.0) rotate(-90)" font-size="23.4">CPM</text>
<text x="132.1" y="806.3" font-size="24.8" font-weight="bold" textLength="174.2" lengthAdjust="spacingAndGlyphs">mapping tRNA</text>
<text x="307.4" y="794.3" font-size="12.3" font-weight="bold">Lys(UUU)</text>
<text x="369.6" y="806.3" font-size="24.8" font-weight="bold" textLength="85.3" lengthAdjust="spacingAndGlyphs">5' ends</text>
<text x="294.0" y="1018.8" font-size="24.5" text-anchor="middle">position, nt</text>
<rect x="398.4" y="828.4" width="9.8" height="9.8" fill="#e41a1c" stroke="#000" stroke-width="1.6" />
<text x="410.0" y="841.3" font-size="24">PARIS</text>
<rect x="598.8" y="867.3" width="6.3" height="100.5" fill="#000" />
<rect x="603.8" y="934.2" width="6.3" height="33.6" fill="#000" />
<rect x="608.9" y="959.2" width="6.3" height="8.6" fill="#000" />
<rect x="613.9" y="961.7" width="6.3" height="6.1" fill="#000" />
<rect x="619.0" y="965.2" width="6.3" height="2.6" fill="#000" />
<rect x="624.1" y="965.6" width="6.3" height="2.2" fill="#000" />
<rect x="629.1" y="965.9" width="6.3" height="1.9" fill="#000" />
<rect x="634.2" y="966.2" width="6.3" height="1.6" fill="#000" />
<rect x="801.2" y="964.2" width="6.3" height="3.6" fill="#000" />
<rect x="806.2" y="966.2" width="6.3" height="1.6" fill="#000" />
<rect x="639.2" y="966.6" width="6.3" height="1.2" fill="#000" />
<rect x="644.3" y="966.6" width="6.3" height="1.2" fill="#000" />
<rect x="649.4" y="966.6" width="6.3" height="1.2" fill="#000" />
<rect x="654.4" y="966.6" width="6.3" height="1.2" fill="#000" />
<rect x="659.5" y="966.6" width="6.3" height="1.2" fill="#000" />
<rect x="664.5" y="966.6" width="6.3" height="1.2" fill="#000" />
<rect x="669.6" y="966.6" width="6.3" height="1.2" fill="#000" />
<rect x="674.7" y="966.6" width="6.3" height="1.2" fill="#000" />
<rect x="679.7" y="966.6" width="6.3" height="1.2" fill="#000" />
<rect x="684.8" y="966.6" width="6.3" height="1.2" fill="#000" />
<rect x="689.8" y="966.6" width="6.3" height="1.2" fill="#000" />
<rect x="694.9" y="966.6" width="6.3" height="1.2" fill="#000" />
<rect x="700.0" y="966.6" width="6.3" height="1.2" fill="#000" />
<rect x="705.0" y="966.6" width="6.3" height="1.2" fill="#000" />
<rect x="710.1" y="966.6" width="6.3" height="1.2" fill="#000" />
<rect x="715.1" y="966.6" width="6.3" height="1.2" fill="#000" />
<rect x="720.2" y="966.6" width="6.3" height="1.2" fill="#000" />
<rect x="725.3" y="966.6" width="6.3" height="1.2" fill="#000" />
<rect x="730.3" y="966.6" width="6.3" height="1.2" fill="#000" />
<rect x="735.4" y="966.6" width="6.3" height="1.2" fill="#000" />
<rect x="740.4" y="966.6" width="6.3" height="1.2" fill="#000" />
<rect x="745.5" y="966.6" width="6.3" height="1.2" fill="#000" />
<rect x="750.6" y="966.6" width="6.3" height="1.2" fill="#000" />
<rect x="755.6" y="966.6" width="6.3" height="1.2" fill="#000" />
<rect x="760.7" y="966.6" width="6.3" height="1.2" fill="#000" />
<rect x="765.7" y="966.6" width="6.3" height="1.2" fill="#000" />
<rect x="770.8" y="966.6" width="6.3" height="1.2" fill="#000" />
<rect x="775.9" y="966.6" width="6.3" height="1.2" fill="#000" />
<rect x="780.9" y="966.6" width="6.3" height="1.2" fill="#000" />
<rect x="786.0" y="966.6" width="6.3" height="1.2" fill="#000" />
<rect x="791.0" y="966.6" width="6.3" height="1.2" fill="#000" />
<rect x="796.1" y="966.6" width="6.3" height="1.2" fill="#000" />
<rect x="811.3" y="966.6" width="6.3" height="1.2" fill="#000" />
<rect x="816.3" y="966.6" width="6.3" height="1.2" fill="#000" />
<rect x="821.4" y="966.6" width="6.3" height="1.2" fill="#000" />
<rect x="826.5" y="966.6" width="6.3" height="1.2" fill="#000" />
<rect x="831.5" y="966.6" width="6.3" height="1.2" fill="#000" />
<rect x="836.6" y="966.6" width="6.3" height="1.2" fill="#000" />
<rect x="841.6" y="966.6" width="6.3" height="1.2" fill="#000" />
<rect x="846.7" y="966.6" width="6.3" height="1.2" fill="#000" />
<rect x="851.8" y="966.6" width="6.3" height="1.2" fill="#000" />
<rect x="856.8" y="966.6" width="6.3" height="1.2" fill="#000" />
<rect x="861.9" y="966.6" width="6.3" height="1.2" fill="#000" />
<rect x="866.9" y="966.6" width="6.3" height="1.2" fill="#000" />
<rect x="872.0" y="966.6" width="6.3" height="1.2" fill="#000" />
<rect x="877.1" y="966.6" width="6.3" height="1.2" fill="#000" />
<rect x="882.1" y="966.6" width="6.3" height="1.2" fill="#000" />
<rect x="887.2" y="966.6" width="6.3" height="1.2" fill="#000" />
<rect x="892.2" y="966.6" width="6.3" height="1.2" fill="#000" />
<rect x="897.3" y="966.6" width="6.3" height="1.2" fill="#000" />
<rect x="902.4" y="966.6" width="6.3" height="1.2" fill="#000" />
<rect x="907.4" y="966.6" width="6.3" height="1.2" fill="#000" />
<rect x="912.5" y="966.6" width="6.3" height="1.2" fill="#000" />
<rect x="917.5" y="966.6" width="6.3" height="1.2" fill="#000" />
<rect x="922.6" y="966.6" width="6.3" height="1.2" fill="#000" />
<rect x="927.7" y="966.6" width="6.3" height="1.2" fill="#000" />
<rect x="932.7" y="966.6" width="6.3" height="1.2" fill="#000" />
<rect x="937.8" y="966.6" width="6.3" height="1.2" fill="#000" />
<rect x="942.8" y="966.6" width="6.3" height="1.2" fill="#000" />
<rect x="947.9" y="966.6" width="6.3" height="1.2" fill="#000" />
<rect x="953.0" y="966.6" width="6.3" height="1.2" fill="#000" />
<rect x="958.0" y="966.6" width="6.3" height="1.2" fill="#000" />
<rect x="963.1" y="966.6" width="6.3" height="1.2" fill="#000" />
<rect x="968.1" y="966.6" width="6.3" height="1.2" fill="#000" />
<rect x="973.2" y="966.6" width="6.3" height="1.2" fill="#000" />
<rect x="978.3" y="966.6" width="6.3" height="1.2" fill="#000" />
<rect x="983.3" y="966.6" width="6.3" height="1.2" fill="#000" />
<line x1="596.3" y1="967.4" x2="983.4" y2="967.4" stroke="#000" stroke-width="2.8" />
<rect x="593.8" y="818.3" width="405.0" height="149.5" fill="none" stroke="#000" stroke-width="2" />
<line x1="587.3" y1="818.3" x2="593.8" y2="818.3" stroke="#000" stroke-width="2" />
<text x="578.7" y="826.8" font-size="24" text-anchor="end">2K</text>
<line x1="587.3" y1="893.0" x2="593.8" y2="893.0" stroke="#000" stroke-width="2" />
<text x="578.7" y="901.5" font-size="24" text-anchor="end">1K</text>
<line x1="587.3" y1="967.8" x2="593.8" y2="967.8" stroke="#000" stroke-width="2" />
<text x="578.7" y="976.3" font-size="24" text-anchor="end">0K</text>
<line x1="593.8" y1="967.8" x2="593.8" y2="974.3" stroke="#000" stroke-width="2" />
<text x="593.8" y="994.6" font-size="24" text-anchor="middle">0</text>
<line x1="695.0" y1="967.8" x2="695.0" y2="974.3" stroke="#000" stroke-width="2" />
<text x="695.0" y="994.6" font-size="24" text-anchor="middle">20</text>
<line x1="796.2" y1="967.8" x2="796.2" y2="974.3" stroke="#000" stroke-width="2" />
<text x="796.2" y="994.6" font-size="24" text-anchor="middle">40</text>
<line x1="897.4" y1="967.8" x2="897.4" y2="974.3" stroke="#000" stroke-width="2" />
<text x="897.4" y="994.6" font-size="24" text-anchor="middle">60</text>
<line x1="998.6" y1="967.8" x2="998.6" y2="974.3" stroke="#000" stroke-width="2" />
<text x="998.6" y="994.6" font-size="24" text-anchor="middle">80</text>
<text transform="translate(540.8,919.0) rotate(-90)" font-size="23.4">CPM</text>
<text x="634.1" y="806.3" font-size="24.8" font-weight="bold" textLength="174.2" lengthAdjust="spacingAndGlyphs">mapping tRNA</text>
<text x="809.4" y="794.3" font-size="12.3" font-weight="bold">Lys(UUU)</text>
<text x="871.6" y="806.3" font-size="24.8" font-weight="bold" textLength="85.3" lengthAdjust="spacingAndGlyphs">5' ends</text>
<text x="796.0" y="1018.8" font-size="24.5" text-anchor="middle">position, nt</text>
<rect x="843.2" y="830.5" width="11.2" height="11.0" fill="#000" />
<text x="855.0" y="844.8" font-size="24">PARIS</text>
<text x="927.3" y="833.2" font-size="12.3">AriB(E26A)</text>
<text x="1031.5" y="557.5" font-size="32" font-weight="bold">i</text>
<rect x="1281.4" y="619.3" width="4.8" height="115.1" fill="#e41a1c" stroke="#000" stroke-width="2" />
<rect x="1291.5" y="645.3" width="4.8" height="89.1" fill="#e41a1c" stroke="#000" stroke-width="2" />
<rect x="1296.6" y="724.1" width="4.8" height="10.3" fill="#e41a1c" stroke="#000" stroke-width="2" />
<rect x="1301.6" y="733.9" width="4.8" height="0.5" fill="#e41a1c" stroke="#000" stroke-width="2" />
<rect x="1508.2" y="656.8" width="4.8" height="77.6" fill="#e41a1c" stroke="#000" stroke-width="2" />
<line x1="1200.2" y1="733.9" x2="1207.8" y2="733.9" stroke="#000" stroke-width="2.6" />
<line x1="1220.4" y1="733.9" x2="1227.9" y2="733.9" stroke="#000" stroke-width="2.6" />
<line x1="1265.7" y1="733.9" x2="1273.3" y2="733.9" stroke="#000" stroke-width="2.6" />
<line x1="1301.0" y1="733.9" x2="1316.1" y2="733.9" stroke="#000" stroke-width="2.6" />
<line x1="1319.1" y1="733.9" x2="1324.2" y2="733.9" stroke="#000" stroke-width="2.6" />
<line x1="1327.2" y1="733.9" x2="1332.2" y2="733.9" stroke="#000" stroke-width="2.6" />
<line x1="1336.3" y1="733.9" x2="1342.3" y2="733.9" stroke="#000" stroke-width="2.6" />
<line x1="1346.4" y1="733.9" x2="1356.4" y2="733.9" stroke="#000" stroke-width="2.6" />
<line x1="1416.9" y1="733.9" x2="1424.5" y2="733.9" stroke="#000" stroke-width="2.6" />
<line x1="1457.2" y1="733.9" x2="1464.8" y2="733.9" stroke="#000" stroke-width="2.6" />
<line x1="1487.5" y1="733.9" x2="1502.6" y2="733.9" stroke="#000" stroke-width="2.6" />
<rect x="1124.6" y="584.7" width="405.0" height="149.7" fill="none" stroke="#000" stroke-width="2" />
<line x1="1117.9" y1="584.7" x2="1124.6" y2="584.7" stroke="#000" stroke-width="2" />
<text x="1109.3" y="593.2" font-size="24" text-anchor="end">3K</text>
<line x1="1117.9" y1="634.6" x2="1124.6" y2="634.6" stroke="#000" stroke-width="2" />
<text x="1109.3" y="643.1" font-size="24" text-anchor="end">2K</text>
<line x1="1117.9" y1="684.5" x2="1124.6" y2="684.5" stroke="#000" stroke-width="2" />
<text x="1109.3" y="693.0" font-size="24" text-anchor="end">1K</text>
<line x1="1117.9" y1="734.4" x2="1124.6" y2="734.4" stroke="#000" stroke-width="2" />
<text x="1109.3" y="742.9" font-size="24" text-anchor="end">0K</text>
<line x1="1124.6" y1="734.4" x2="1124.6" y2="740.9" stroke="#000" stroke-width="2" />
<text x="1124.6" y="760.5" font-size="24" text-anchor="middle">0</text>
<line x1="1225.4" y1="734.4" x2="1225.4" y2="740.9" stroke="#000" stroke-width="2" />
<text x="1225.4" y="760.5" font-size="24" text-anchor="middle">20</text>
<line x1="1326.2" y1="734.4" x2="1326.2" y2="740.9" stroke="#000" stroke-width="2" />
<text x="1326.2" y="760.5" font-size="24" text-anchor="middle">40</text>
<line x1="1427.0" y1="734.4" x2="1427.0" y2="740.9" stroke="#000" stroke-width="2" />
<text x="1427.0" y="760.5" font-size="24" text-anchor="middle">60</text>
<line x1="1527.8" y1="734.4" x2="1527.8" y2="740.9" stroke="#000" stroke-width="2" />
<text x="1527.8" y="760.5" font-size="24" text-anchor="middle">80</text>
<line x1="1512.7" y1="734.4" x2="1512.7" y2="739.4" stroke="#000" stroke-width="2" />
<text transform="translate(1066.5,685.6) rotate(-90)" font-size="23.4">CPM</text>
<text x="1164.9" y="571.2" font-size="24.8" font-weight="bold" textLength="174.2" lengthAdjust="spacingAndGlyphs">mapping tRNA</text>
<text x="1340.2" y="559.2" font-size="12.3" font-weight="bold">Met(CAU)</text>
<text x="1402.4" y="571.2" font-size="24.8" font-weight="bold" textLength="85.3" lengthAdjust="spacingAndGlyphs">3' ends</text>
<text x="1327.0" y="785.4" font-size="24.5" text-anchor="middle">position, nt</text>
<rect x="1401.1" y="601.8" width="9.8" height="9.8" fill="#e41a1c" stroke="#000" stroke-width="1.6" />
<text x="1413.0" y="614.6" font-size="24" textLength="96.5" lengthAdjust="spacingAndGlyphs"><tspan font-style="italic">Ror</tspan>Slfn5</text>
<rect x="2003.6" y="592.7" width="6.2" height="141.7" fill="#000" />
<line x1="1695.7" y1="733.9" x2="1703.2" y2="733.9" stroke="#000" stroke-width="2.6" />
<line x1="1715.9" y1="733.9" x2="1723.4" y2="733.9" stroke="#000" stroke-width="2.6" />
<line x1="1761.3" y1="733.9" x2="1768.9" y2="733.9" stroke="#000" stroke-width="2.6" />
<line x1="1776.5" y1="733.9" x2="1816.9" y2="733.9" stroke="#000" stroke-width="2.6" />
<line x1="1819.9" y1="733.9" x2="1827.0" y2="733.9" stroke="#000" stroke-width="2.6" />
<line x1="1830.0" y1="733.9" x2="1837.1" y2="733.9" stroke="#000" stroke-width="2.6" />
<line x1="1842.1" y1="733.9" x2="1852.2" y2="733.9" stroke="#000" stroke-width="2.6" />
<line x1="1912.8" y1="733.9" x2="1920.4" y2="733.9" stroke="#000" stroke-width="2.6" />
<line x1="1953.2" y1="733.9" x2="1960.8" y2="733.9" stroke="#000" stroke-width="2.6" />
<line x1="1983.5" y1="733.9" x2="2003.7" y2="733.9" stroke="#000" stroke-width="2.6" />
<rect x="1619.9" y="584.7" width="406.1" height="149.7" fill="none" stroke="#000" stroke-width="2" />
<line x1="1613.4" y1="584.7" x2="1619.9" y2="584.7" stroke="#000" stroke-width="2" />
<text x="1604.8" y="593.2" font-size="24" text-anchor="end">3K</text>
<line x1="1613.4" y1="634.6" x2="1619.9" y2="634.6" stroke="#000" stroke-width="2" />
<text x="1604.8" y="643.1" font-size="24" text-anchor="end">2K</text>
<line x1="1613.4" y1="684.5" x2="1619.9" y2="684.5" stroke="#000" stroke-width="2" />
<text x="1604.8" y="693.0" font-size="24" text-anchor="end">1K</text>
<line x1="1613.4" y1="734.4" x2="1619.9" y2="734.4" stroke="#000" stroke-width="2" />
<text x="1604.8" y="742.9" font-size="24" text-anchor="end">0K</text>
<line x1="1619.9" y1="734.4" x2="1619.9" y2="740.9" stroke="#000" stroke-width="2" />
<text x="1619.9" y="760.5" font-size="24" text-anchor="middle">0</text>
<line x1="1720.9" y1="734.4" x2="1720.9" y2="740.9" stroke="#000" stroke-width="2" />
<text x="1720.9" y="760.5" font-size="24" text-anchor="middle">20</text>
<line x1="1821.9" y1="734.4" x2="1821.9" y2="740.9" stroke="#000" stroke-width="2" />
<text x="1821.9" y="760.5" font-size="24" text-anchor="middle">40</text>
<line x1="1922.9" y1="734.4" x2="1922.9" y2="740.9" stroke="#000" stroke-width="2" />
<text x="1922.9" y="760.5" font-size="24" text-anchor="middle">60</text>
<line x1="2023.9" y1="734.4" x2="2023.9" y2="740.9" stroke="#000" stroke-width="2" />
<text x="2023.9" y="760.5" font-size="24" text-anchor="middle">80</text>
<text transform="translate(1567.3,685.6) rotate(-90)" font-size="23.4">CPM</text>
<text x="1660.9" y="571.2" font-size="24.8" font-weight="bold" textLength="174.2" lengthAdjust="spacingAndGlyphs">mapping tRNA</text>
<text x="1836.2" y="559.2" font-size="12.3" font-weight="bold">Met(CAU)</text>
<text x="1898.4" y="571.2" font-size="24.8" font-weight="bold" textLength="85.3" lengthAdjust="spacingAndGlyphs">3' ends</text>
<text x="1822.5" y="785.4" font-size="24.5" text-anchor="middle">position, nt</text>
<rect x="1800.0" y="601.3" width="11.2" height="11.0" fill="#000" />
<text x="1817.0" y="616.0" font-size="24" textLength="96.5" lengthAdjust="spacingAndGlyphs"><tspan font-style="italic">Ror</tspan>Slfn5</text>
<text x="1913.5" y="603.7" font-size="12.3">E15A, D20A</text>
<text x="1032.5" y="810.8" font-size="32" font-weight="bold">j</text>
<rect x="1130.2" y="834.4" width="4.8" height="143.4" fill="#e41a1c" stroke="#000" stroke-width="2" />
<rect x="1135.3" y="972.2" width="4.8" height="5.6" fill="#e41a1c" stroke="#000" stroke-width="2" />
<rect x="1140.3" y="975.8" width="4.8" height="2.0" fill="#e41a1c" stroke="#000" stroke-width="2" />
<rect x="1331.8" y="953.4" width="4.8" height="24.4" fill="#e41a1c" stroke="#000" stroke-width="2" />
<rect x="1336.9" y="976.7" width="4.8" height="1.1" fill="#e41a1c" stroke="#000" stroke-width="2" />
<line x1="1144.8" y1="977.3" x2="1185.1" y2="977.3" stroke="#000" stroke-width="2.6" />
<line x1="1190.1" y1="977.3" x2="1220.4" y2="977.3" stroke="#000" stroke-width="2.6" />
<line x1="1296.0" y1="977.3" x2="1326.2" y2="977.3" stroke="#000" stroke-width="2.6" />
<line x1="1341.3" y1="977.3" x2="1356.4" y2="977.3" stroke="#000" stroke-width="2.6" />
<line x1="1361.5" y1="977.3" x2="1371.6" y2="977.3" stroke="#000" stroke-width="2.6" />
<line x1="1376.6" y1="977.3" x2="1386.7" y2="977.3" stroke="#000" stroke-width="2.6" />
<line x1="1391.7" y1="977.3" x2="1401.8" y2="977.3" stroke="#000" stroke-width="2.6" />
<rect x="1124.6" y="828.3" width="405.0" height="149.5" fill="none" stroke="#000" stroke-width="2" />
<line x1="1117.9" y1="828.3" x2="1124.6" y2="828.3" stroke="#000" stroke-width="2" />
<text x="1109.3" y="836.8" font-size="24" text-anchor="end">5K</text>
<line x1="1117.9" y1="858.2" x2="1124.6" y2="858.2" stroke="#000" stroke-width="2" />
<text x="1109.3" y="866.7" font-size="24" text-anchor="end">4K</text>
<line x1="1117.9" y1="888.1" x2="1124.6" y2="888.1" stroke="#000" stroke-width="2" />
<text x="1109.3" y="896.6" font-size="24" text-anchor="end">3K</text>
<line x1="1117.9" y1="918.0" x2="1124.6" y2="918.0" stroke="#000" stroke-width="2" />
<text x="1109.3" y="926.5" font-size="24" text-anchor="end">2K</text>
<line x1="1117.9" y1="947.9" x2="1124.6" y2="947.9" stroke="#000" stroke-width="2" />
<text x="1109.3" y="956.4" font-size="24" text-anchor="end">1K</text>
<line x1="1117.9" y1="977.8" x2="1124.6" y2="977.8" stroke="#000" stroke-width="2" />
<text x="1109.3" y="986.3" font-size="24" text-anchor="end">0K</text>
<line x1="1124.6" y1="977.8" x2="1124.6" y2="984.3" stroke="#000" stroke-width="2" />
<text x="1124.6" y="1004.4" font-size="24" text-anchor="middle">0</text>
<line x1="1225.4" y1="977.8" x2="1225.4" y2="984.3" stroke="#000" stroke-width="2" />
<text x="1225.4" y="1004.4" font-size="24" text-anchor="middle">20</text>
<line x1="1326.2" y1="977.8" x2="1326.2" y2="984.3" stroke="#000" stroke-width="2" />
<text x="1326.2" y="1004.4" font-size="24" text-anchor="middle">40</text>
<line x1="1427.0" y1="977.8" x2="1427.0" y2="984.3" stroke="#000" stroke-width="2" />
<text x="1427.0" y="1004.4" font-size="24" text-anchor="middle">60</text>
<line x1="1527.8" y1="977.8" x2="1527.8" y2="984.3" stroke="#000" stroke-width="2" />
<text x="1527.8" y="1004.4" font-size="24" text-anchor="middle">80</text>
<text transform="translate(1066.5,929.5) rotate(-90)" font-size="23.4">CPM</text>
<text x="1164.9" y="815.9" font-size="24.8" font-weight="bold" textLength="174.2" lengthAdjust="spacingAndGlyphs">mapping tRNA</text>
<text x="1340.2" y="803.9" font-size="12.3" font-weight="bold">Met(CAU)</text>
<text x="1402.4" y="815.9" font-size="24.8" font-weight="bold" textLength="85.3" lengthAdjust="spacingAndGlyphs">5' ends</text>
<text x="1327.0" y="1028.3" font-size="24.5" text-anchor="middle">position, nt</text>
<rect x="1401.1" y="845.8" width="9.8" height="9.8" fill="#e41a1c" stroke="#000" stroke-width="1.6" />
<text x="1413.0" y="859.2" font-size="24" textLength="96.5" lengthAdjust="spacingAndGlyphs"><tspan font-style="italic">Ror</tspan>Slfn5</text>
<rect x="1624.9" y="833.3" width="6.2" height="144.5" fill="#000" />
<rect x="1629.9" y="970.1" width="6.2" height="7.7" fill="#000" />
<rect x="1635.0" y="976.8" width="6.2" height="1.0" fill="#000" />
<line x1="1640.1" y1="977.3" x2="1650.2" y2="977.3" stroke="#000" stroke-width="2.6" />
<line x1="1655.2" y1="977.3" x2="1665.4" y2="977.3" stroke="#000" stroke-width="2.6" />
<line x1="1670.4" y1="977.3" x2="1680.5" y2="977.3" stroke="#000" stroke-width="2.6" />
<line x1="1700.7" y1="977.3" x2="1710.8" y2="977.3" stroke="#000" stroke-width="2.6" />
<line x1="1791.6" y1="977.3" x2="1801.7" y2="977.3" stroke="#000" stroke-width="2.6" />
<line x1="1821.9" y1="977.3" x2="1837.1" y2="977.3" stroke="#000" stroke-width="2.6" />
<line x1="1847.2" y1="977.3" x2="1857.2" y2="977.3" stroke="#000" stroke-width="2.6" />
<line x1="1872.4" y1="977.3" x2="1882.5" y2="977.3" stroke="#000" stroke-width="2.6" />
<line x1="1887.6" y1="977.3" x2="1897.7" y2="977.3" stroke="#000" stroke-width="2.6" />
<rect x="1619.9" y="828.3" width="406.1" height="149.5" fill="none" stroke="#000" stroke-width="2" />
<line x1="1613.4" y1="828.3" x2="1619.9" y2="828.3" stroke="#000" stroke-width="2" />
<text x="1604.8" y="836.8" font-size="24" text-anchor="end">3K</text>
<line x1="1613.4" y1="878.1" x2="1619.9" y2="878.1" stroke="#000" stroke-width="2" />
<text x="1604.8" y="886.6" font-size="24" text-anchor="end">2K</text>
<line x1="1613.4" y1="928.0" x2="1619.9" y2="928.0" stroke="#000" stroke-width="2" />
<text x="1604.8" y="936.5" font-size="24" text-anchor="end">1K</text>
<line x1="1613.4" y1="977.8" x2="1619.9" y2="977.8" stroke="#000" stroke-width="2" />
<text x="1604.8" y="986.3" font-size="24" text-anchor="end">0K</text>
<line x1="1619.9" y1="977.8" x2="1619.9" y2="984.3" stroke="#000" stroke-width="2" />
<text x="1619.9" y="1004.4" font-size="24" text-anchor="middle">0</text>
<line x1="1720.9" y1="977.8" x2="1720.9" y2="984.3" stroke="#000" stroke-width="2" />
<text x="1720.9" y="1004.4" font-size="24" text-anchor="middle">20</text>
<line x1="1821.9" y1="977.8" x2="1821.9" y2="984.3" stroke="#000" stroke-width="2" />
<text x="1821.9" y="1004.4" font-size="24" text-anchor="middle">40</text>
<line x1="1922.9" y1="977.8" x2="1922.9" y2="984.3" stroke="#000" stroke-width="2" />
<text x="1922.9" y="1004.4" font-size="24" text-anchor="middle">60</text>
<line x1="2023.9" y1="977.8" x2="2023.9" y2="984.3" stroke="#000" stroke-width="2" />
<text x="2023.9" y="1004.4" font-size="24" text-anchor="middle">80</text>
<text transform="translate(1567.3,929.5) rotate(-90)" font-size="23.4">CPM</text>
<text x="1660.9" y="815.9" font-size="24.8" font-weight="bold" textLength="174.2" lengthAdjust="spacingAndGlyphs">mapping tRNA</text>
<text x="1836.2" y="803.9" font-size="12.3" font-weight="bold">Met(CAU)</text>
<text x="1898.4" y="815.9" font-size="24.8" font-weight="bold" textLength="85.3" lengthAdjust="spacingAndGlyphs">5' ends</text>
<text x="1822.5" y="1028.3" font-size="24.5" text-anchor="middle">position, nt</text>
<rect x="1800.0" y="847.2" width="11.2" height="11.0" fill="#000" />
<text x="1817.0" y="860.2" font-size="24" textLength="96.5" lengthAdjust="spacingAndGlyphs"><tspan font-style="italic">Ror</tspan>Slfn5</text>
<text x="1913.5" y="847.9" font-size="12.3">E15A, D20A</text>
<text x="0.5" y="1045.0" font-size="32" font-weight="bold">f</text>
<text x="302.3" y="1046.0" font-size="24.8" text-anchor="middle" font-weight="bold">RNA-seq read alignment</text>
<path d="M97.0,1091.6H244.9V1092.8H245.0V1093.9H244.1V1095.1H245.3V1096.2H244.4V1097.4H248.1V1098.5H248.2V1099.7H244.2V1100.8H245.4V1102.0H245.2V1103.1H244.1V1104.3H248.6V1105.4H244.0V1106.6H248.2V1107.7H245.4V1108.9H245.5V1110.0H245.3V1111.2H245.5V1112.3H246.8V1113.5H244.3V1114.6H248.0V1115.8H244.5V1116.9H244.6V1118.1H244.9V1119.2H245.4V1120.4H245.5V1121.5H250.0V1122.7H244.3V1123.8H249.9V1125.0H248.5V1126.1H244.3V1127.3H248.5V1128.4H244.1V1129.6H250.0V1130.7H245.3V1131.9H244.2V1133.0H245.2V1134.2H246.7V1135.3H244.1V1136.5H244.5V1137.6H249.9V1138.8H245.6V1139.9H244.1V1141.1H244.1V1142.2H244.7V1143.4H244.2V1144.5H245.4V1145.7H245.5V1146.8H247.8V1148.0H244.8V1149.1H245.0V1150.3H245.0V1151.4H248.3V1152.6H245.2V1153.7H244.5V1154.9H248.3V1156.0H244.0V1157.2H244.9V1158.3H245.0V1159.5H244.1V1160.6H244.7V1161.8H244.6V1162.9H245.2V1164.1H244.1V1165.2H245.5V1166.4H244.7V1167.5H244.5V1168.7H244.5V1169.8H245.0V1171.0H244.6V1172.1H246.6V1173.3H245.2V1174.4H244.4V1175.6H247.3V1176.7H244.7V1177.9H244.2V1179.0H244.5V1180.2H248.0V1181.3H247.1V1182.5H245.0V1183.6H248.1V1184.8H244.2V1185.9H244.3V1187.1H249.4V1188.2H244.4V1189.4H248.7V1190.5H247.7V1191.7H244.5V1192.8H247.4V1194.0H244.7V1195.1H244.7V1196.3H247.0V1197.4H245.5V1198.6H250.0V1199.7H245.5V1200.9H247.3V1202.0H249.4V1203.2H244.8V1204.3H244.5V1205.5H244.1V1206.6H244.5V1207.8H97.0Z" fill="#ff3a3a"/>
<path d="M97.0,1093.6H244.3M97.0,1098.2H244.3M97.0,1102.8H244.3M97.0,1107.4H244.3M97.0,1112.0H244.3M97.0,1116.6H244.3M97.0,1121.2H244.3M97.0,1125.8H244.3M97.0,1130.4H244.3M97.0,1135.0H244.3M97.0,1139.6H244.3M97.0,1144.2H244.3M97.0,1148.8H244.3M97.0,1153.4H244.3M97.0,1158.0H244.3M97.0,1162.6H244.3M97.0,1167.2H244.3M97.0,1171.8H244.3M97.0,1176.4H244.3M97.0,1181.0H244.3M97.0,1185.6H244.3M97.0,1190.2H244.3M97.0,1194.8H244.3M97.0,1199.4H244.3M97.0,1204.0H244.3" stroke="#ff0505" stroke-width="2.5" fill="none"/>
<line x1="228.7" y1="1105.0" x2="246.0" y2="1105.0" stroke="#fff" stroke-width="1.1" />
<line x1="223.3" y1="1115.3" x2="246.0" y2="1115.3" stroke="#fff" stroke-width="1.1" />
<line x1="229.3" y1="1124.2" x2="246.0" y2="1124.2" stroke="#fff" stroke-width="1.1" />
<line x1="227.9" y1="1155.5" x2="246.0" y2="1155.5" stroke="#fff" stroke-width="1.1" />
<line x1="229.5" y1="1160.3" x2="246.0" y2="1160.3" stroke="#fff" stroke-width="1.1" />
<line x1="229.3" y1="1178.9" x2="246.0" y2="1178.9" stroke="#fff" stroke-width="1.1" />
<line x1="229.3" y1="1186.7" x2="246.0" y2="1186.7" stroke="#fff" stroke-width="1.1" />
<line x1="227.0" y1="1198.9" x2="246.0" y2="1198.9" stroke="#fff" stroke-width="1.1" />
<line x1="223.1" y1="1205.0" x2="246.0" y2="1205.0" stroke="#fff" stroke-width="1.1" />
<line x1="240.0" y1="1098.0" x2="287.0" y2="1098.0" stroke="#e05050" stroke-width="1" />
<line x1="240.0" y1="1144.0" x2="271.0" y2="1144.0" stroke="#e05050" stroke-width="1" />
<line x1="245.0" y1="1110.0" x2="252.0" y2="1110.0" stroke="#c02020" stroke-width="1" />
<line x1="245.0" y1="1125.0" x2="257.0" y2="1125.0" stroke="#c02020" stroke-width="1" />
<line x1="245.0" y1="1139.0" x2="256.0" y2="1139.0" stroke="#c02020" stroke-width="1" />
<line x1="245.0" y1="1172.0" x2="251.0" y2="1172.0" stroke="#c02020" stroke-width="1" />
<line x1="245.0" y1="1192.0" x2="251.0" y2="1192.0" stroke="#c02020" stroke-width="1" />
<path d="M307.8,1207V1191.6L330,1189.5L360,1188H481.7V1207Z" fill="#ff3a3a"/>
<path d="M308.0,1193.6H481.7M308.0,1198.2H481.7M308.0,1202.8H481.7" stroke="#ff0505" stroke-width="2.5" fill="none"/>
<line x1="241.0" y1="1057.0" x2="241.0" y2="1207.0" stroke="#000" stroke-width="2.2" stroke-dasharray="2.2 2.1"/>
<line x1="306.6" y1="1057.0" x2="306.6" y2="1207.0" stroke="#000" stroke-width="2.2" stroke-dasharray="2.2 2.1"/>
<rect x="92.0" y="1057.0" width="405.2" height="150.0" fill="none" stroke="#000" stroke-width="2" />
<line x1="92.0" y1="1207.0" x2="92.0" y2="1213.5" stroke="#000" stroke-width="2" />
<line x1="142.7" y1="1207.0" x2="142.7" y2="1211.5" stroke="#000" stroke-width="2" />
<line x1="193.3" y1="1207.0" x2="193.3" y2="1213.5" stroke="#000" stroke-width="2" />
<text x="193.3" y="1235.8" font-size="24" text-anchor="middle">20</text>
<line x1="243.9" y1="1207.0" x2="243.9" y2="1211.5" stroke="#000" stroke-width="2" />
<line x1="294.6" y1="1207.0" x2="294.6" y2="1213.5" stroke="#000" stroke-width="2" />
<text x="294.6" y="1235.8" font-size="24" text-anchor="middle">40</text>
<line x1="345.2" y1="1207.0" x2="345.2" y2="1211.5" stroke="#000" stroke-width="2" />
<line x1="395.9" y1="1207.0" x2="395.9" y2="1213.5" stroke="#000" stroke-width="2" />
<text x="395.9" y="1235.8" font-size="24" text-anchor="middle">60</text>
<line x1="446.6" y1="1207.0" x2="446.6" y2="1211.5" stroke="#000" stroke-width="2" />
<line x1="497.2" y1="1207.0" x2="497.2" y2="1213.5" stroke="#000" stroke-width="2" />
<text x="497.2" y="1235.8" font-size="24" text-anchor="middle">80</text>
<text x="300.3" y="1260.4" font-size="24.5" text-anchor="middle">position, nt</text>
<text x="109.8" y="1083.6" font-size="24.6">lysW gene</text>
<rect x="398.8" y="1071.4" width="9.6" height="9.6" fill="#ff3a3a" stroke="#000" stroke-width="1.6" />
<text x="410.2" y="1084.1" font-size="24">PARIS</text>
<text x="368.5" y="1129.8" font-size="24" text-anchor="middle">anticodon</text>
<text x="368.5" y="1149.5" font-size="24" text-anchor="middle">loop</text>
<line x1="323.5" y1="1142.3" x2="303.0" y2="1150.8" stroke="#000" stroke-width="2" />
<path d="M295.5,1154L307.2,1144.8L309.8,1152.3Z" fill="#000"/>
<text x="52.0" y="1119.4" font-size="24" text-anchor="middle">116</text>
<text x="52.0" y="1139.4" font-size="24" text-anchor="middle">read</text>
<text x="52.0" y="1159.9" font-size="24" text-anchor="middle">subset</text>
<text x="804.2" y="1046.0" font-size="24.8" text-anchor="middle" font-weight="bold">RNA-seq read alignment</text>
<rect x="598.6" y="1092.3" width="380.0" height="114.4" fill="#111" />
<path d="M598.6,1095.5H978.6M598.6,1100.0H978.6M598.6,1104.6H978.6M598.6,1109.1H978.6M598.6,1113.7H978.6M598.6,1118.2H978.6M598.6,1122.8H978.6M598.6,1127.3H978.6M598.6,1131.9H978.6M598.6,1136.4H978.6M598.6,1141.0H978.6M598.6,1145.5H978.6M598.6,1150.1H978.6M598.6,1154.6H978.6M598.6,1159.2H978.6M598.6,1163.7H978.6M598.6,1168.3H978.6M598.6,1172.8H978.6M598.6,1177.4H978.6M598.6,1181.9H978.6M598.6,1186.5H978.6M598.6,1191.0H978.6M598.6,1195.6H978.6M598.6,1200.1H978.6M598.6,1204.7H978.6" stroke="#3a3a3a" stroke-width="2" fill="none"/>
<line x1="815.0" y1="1100.7" x2="978.6" y2="1100.7" stroke="#fff" stroke-width="1.3" />
<line x1="745.3" y1="1123.5" x2="978.6" y2="1123.5" stroke="#fff" stroke-width="2.2" />
<line x1="750.0" y1="1167.5" x2="978.6" y2="1167.5" stroke="#999" stroke-width="1.6" />
<line x1="597.0" y1="1137.0" x2="984.6" y2="1137.0" stroke="#777" stroke-width="1.8" />
<line x1="597.0" y1="1183.2" x2="984.6" y2="1183.2" stroke="#777" stroke-width="1.8" />
<line x1="963.0" y1="1172.8" x2="978.6" y2="1172.8" stroke="#ccc" stroke-width="1.2" />
<line x1="963.0" y1="1205.5" x2="978.6" y2="1205.5" stroke="#aaa" stroke-width="1.2" />
<line x1="970.0" y1="1114.5" x2="978.6" y2="1114.5" stroke="#aaa" stroke-width="1.2" />
<rect x="593.8" y="1056.9" width="406.0" height="149.8" fill="none" stroke="#000" stroke-width="2" />
<line x1="593.8" y1="1206.7" x2="593.8" y2="1213.2" stroke="#000" stroke-width="2" />
<line x1="644.5" y1="1206.7" x2="644.5" y2="1211.2" stroke="#000" stroke-width="2" />
<line x1="695.3" y1="1206.7" x2="695.3" y2="1213.2" stroke="#000" stroke-width="2" />
<text x="695.3" y="1235.8" font-size="24" text-anchor="middle">20</text>
<line x1="746.0" y1="1206.7" x2="746.0" y2="1211.2" stroke="#000" stroke-width="2" />
<line x1="796.8" y1="1206.7" x2="796.8" y2="1213.2" stroke="#000" stroke-width="2" />
<text x="796.8" y="1235.8" font-size="24" text-anchor="middle">40</text>
<line x1="847.5" y1="1206.7" x2="847.5" y2="1211.2" stroke="#000" stroke-width="2" />
<line x1="898.3" y1="1206.7" x2="898.3" y2="1213.2" stroke="#000" stroke-width="2" />
<text x="898.3" y="1235.8" font-size="24" text-anchor="middle">60</text>
<line x1="949.0" y1="1206.7" x2="949.0" y2="1211.2" stroke="#000" stroke-width="2" />
<line x1="999.8" y1="1206.7" x2="999.8" y2="1213.2" stroke="#000" stroke-width="2" />
<text x="999.8" y="1235.8" font-size="24" text-anchor="middle">80</text>
<text x="802.4" y="1260.4" font-size="24.5" text-anchor="middle">position, nt</text>
<text x="611.8" y="1083.4" font-size="24.6">lysW gene</text>
<rect x="828.3" y="1071.3" width="10.6" height="10.4" fill="#000" />
<text x="840.3" y="1084.0" font-size="24">PARIS</text>
<text x="912.6" y="1072.6" font-size="12.3">AriB(E26A)</text>
<text x="553.5" y="1119.4" font-size="24" text-anchor="middle">102</text>
<text x="553.5" y="1139.4" font-size="24" text-anchor="middle">read</text>
<text x="553.5" y="1159.9" font-size="24" text-anchor="middle">subset</text>
<text x="1033.5" y="1056.1" font-size="32" font-weight="bold">k</text>
<text x="1335.1" y="1056.1" font-size="24.8" text-anchor="middle" font-weight="bold">RNA-seq read alignment</text>
<path d="M1129.4,1100.1H1296.6V1108H1286.5V1108.0H1286.2V1109.3H1286.2V1110.6H1286.2V1111.9H1293.2V1113.2H1288.2V1114.5H1286.2V1115.8H1292.5V1117.1H1288.8V1118.4H1286.2V1119.7H1286.2V1121.0H1286.2V1122.3H1286.2V1123.6H1286.2V1124.9H1286.2V1126.2H1286.2V1127.5H1293.4V1128.8H1286.2V1130.1H1286.2V1131.4H1286.2V1132.7H1286.2V1134.0H1286.2V1135.3H1286.2V1136.6H1286.2V1137.9H1286.2V1139.2H1286.2V1140.5H1294.1V1141.8H1286.2V1143.1H1291.8V1144.4H1286.2V1145.7H1286.2V1147.0H1292.8V1148.3H1294.3V1149.6H1286.2V1150.9H1286.2V1152.2H1286.2V1153.5H1286.2V1154.8H1286.2V1156.1H1286.2V1157.4H1286.2V1158.7H1286.2V1160.0H1286.2V1161.3H1286.2V1162.6H1286.2V1163.9H1286.2V1165.2H1286.2V1166.5H1286.2V1167.8H1286.2V1169.1H1286.2V1170.4H1286.2V1171.7H1288.2V1173.0H1286.2V1174.3H1286.2V1175.6H1286.2V1176.9H1286.2V1178.2H1272.0V1179.5H1286.2V1180.8H1286.2V1182.1H1286.2V1183.4H1286.2V1184.7H1289.4V1186.0H1286.2V1187.3H1294.6V1188.6H1286.2V1189.9H1286.2V1191.2H1286.2V1192.5H1286.2V1193.8H1286.2V1195.1H1286.2V1196.4H1286.2V1197.7H1286.2V1199.0H1286.2V1200.3H1288.6V1201.6H1286.2V1202.9H1286.2V1204.2H1290.4V1205.5H1291.8V1206.8H1286.2V1208.1H1286.2V1209.4H1286.2V1210.7H1286.2V1212.0H1286.2V1213.3H1286.2V1214.6H1289.1V1215.9H1286.2V1216.0H1129.4Z" fill="#ff3a3a"/>
<path d="M1129.4,1102.0H1285.8M1129.4,1106.0H1285.8M1129.4,1110.1H1285.8M1129.4,1114.1H1285.8M1129.4,1118.2H1285.8M1129.4,1122.2H1285.8M1129.4,1126.3H1285.8M1129.4,1130.3H1285.8M1129.4,1134.4H1285.8M1129.4,1138.4H1285.8M1129.4,1142.5H1285.8M1129.4,1146.5H1285.8M1129.4,1150.6H1285.8M1129.4,1154.6H1285.8M1129.4,1158.7H1285.8M1129.4,1162.7H1285.8M1129.4,1166.8H1285.8M1129.4,1170.8H1285.8M1129.4,1174.9H1285.8M1129.4,1178.9H1285.8M1129.4,1183.0H1285.8M1129.4,1187.0H1285.8M1129.4,1191.1H1285.8M1129.4,1195.1H1285.8M1129.4,1199.2H1285.8M1129.4,1203.2H1285.8M1129.4,1207.3H1285.8M1129.4,1211.3H1285.8M1129.4,1215.4H1285.8" stroke="#ff0505" stroke-width="2.3" fill="none"/>
<line x1="1286.0" y1="1111.4" x2="1513.7" y2="1111.4" stroke="#e83030" stroke-width="1.3" />
<line x1="1286.0" y1="1114.5" x2="1513.7" y2="1114.5" stroke="#e83030" stroke-width="1.3" />
<line x1="1286.0" y1="1139.0" x2="1513.7" y2="1139.0" stroke="#e83030" stroke-width="1.3" />
<line x1="1286.0" y1="1143.9" x2="1513.7" y2="1143.9" stroke="#e83030" stroke-width="1.3" />
<line x1="1286.0" y1="1150.6" x2="1513.7" y2="1150.6" stroke="#e83030" stroke-width="1.3" />
<line x1="1286.0" y1="1165.5" x2="1513.7" y2="1165.5" stroke="#e83030" stroke-width="1.3" />
<line x1="1286.0" y1="1109.5" x2="1300.0" y2="1109.5" stroke="#d82020" stroke-width="1.3" />
<line x1="1286.0" y1="1116.5" x2="1313.0" y2="1116.5" stroke="#d82020" stroke-width="1.3" />
<line x1="1286.0" y1="1122.5" x2="1296.0" y2="1122.5" stroke="#d82020" stroke-width="1.3" />
<line x1="1286.0" y1="1136.5" x2="1300.0" y2="1136.5" stroke="#d82020" stroke-width="1.3" />
<line x1="1286.0" y1="1172.5" x2="1296.0" y2="1172.5" stroke="#d82020" stroke-width="1.3" />
<line x1="1286.0" y1="1178.5" x2="1311.0" y2="1178.5" stroke="#d82020" stroke-width="1.3" />
<line x1="1286.0" y1="1184.0" x2="1296.0" y2="1184.0" stroke="#d82020" stroke-width="1.3" />
<line x1="1286.0" y1="1191.5" x2="1296.0" y2="1191.5" stroke="#d82020" stroke-width="1.3" />
<line x1="1286.0" y1="1198.5" x2="1296.0" y2="1198.5" stroke="#d82020" stroke-width="1.3" />
<line x1="1286.0" y1="1204.0" x2="1334.0" y2="1204.0" stroke="#e83030" stroke-width="1.4" />
<line x1="1286.0" y1="1210.0" x2="1334.0" y2="1210.0" stroke="#e83030" stroke-width="1.4" />
<line x1="1286.0" y1="1214.3" x2="1334.0" y2="1214.3" stroke="#e83030" stroke-width="1.4" />
<path d="M1333.9,1216V1186L1397.6,1182.8V1178.2H1514.2L1513.5,1216Z" fill="#ff3a3a"/>
<path d="M1334.0,1187.1H1514.0M1334.0,1191.1H1514.0M1334.0,1195.2H1514.0M1334.0,1199.2H1514.0M1334.0,1203.3H1514.0M1334.0,1207.3H1514.0M1334.0,1211.4H1514.0M1334.0,1215.4H1514.0" stroke="#ff0505" stroke-width="2.3" fill="none"/>
<line x1="1285.3" y1="1066.2" x2="1285.3" y2="1216.0" stroke="#000" stroke-width="2.2" stroke-dasharray="2.2 2.1"/>
<line x1="1333.4" y1="1066.2" x2="1333.4" y2="1216.0" stroke="#000" stroke-width="2.2" stroke-dasharray="2.2 2.1"/>
<rect x="1124.1" y="1066.2" width="405.3" height="149.8" fill="none" stroke="#000" stroke-width="2" />
<line x1="1124.1" y1="1216.0" x2="1124.1" y2="1222.5" stroke="#000" stroke-width="2" />
<line x1="1174.8" y1="1216.0" x2="1174.8" y2="1220.5" stroke="#000" stroke-width="2" />
<line x1="1225.4" y1="1216.0" x2="1225.4" y2="1222.5" stroke="#000" stroke-width="2" />
<text x="1225.4" y="1245.4" font-size="24" text-anchor="middle">20</text>
<line x1="1276.1" y1="1216.0" x2="1276.1" y2="1220.5" stroke="#000" stroke-width="2" />
<line x1="1326.8" y1="1216.0" x2="1326.8" y2="1222.5" stroke="#000" stroke-width="2" />
<text x="1326.8" y="1245.4" font-size="24" text-anchor="middle">40</text>
<line x1="1377.4" y1="1216.0" x2="1377.4" y2="1220.5" stroke="#000" stroke-width="2" />
<line x1="1428.1" y1="1216.0" x2="1428.1" y2="1222.5" stroke="#000" stroke-width="2" />
<text x="1428.1" y="1245.4" font-size="24" text-anchor="middle">60</text>
<line x1="1478.7" y1="1216.0" x2="1478.7" y2="1220.5" stroke="#000" stroke-width="2" />
<line x1="1529.4" y1="1216.0" x2="1529.4" y2="1222.5" stroke="#000" stroke-width="2" />
<text x="1529.4" y="1245.4" font-size="24" text-anchor="middle">80</text>
<text x="1326.6" y="1269.4" font-size="24.5" text-anchor="middle">position, nt</text>
<text x="1142.6" y="1093.4" font-size="24.6">metU gene</text>
<rect x="1401.5" y="1081.4" width="9.4" height="9.4" fill="#ff3a3a" stroke="#000" stroke-width="1.6" />
<text x="1413.0" y="1093.4" font-size="24" textLength="96.5" lengthAdjust="spacingAndGlyphs"><tspan font-style="italic">Ror</tspan>Slfn5</text>
<text x="1084.0" y="1129.4" font-size="24" text-anchor="middle">129</text>
<text x="1084.0" y="1149.4" font-size="24" text-anchor="middle">read</text>
<text x="1084.0" y="1169.9" font-size="24" text-anchor="middle">subset</text>
<text x="1830.6" y="1056.1" font-size="24.8" text-anchor="middle" font-weight="bold">RNA-seq read alignment</text>
<path d="M1630.6,1104.7H1992.1V1216H1625.8V1112.6H1630.6Z" fill="#0a0a0a"/>
<path d="M1631.0,1107.5H1992.0M1631.0,1110.0H1992.0M1631.0,1112.6H1992.0" stroke="#5c5c5c" stroke-width="0.9" fill="none"/>
<path d="M1626.0,1115.1H1992.0M1626.0,1117.6H1992.0M1626.0,1120.1H1992.0M1626.0,1122.7H1992.0M1626.0,1125.2H1992.0M1626.0,1127.7H1992.0M1626.0,1130.3H1992.0M1626.0,1132.8H1992.0M1626.0,1135.3H1992.0M1626.0,1137.9H1992.0M1626.0,1140.4H1992.0M1626.0,1142.9H1992.0M1626.0,1145.4H1992.0M1626.0,1148.0H1992.0M1626.0,1150.5H1992.0M1626.0,1153.0H1992.0M1626.0,1155.6H1992.0M1626.0,1158.1H1992.0M1626.0,1160.6H1992.0M1626.0,1163.2H1992.0M1626.0,1165.7H1992.0M1626.0,1168.2H1992.0M1626.0,1170.7H1992.0M1626.0,1173.3H1992.0M1626.0,1175.8H1992.0M1626.0,1178.3H1992.0M1626.0,1180.9H1992.0M1626.0,1183.4H1992.0M1626.0,1185.9H1992.0M1626.0,1188.5H1992.0M1626.0,1191.0H1992.0M1626.0,1193.5H1992.0M1626.0,1196.0H1992.0M1626.0,1198.6H1992.0M1626.0,1201.1H1992.0M1626.0,1203.6H1992.0M1626.0,1206.2H1992.0M1626.0,1208.7H1992.0M1626.0,1211.2H1992.0M1626.0,1213.8H1992.0" stroke="#5c5c5c" stroke-width="0.9" fill="none"/>
<rect x="1620.5" y="1066.2" width="405.3" height="149.8" fill="none" stroke="#000" stroke-width="2" />
<line x1="1620.5" y1="1216.0" x2="1620.5" y2="1222.5" stroke="#000" stroke-width="2" />
<line x1="1671.2" y1="1216.0" x2="1671.2" y2="1220.5" stroke="#000" stroke-width="2" />
<line x1="1721.8" y1="1216.0" x2="1721.8" y2="1222.5" stroke="#000" stroke-width="2" />
<text x="1721.8" y="1245.4" font-size="24" text-anchor="middle">20</text>
<line x1="1772.5" y1="1216.0" x2="1772.5" y2="1220.5" stroke="#000" stroke-width="2" />
<line x1="1823.2" y1="1216.0" x2="1823.2" y2="1222.5" stroke="#000" stroke-width="2" />
<text x="1823.2" y="1245.4" font-size="24" text-anchor="middle">40</text>
<line x1="1873.8" y1="1216.0" x2="1873.8" y2="1220.5" stroke="#000" stroke-width="2" />
<line x1="1924.5" y1="1216.0" x2="1924.5" y2="1222.5" stroke="#000" stroke-width="2" />
<text x="1924.5" y="1245.4" font-size="24" text-anchor="middle">60</text>
<line x1="1975.1" y1="1216.0" x2="1975.1" y2="1220.5" stroke="#000" stroke-width="2" />
<line x1="2025.8" y1="1216.0" x2="2025.8" y2="1222.5" stroke="#000" stroke-width="2" />
<text x="2025.8" y="1245.4" font-size="24" text-anchor="middle">80</text>
<text x="1823.0" y="1269.4" font-size="24.5" text-anchor="middle">position, nt</text>
<text x="1638.5" y="1093.4" font-size="24.6">metU gene</text>
<rect x="1800.2" y="1080.1" width="10.8" height="10.4" fill="#000" />
<text x="1817.0" y="1093.4" font-size="24" textLength="94.0" lengthAdjust="spacingAndGlyphs"><tspan font-style="italic">Ror</tspan>Slfn5</text>
<text x="1912.5" y="1082.0" font-size="12.3">E15A, D20A</text>
<text x="1579.8" y="1129.4" font-size="24" text-anchor="middle">44</text>
<text x="1579.8" y="1149.4" font-size="24" text-anchor="middle">read</text>
<text x="1579.8" y="1169.9" font-size="24" text-anchor="middle">subset</text>
<text x="2042.0" y="558.2" font-size="32" font-weight="bold">l</text>
<text x="2108.7" y="581.2" font-size="24.6" text-anchor="middle" font-weight="bold">PARIS</text>
<text x="2066.6" y="613.2" font-size="20.6">tRNA</text>
<text x="2117.4" y="603.0" font-size="10.6">Lys(UUU)</text>
<path d="M2068.1,708.7 L2085.7,712.0 L2068.1,715.5 Z" fill="#999"/>
<path d="M2143.9,707.8 L2126.3,712.2 L2143.9,715.7 Z" fill="#f00"/>
<circle cx="2070.5" cy="788.3" r="10.8" fill="#84b6d8" stroke="#000" stroke-width="2.35"/>
<text x="2070.5" y="795.7" font-size="20.6" text-anchor="middle">U</text>
<circle cx="2076.1" cy="765.0" r="10.8" fill="#84b6d8" stroke="#000" stroke-width="2.35"/>
<text x="2076.1" y="772.4" font-size="20.6" text-anchor="middle">C</text>
<circle cx="2093.1" cy="749.1" r="10.8" fill="#84b6d8" stroke="#000" stroke-width="2.35"/>
<text x="2093.1" y="756.5" font-size="20.6" text-anchor="middle">A</text>
<circle cx="2082.8" cy="808.7" r="10.8" fill="#84b6d8" stroke="#000" stroke-width="2.35"/>
<text x="2082.8" y="816.1" font-size="20.6" text-anchor="middle">U</text>
<circle cx="2106.5" cy="809.1" r="10.8" fill="#84b6d8" stroke="#000" stroke-width="2.35"/>
<text x="2106.5" y="816.5" font-size="20.6" text-anchor="middle">U</text>
<circle cx="2130.5" cy="808.7" r="10.8" fill="#84b6d8" stroke="#000" stroke-width="2.35"/>
<text x="2130.5" y="816.1" font-size="20.6" text-anchor="middle">U</text>
<circle cx="2142.8" cy="788.3" r="10.8" fill="#84b6d8" stroke="#000" stroke-width="2.35"/>
<text x="2142.8" y="795.7" font-size="20.6" text-anchor="middle">A</text>
<circle cx="2136.4" cy="765.0" r="10.8" fill="#84b6d8" stroke="#000" stroke-width="2.35"/>
<text x="2136.4" y="772.4" font-size="20.6" text-anchor="middle">A</text>
<circle cx="2119.3" cy="749.1" r="10.8" fill="#84b6d8" stroke="#000" stroke-width="2.35"/>
<text x="2119.3" y="756.5" font-size="20.6" text-anchor="middle">U</text>
<circle cx="2093.1" cy="725.1" r="10.8" fill="#cddff2" stroke="#000" stroke-width="2.35"/>
<text x="2093.1" y="732.5" font-size="20.6" text-anchor="middle">G</text>
<circle cx="2119.3" cy="725.1" r="10.8" fill="#cddff2" stroke="#000" stroke-width="2.35"/>
<text x="2119.3" y="732.5" font-size="20.6" text-anchor="middle">C</text>
<circle cx="2093.1" cy="701.1" r="10.8" fill="#cddff2" stroke="#000" stroke-width="2.35"/>
<text x="2093.1" y="708.5" font-size="20.6" text-anchor="middle">U</text>
<circle cx="2119.3" cy="701.1" r="10.8" fill="#cddff2" stroke="#000" stroke-width="2.35"/>
<text x="2119.3" y="708.5" font-size="20.6" text-anchor="middle">A</text>
<circle cx="2093.1" cy="677.1" r="10.8" fill="#cddff2" stroke="#000" stroke-width="2.35"/>
<text x="2093.1" y="684.5" font-size="20.6" text-anchor="middle">U</text>
<circle cx="2119.3" cy="677.1" r="10.8" fill="#cddff2" stroke="#000" stroke-width="2.35"/>
<text x="2119.3" y="684.5" font-size="20.6" text-anchor="middle">A</text>
<circle cx="2079.8" cy="632.7" r="10.8" fill="#cddff2" stroke="#000" stroke-width="2.35"/>
<text x="2079.8" y="640.1" font-size="20.6" text-anchor="middle">A</text>
<circle cx="2133.3" cy="633.1" r="10.8" fill="#cddff2" stroke="#000" stroke-width="2.35"/>
<text x="2133.3" y="640.5" font-size="20.6" text-anchor="middle">U</text>
<circle cx="2093.1" cy="653.0" r="10.8" fill="#cddff2" stroke="#000" stroke-width="2.35"/>
<text x="2093.1" y="660.4" font-size="20.6" text-anchor="middle">G</text>
<circle cx="2119.3" cy="653.0" r="10.8" fill="#cddff2" stroke="#000" stroke-width="2.35"/>
<text x="2119.3" y="660.4" font-size="20.6" text-anchor="middle">U</text>
<text x="2067.2" y="731.6" font-size="20.4" text-anchor="middle">30</text>
<text x="2145.3" y="731.6" font-size="20.4" text-anchor="middle">40</text>
<text x="2106.5" y="838.6" font-size="20.6" text-anchor="middle">anticodon</text>
<text x="2042.5" y="889.8" font-size="32" font-weight="bold">m</text>
<text x="2052.0" y="928.6" font-size="24" font-weight="bold" textLength="103.0" lengthAdjust="spacingAndGlyphs"><tspan font-style="italic">Ror</tspan>Slfn5</text>
<text x="2065.6" y="958.3" font-size="20.6">tRNA</text>
<text x="2116.2" y="947.6" font-size="10.6">Met(CAU)</text>
<path d="M2075.4,1079.3 L2093.0,1082.9 L2075.4,1086.4 Z" fill="#7a7a7a"/>
<path d="M2150.9,1079.3 L2133.6,1082.9 L2150.9,1086.0 Z" fill="#f00"/>
<path d="M2058.2,1117.3 L2076.0,1121.0 L2058.2,1124.3 Z" fill="#c8c8c8"/>
<circle cx="2077.8" cy="1133.7" r="10.8" fill="#84b6d8" stroke="#000" stroke-width="2.35"/>
<text x="2077.8" y="1141.1" font-size="20.6" text-anchor="middle">U</text>
<circle cx="2083.3" cy="1111.0" r="10.8" fill="#84b6d8" stroke="#000" stroke-width="2.35"/>
<text x="2083.3" y="1118.4" font-size="20.6" text-anchor="middle">C</text>
<circle cx="2100.5" cy="1094.5" r="10.8" fill="#84b6d8" stroke="#000" stroke-width="2.35"/>
<text x="2100.5" y="1102.0" font-size="21" text-anchor="middle" font-weight="bold" style="fill:#f00;stroke:#f00">A</text>
<circle cx="2090.0" cy="1154.9" r="10.8" fill="#84b6d8" stroke="#000" stroke-width="2.35"/>
<text x="2090.0" y="1162.3" font-size="20.6" text-anchor="middle">C</text>
<circle cx="2114.3" cy="1155.3" r="10.8" fill="#84b6d8" stroke="#000" stroke-width="2.35"/>
<text x="2114.3" y="1162.7" font-size="20.6" text-anchor="middle">A</text>
<circle cx="2138.2" cy="1154.9" r="10.8" fill="#84b6d8" stroke="#000" stroke-width="2.35"/>
<text x="2138.2" y="1162.3" font-size="20.6" text-anchor="middle">U</text>
<circle cx="2150.4" cy="1133.7" r="10.8" fill="#84b6d8" stroke="#000" stroke-width="2.35"/>
<text x="2150.4" y="1141.1" font-size="20.6" text-anchor="middle">A</text>
<circle cx="2144.1" cy="1111.0" r="10.8" fill="#84b6d8" stroke="#000" stroke-width="2.35"/>
<text x="2144.1" y="1118.4" font-size="20.6" text-anchor="middle">A</text>
<circle cx="2126.6" cy="1094.5" r="10.8" fill="#84b6d8" stroke="#000" stroke-width="2.35"/>
<text x="2126.6" y="1102.0" font-size="21" text-anchor="middle" font-weight="bold" style="fill:#f00;stroke:#f00">U</text>
<circle cx="2100.5" cy="1070.6" r="10.8" fill="#cddff2" stroke="#000" stroke-width="2.35"/>
<text x="2100.5" y="1078.0" font-size="20.6" text-anchor="middle">C</text>
<circle cx="2126.6" cy="1070.6" r="10.8" fill="#cddff2" stroke="#000" stroke-width="2.35"/>
<text x="2126.6" y="1078.0" font-size="20.6" text-anchor="middle">G</text>
<circle cx="2100.5" cy="1046.6" r="10.8" fill="#cddff2" stroke="#000" stroke-width="2.35"/>
<text x="2100.5" y="1054.0" font-size="20.6" text-anchor="middle">U</text>
<circle cx="2126.6" cy="1046.6" r="10.8" fill="#cddff2" stroke="#000" stroke-width="2.35"/>
<text x="2126.6" y="1054.0" font-size="20.6" text-anchor="middle">A</text>
<circle cx="2100.5" cy="1022.6" r="10.8" fill="#cddff2" stroke="#000" stroke-width="2.35"/>
<text x="2100.5" y="1030.0" font-size="20.6" text-anchor="middle">A</text>
<circle cx="2126.6" cy="1022.6" r="10.8" fill="#cddff2" stroke="#000" stroke-width="2.35"/>
<text x="2126.6" y="1030.0" font-size="20.6" text-anchor="middle">U</text>
<circle cx="2087.1" cy="978.6" r="10.8" fill="#cddff2" stroke="#000" stroke-width="2.35"/>
<text x="2087.1" y="986.0" font-size="20.6" text-anchor="middle">A</text>
<circle cx="2140.6" cy="979.0" r="10.8" fill="#cddff2" stroke="#000" stroke-width="2.35"/>
<text x="2140.6" y="986.4" font-size="20.6" text-anchor="middle">G</text>
<circle cx="2100.5" cy="998.4" r="10.8" fill="#cddff2" stroke="#000" stroke-width="2.35"/>
<text x="2100.5" y="1005.8" font-size="20.6" text-anchor="middle">C</text>
<circle cx="2126.6" cy="998.4" r="10.8" fill="#cddff2" stroke="#000" stroke-width="2.35"/>
<text x="2126.6" y="1005.8" font-size="20.6" text-anchor="middle">G</text>
<text x="2073.7" y="1077.2" font-size="20.4" text-anchor="middle">31</text>
<text x="2152.2" y="1077.2" font-size="20.4" text-anchor="middle">41</text>
<text x="2114.3" y="1187.0" font-size="20.6" text-anchor="middle">anticodon</text>
</svg></body></html>
